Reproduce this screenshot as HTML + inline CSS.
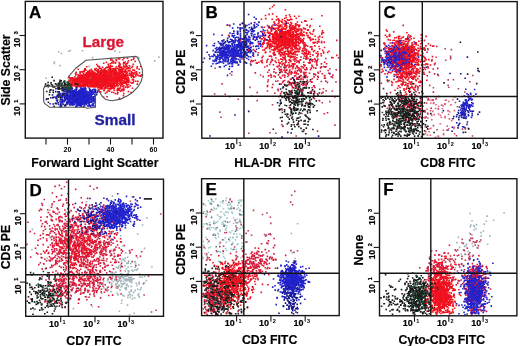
<!DOCTYPE html>
<html><head><meta charset="utf-8"><style>
html,body{margin:0;padding:0;background:#fff;width:520px;height:346px;overflow:hidden}
svg{display:block;filter:blur(0.35px)}
text{font-family:"Liberation Sans",sans-serif}
</style></head><body>
<svg width="520" height="346" viewBox="0 0 520 346">
<path fill="none" stroke="#a2caca" stroke-width="1.6" stroke-linecap="square" d="M240.0 234.4h0M206.2 255.4h0M222.8 203.3h0M216.2 238.5h0M214.1 233.8h0M223.5 208.7h0M243.0 225.9h0M203.1 257.3h0M220.9 217.4h0M223.6 256.6h0M209.4 227.7h0M228.3 208.2h0M218.2 206.7h0M224.9 225.0h0M210.4 204.1h0M237.9 205.4h0M218.4 234.4h0M233.8 233.8h0M207.7 212.5h0M208.4 228.6h0M205.5 213.9h0M210.4 246.7h0M203.6 245.4h0M226.3 242.4h0M234.3 233.9h0M242.1 243.1h0M218.8 251.4h0M216.4 208.7h0M221.3 217.0h0M227.8 205.2h0M217.9 221.5h0M239.7 215.2h0M207.6 224.6h0M240.2 221.1h0M228.2 212.5h0M219.8 219.0h0M223.2 223.6h0M226.8 212.0h0M223.9 213.5h0M212.4 201.1h0"/>
<path fill="none" stroke="#9fb4b8" stroke-width="1.6" stroke-linecap="square" d="M119.4 70.2h0M94.8 78.7h0M137.4 73.7h0M60.0 65.6h0M54.2 63.4h0M120.2 77.0h0M114.9 51.1h0M68.5 79.2h0M130.4 297.2h0M136.4 270.1h0M131.3 286.4h0M115.5 285.0h0M123.2 283.7h0M118.9 285.2h0M127.6 274.3h0M132.4 298.9h0M133.1 271.3h0M128.2 263.1h0M131.9 270.3h0M129.7 294.2h0M111.8 283.4h0M126.3 289.4h0M137.0 285.4h0M112.0 280.0h0M139.8 277.1h0M136.2 283.3h0M126.4 269.0h0M105.5 264.9h0M121.2 283.8h0M125.5 280.5h0M116.0 276.1h0M115.6 278.0h0M124.9 276.2h0M126.4 285.4h0M113.0 276.6h0M130.9 282.2h0M117.9 268.1h0M116.4 280.7h0M127.5 305.1h0M146.4 280.6h0M134.6 261.6h0M135.2 290.4h0M130.3 279.0h0M129.3 281.1h0M112.5 275.9h0M125.0 266.0h0M129.8 253.4h0M127.0 284.4h0M118.1 294.9h0M122.8 295.5h0M124.8 283.4h0M119.3 285.9h0M133.7 292.4h0M144.5 248.4h0M73.4 308.6h0M56.0 234.9h0M62.1 240.3h0M100.3 284.1h0M59.8 237.8h0M86.6 201.7h0M80.8 291.3h0M132.1 196.7h0M292.2 252.8h0M481.0 232.6h0M472.2 243.8h0M458.4 237.3h0M481.2 236.1h0M483.4 231.0h0M468.1 251.4h0M468.5 254.5h0M470.3 226.8h0M476.5 224.6h0"/>
<path fill="none" stroke="#607c84" stroke-width="1.6" stroke-linecap="square" d="M223.0 201.0h0M213.3 234.9h0M223.0 251.3h0M240.0 210.3h0M236.4 229.8h0M213.9 223.4h0M206.6 223.8h0M240.0 221.3h0M228.8 239.3h0"/>
<path fill="none" stroke="#e0607a" stroke-width="1.6" stroke-linecap="square" d="M423.2 106.2h0M440.3 115.2h0M434.2 114.6h0M423.8 117.5h0M447.3 126.1h0M448.6 114.5h0M430.4 135.2h0M444.9 103.9h0M452.3 118.7h0M433.9 102.8h0M451.7 120.8h0M441.3 117.3h0M425.4 117.2h0M431.7 115.4h0M448.7 128.8h0M436.0 99.2h0M435.6 108.5h0M424.0 96.9h0"/>
<path fill="none" stroke="#b8405e" stroke-width="1.6" stroke-linecap="square" d="M281.2 84.1h0M319.6 100.7h0M284.8 68.4h0M280.9 66.9h0M251.7 96.0h0M214.6 94.0h0M296.2 136.0h0M250.4 63.8h0M275.9 133.2h0M301.7 101.6h0M260.5 75.0h0M303.6 131.4h0M464.8 92.0h0M429.7 85.4h0M448.7 87.3h0M426.3 117.0h0M471.9 111.5h0M472.5 136.0h0M456.5 135.8h0M462.5 129.1h0M468.4 128.3h0M432.5 100.1h0M139.6 274.3h0M47.2 223.5h0M73.7 279.9h0M144.1 295.0h0M106.7 199.4h0M125.7 218.8h0M99.8 279.7h0M151.5 312.0h0M134.5 206.9h0M31.8 287.3h0M133.7 196.8h0M117.6 256.1h0M100.0 272.1h0M30.8 298.9h0M96.5 213.6h0M206.1 216.6h0M209.9 224.8h0M226.5 232.5h0M237.0 222.8h0M235.1 220.3h0M207.3 228.6h0M240.6 222.5h0M241.7 238.3h0M291.7 195.3h0M294.8 191.4h0M262.2 255.9h0M248.2 230.8h0M270.1 233.7h0M265.6 236.1h0M256.5 253.9h0M270.7 234.6h0M259.8 260.3h0M450.9 264.3h0M461.9 258.9h0M480.7 240.0h0M454.7 269.6h0M457.6 249.9h0M467.3 248.0h0M457.3 255.8h0M473.3 255.2h0M465.4 254.5h0M467.4 248.2h0M478.4 245.6h0M457.4 271.0h0"/>
<path fill="none" stroke="#d81a3c" stroke-width="1.6" stroke-linecap="square" d="M285.8 94.5h0M257.2 63.1h0M336.7 40.4h0M325.7 58.5h0M312.9 55.1h0M278.0 89.4h0M296.9 34.4h0M268.2 80.0h0M324.8 75.8h0M275.9 72.9h0M288.6 51.6h0M291.3 74.0h0M298.8 26.2h0M290.3 61.5h0M280.2 33.6h0M323.6 52.0h0M301.0 57.1h0M315.6 60.1h0M303.2 84.0h0M297.0 77.6h0M301.3 66.5h0M282.5 75.6h0M289.4 71.5h0M264.7 67.0h0M267.6 85.6h0M314.5 50.7h0M325.3 78.3h0M302.2 53.2h0M305.9 58.7h0M295.1 71.3h0M271.4 77.2h0M296.8 79.1h0M321.1 67.2h0M317.9 55.0h0M324.3 42.1h0M289.7 56.3h0M279.1 53.7h0M253.4 39.3h0M290.7 52.6h0M279.8 39.0h0M338.5 57.8h0M321.4 63.9h0M267.4 46.4h0M314.5 93.4h0M301.5 90.4h0M319.8 26.3h0M255.3 72.9h0M284.5 80.6h0M285.1 72.1h0M288.4 74.3h0M281.7 91.6h0M307.5 82.3h0M292.9 40.7h0M251.3 60.2h0M299.3 76.7h0M289.6 53.9h0M279.9 32.1h0M319.7 89.3h0M317.9 72.3h0M289.0 84.6h0M281.6 69.6h0M288.6 81.4h0M299.0 79.2h0M297.0 66.0h0M321.3 81.5h0M289.6 83.6h0M289.9 70.1h0M294.8 61.2h0M323.1 92.4h0M310.4 69.8h0M327.4 82.4h0M299.8 85.3h0M303.0 85.2h0M301.1 70.2h0M314.6 92.0h0M326.1 90.7h0M313.7 85.9h0M284.5 84.2h0M286.1 72.7h0M318.2 77.3h0M279.9 83.7h0M295.2 85.7h0M303.5 72.8h0M406.6 50.7h0M411.2 49.2h0M405.7 61.6h0M403.3 79.8h0M384.6 43.1h0M407.6 68.8h0M413.3 58.4h0M406.5 58.2h0M395.4 70.7h0M407.7 60.1h0M425.1 58.7h0M406.6 41.2h0M417.3 69.0h0M390.5 92.6h0M392.2 60.7h0M436.7 46.5h0M406.7 72.3h0M417.6 64.3h0M429.5 72.1h0M421.8 55.6h0M399.9 76.7h0M407.3 73.3h0M406.4 48.2h0M404.6 67.1h0M395.6 55.7h0M385.8 61.2h0M428.4 43.8h0M410.7 103.0h0M400.0 87.5h0M425.4 117.7h0M409.7 95.0h0M406.2 98.3h0M409.8 106.3h0M412.0 100.4h0M409.4 106.1h0M401.7 103.5h0M414.8 119.1h0M421.2 117.3h0M411.1 95.3h0M412.8 105.0h0M399.8 96.6h0M400.9 99.4h0M405.6 102.7h0M420.3 97.2h0M407.8 104.5h0M401.0 106.9h0M408.8 91.1h0M403.4 109.2h0M383.6 102.7h0M398.5 106.8h0M423.9 110.6h0M415.0 96.1h0M397.8 106.0h0M412.2 97.8h0M72.6 251.3h0M86.3 234.3h0M95.4 241.5h0M75.6 276.3h0M89.3 266.2h0M90.4 227.0h0M79.4 215.6h0M99.1 242.5h0M42.2 276.8h0M68.0 243.7h0M59.6 249.4h0M93.9 229.7h0M76.1 254.1h0M71.8 238.9h0M59.0 281.1h0M104.2 243.7h0M86.8 232.5h0M101.4 249.1h0M93.0 219.7h0M73.4 268.1h0M98.4 274.4h0M77.3 259.0h0M96.4 235.9h0M88.4 219.1h0M74.3 260.5h0M69.9 249.7h0M90.2 249.9h0M37.8 245.3h0M68.5 240.4h0M83.9 239.3h0M92.3 229.5h0M73.7 232.4h0M84.0 258.9h0M63.1 240.9h0M88.0 248.5h0M90.2 216.9h0M73.2 245.3h0M76.5 237.8h0M62.7 226.4h0M86.8 240.9h0M75.5 259.9h0M88.2 256.5h0M88.6 254.8h0M62.0 247.3h0M76.6 255.4h0M78.8 280.4h0M80.6 225.9h0M65.8 230.8h0M72.8 229.8h0M78.4 256.2h0M91.6 228.3h0M75.5 248.7h0M74.6 258.1h0M66.9 223.9h0M103.6 242.3h0M94.0 255.9h0M78.7 229.7h0M109.6 233.4h0M91.1 250.4h0M64.4 251.4h0M81.1 247.0h0M82.3 231.1h0M70.3 228.0h0M76.0 223.1h0M62.7 236.0h0M55.8 213.5h0M61.7 305.4h0M50.0 214.4h0M59.4 241.3h0M54.9 257.1h0M64.0 253.4h0M56.0 271.0h0M64.9 246.8h0M63.6 229.0h0M58.8 243.4h0M54.4 245.4h0M102.6 220.8h0M79.7 265.9h0M53.1 211.4h0M56.2 219.4h0M63.5 244.0h0M100.9 232.5h0M60.7 243.1h0M59.4 185.4h0M58.0 209.4h0M40.6 209.0h0M64.1 240.5h0M76.7 236.9h0M72.1 236.3h0M57.2 258.7h0M77.5 217.2h0M50.8 237.5h0M73.6 237.0h0M38.8 264.6h0M60.7 273.3h0M56.5 248.7h0M80.9 259.1h0M55.9 261.1h0M80.7 269.3h0M65.9 238.8h0M46.7 239.0h0M60.1 275.4h0M88.1 221.9h0M86.8 215.0h0M59.0 241.0h0M74.3 242.3h0M59.6 251.0h0M85.8 213.3h0M69.6 236.3h0M59.3 212.2h0M65.2 243.2h0M66.9 202.9h0M78.0 226.3h0M57.1 263.7h0M43.6 251.3h0M52.8 272.2h0M71.2 241.4h0M56.0 234.2h0M66.3 198.7h0M62.7 206.3h0M51.7 230.9h0M52.5 221.0h0M46.3 221.6h0M59.2 254.0h0M72.7 265.1h0M71.5 225.1h0M61.6 195.2h0M69.9 247.8h0M69.8 284.5h0M74.5 241.1h0M73.3 268.1h0M57.1 261.2h0M60.4 200.0h0M68.3 242.8h0M65.6 238.6h0M61.5 188.8h0M75.8 217.3h0M84.8 237.6h0M54.0 201.7h0M60.1 250.2h0M68.3 225.8h0M43.3 244.6h0M52.8 247.5h0M41.9 203.5h0M94.3 206.4h0M54.6 232.8h0M70.3 238.4h0M67.9 273.7h0M91.3 304.7h0M88.6 237.2h0M63.4 204.4h0M71.2 264.8h0M68.0 213.7h0M43.3 237.7h0M93.0 261.3h0M54.1 212.2h0M69.1 244.1h0M67.8 226.0h0M68.3 257.5h0M60.7 216.6h0M64.8 242.1h0M73.2 215.5h0M59.3 260.5h0M51.0 215.8h0M64.8 210.0h0M67.4 298.4h0M46.6 234.9h0M71.3 296.0h0M69.5 284.4h0M111.9 286.3h0M99.4 287.3h0M92.2 282.7h0M78.7 285.2h0M62.2 277.4h0M79.8 277.5h0M87.7 264.6h0M97.5 279.1h0M79.0 290.1h0M76.2 285.9h0M95.6 274.2h0M117.6 287.9h0M106.7 273.0h0M72.9 277.1h0M93.1 279.7h0M73.8 285.2h0M79.9 277.7h0M86.9 285.9h0M64.0 286.3h0M76.1 284.4h0M90.9 281.3h0M89.1 276.8h0M80.8 290.0h0M81.5 279.4h0M81.1 293.0h0M66.5 274.5h0M94.0 280.1h0M89.8 282.2h0M100.8 282.5h0M80.6 294.2h0M67.5 287.5h0M86.7 286.2h0M103.2 279.7h0M94.3 272.6h0M110.3 277.4h0M100.4 282.6h0M84.9 290.0h0M97.5 281.0h0M108.7 295.5h0M116.6 279.5h0M100.5 272.1h0M97.9 282.8h0M109.6 282.5h0M70.6 295.2h0M84.0 279.2h0M112.3 272.6h0M100.2 279.4h0M92.7 287.7h0M103.0 286.2h0M117.1 286.5h0M69.5 292.2h0M73.1 288.0h0M97.3 277.5h0M87.5 283.7h0M90.1 276.4h0M81.5 279.7h0M87.7 279.0h0M72.2 279.2h0M89.5 262.7h0M84.4 280.8h0M99.7 283.0h0M96.1 215.3h0M89.5 228.9h0M83.1 235.3h0M104.6 210.6h0M98.1 226.2h0M76.8 218.6h0M88.2 216.1h0M101.1 215.1h0M80.4 218.7h0M72.4 225.4h0M88.2 219.7h0M89.1 223.7h0M92.3 218.0h0M96.4 228.8h0M100.2 211.5h0M109.7 206.1h0M78.0 227.6h0M61.9 233.0h0M108.0 215.7h0M72.8 204.5h0M101.4 218.9h0M102.0 228.7h0M113.1 231.5h0M100.7 222.0h0M84.5 218.5h0M108.6 225.2h0M81.1 236.2h0M100.4 216.3h0M85.0 207.9h0M65.1 225.0h0M63.7 263.4h0M84.0 257.4h0M120.6 238.8h0M106.1 255.1h0M89.5 256.2h0M113.5 268.9h0M81.7 252.0h0M86.6 251.7h0M90.4 253.6h0M121.3 241.9h0M99.4 244.3h0M82.6 256.0h0M106.8 235.4h0M105.9 254.5h0M107.9 243.9h0M115.3 259.9h0M81.5 266.5h0M135.8 265.8h0M93.8 251.5h0M72.1 252.4h0M89.2 239.7h0M86.5 265.8h0M104.4 248.0h0M79.3 255.1h0M88.3 254.7h0M81.3 259.1h0M92.6 268.4h0M106.9 259.0h0M81.2 242.9h0M84.8 252.9h0M96.0 250.7h0M96.9 245.4h0M76.0 253.2h0M75.7 246.1h0M114.5 233.9h0M92.2 241.4h0M69.8 257.3h0M79.1 246.4h0M87.1 252.7h0M82.4 245.0h0M66.4 238.6h0M94.7 251.1h0M124.3 245.5h0M96.7 259.3h0M100.1 252.1h0M91.6 254.2h0M75.0 247.3h0M100.9 250.7h0M93.9 255.5h0M102.5 255.2h0M136.4 255.9h0M96.3 264.7h0M120.0 258.7h0M82.5 250.0h0M122.6 251.2h0M99.8 257.0h0M120.6 241.9h0M97.8 248.0h0M86.2 265.1h0M97.2 247.9h0M102.7 246.8h0M130.2 252.5h0M80.4 281.7h0M66.7 294.7h0M65.7 290.4h0M60.7 290.1h0M59.9 296.2h0M56.3 295.5h0M73.1 283.0h0M68.4 300.0h0M53.5 258.0h0M58.8 285.0h0M54.4 299.6h0M62.7 284.7h0M59.9 287.1h0M64.9 292.2h0M51.8 265.4h0M65.0 307.4h0M46.1 280.0h0M50.8 282.3h0M55.7 274.2h0M62.4 284.8h0M71.9 290.7h0M55.6 279.6h0M65.9 282.8h0M55.3 281.1h0M54.8 277.8h0M61.1 292.6h0M63.1 281.6h0M69.0 279.0h0M247.3 283.1h0M274.0 253.9h0M233.6 266.0h0M234.1 279.2h0M244.6 283.4h0M253.2 262.7h0M265.9 262.6h0M269.3 263.5h0M253.3 258.9h0M256.3 274.9h0M259.8 260.7h0M257.2 268.0h0M244.1 273.2h0M250.8 267.9h0M244.5 268.9h0M248.4 273.9h0M242.4 276.4h0M245.1 275.7h0M247.1 263.5h0M251.8 271.6h0M231.7 274.3h0M262.1 255.5h0M265.3 249.6h0M247.5 260.4h0M253.1 277.0h0M248.2 277.5h0M236.0 275.0h0M275.5 268.2h0M244.7 267.8h0M254.9 265.7h0M259.5 271.6h0M232.2 269.1h0M268.4 240.9h0M212.5 276.9h0M266.9 264.4h0M261.1 261.3h0M254.4 274.3h0M269.8 257.2h0M238.5 263.2h0M240.6 276.9h0M253.0 255.9h0M256.5 252.8h0M239.3 279.3h0M272.3 257.5h0M233.2 271.4h0M243.1 274.0h0M236.9 287.8h0M274.2 238.5h0M264.4 261.9h0M239.5 280.4h0M242.3 267.6h0M240.7 268.7h0M254.2 256.2h0M244.7 272.7h0M275.8 259.9h0M224.5 280.4h0M228.7 279.0h0M221.5 293.4h0M225.7 291.5h0M203.2 309.0h0M211.8 295.4h0M210.4 281.4h0M226.9 301.0h0M212.6 310.2h0M221.3 295.1h0M211.9 313.8h0M211.4 301.6h0M213.4 299.2h0M209.9 306.3h0M225.3 286.5h0M216.9 293.9h0M228.9 293.8h0M209.9 300.4h0M204.7 299.8h0M204.7 301.0h0M211.8 309.5h0M214.3 290.9h0M204.8 295.1h0M221.4 303.1h0M215.4 290.9h0M207.1 294.5h0M220.3 286.5h0M228.6 291.0h0M222.3 299.5h0M208.4 295.4h0M208.6 305.9h0M207.1 314.3h0M213.8 293.7h0M217.0 294.4h0M227.5 297.1h0M206.6 295.8h0M203.1 281.8h0M216.2 285.3h0M202.8 296.8h0M211.2 300.2h0M210.7 290.2h0M212.2 285.5h0M214.7 310.5h0M220.0 298.1h0M207.1 310.8h0M214.3 297.5h0M428.4 270.3h0M432.4 278.8h0M436.2 250.8h0M432.1 272.5h0M438.8 254.9h0M443.2 267.8h0M448.2 253.4h0M444.8 252.9h0M438.9 272.2h0M450.9 269.2h0M428.8 280.5h0M441.8 256.1h0M428.0 270.9h0M452.1 266.5h0M437.1 266.5h0M439.9 266.2h0M431.5 251.0h0M445.6 267.8h0M431.6 264.2h0M433.9 265.8h0M436.2 272.8h0M436.9 277.0h0M427.2 268.4h0M435.3 267.8h0M441.6 271.7h0M434.3 262.8h0M443.3 268.7h0M438.1 283.7h0M430.7 273.9h0M434.3 260.9h0M477.5 270.2h0M477.6 272.0h0M467.8 282.1h0M475.2 277.7h0M471.5 269.4h0M465.6 293.1h0M478.8 276.2h0M469.7 288.6h0M467.3 282.7h0M476.4 276.6h0M478.7 283.4h0M469.4 259.6h0M467.8 271.5h0M463.5 276.2h0M477.3 285.6h0M471.1 283.7h0M469.4 278.9h0M474.0 278.2h0M470.6 282.5h0M472.4 263.6h0M473.2 297.0h0M461.1 280.0h0M475.5 282.5h0M473.0 266.1h0M468.8 272.2h0M462.0 275.4h0M478.9 268.1h0M465.4 260.3h0M469.8 276.8h0M478.6 287.5h0M478.2 267.0h0M472.8 271.9h0M474.4 285.6h0M470.8 293.4h0M467.1 302.3h0M483.1 305.7h0M473.8 281.3h0M474.4 281.7h0M486.9 291.0h0M460.7 295.5h0M479.9 275.3h0M472.3 275.9h0M482.9 292.9h0M469.1 293.7h0M468.6 286.9h0M473.2 299.4h0M485.9 297.0h0M478.3 288.8h0M485.7 287.3h0M473.9 304.3h0M480.4 285.0h0M474.1 303.9h0M458.9 289.7h0M483.6 300.0h0M483.7 310.6h0M478.9 269.3h0M467.3 287.0h0M473.8 293.9h0M482.1 286.2h0M484.8 294.1h0M474.6 311.3h0M472.8 295.7h0M486.2 278.2h0M466.1 291.7h0M476.1 285.0h0M473.6 298.9h0M472.8 275.2h0M469.1 299.8h0M467.1 292.8h0"/>
<path fill="none" stroke="#f0101e" stroke-width="1.6" stroke-linecap="square" d="M91.5 77.6h0M86.1 81.2h0M83.9 81.1h0M79.4 78.7h0M86.2 81.7h0M95.3 78.7h0M91.1 79.0h0M79.4 82.4h0M91.5 79.9h0M93.9 83.3h0M110.4 83.0h0M118.3 79.9h0M99.1 77.5h0M101.3 83.2h0M85.4 77.6h0M103.5 78.3h0M99.3 73.4h0M101.9 84.9h0M111.7 78.4h0M91.4 86.4h0M107.2 79.4h0M86.9 76.9h0M97.3 84.7h0M93.3 75.5h0M100.0 89.0h0M99.0 81.3h0M77.7 78.5h0M94.7 81.6h0M96.5 79.1h0M101.5 76.2h0M92.0 85.7h0M83.9 74.9h0M90.9 85.6h0M88.0 82.1h0M74.6 84.8h0M78.5 82.6h0M84.4 84.9h0M98.1 80.8h0M85.3 80.6h0M101.1 85.1h0M106.0 72.0h0M74.7 85.6h0M99.0 79.6h0M85.8 79.2h0M98.5 80.2h0M76.8 79.9h0M70.0 78.7h0M91.7 75.8h0M97.0 70.9h0M81.8 71.9h0M95.4 74.4h0M90.9 75.0h0M106.0 73.6h0M77.1 83.6h0M92.4 86.8h0M94.5 78.4h0M75.8 83.9h0M109.7 71.8h0M91.8 84.0h0M90.0 82.2h0M110.1 68.9h0M104.4 78.8h0M94.0 75.6h0M100.3 86.2h0M100.7 91.9h0M103.3 79.0h0M93.6 81.3h0M97.8 70.1h0M91.9 80.2h0M88.3 78.8h0M75.3 79.0h0M112.2 81.0h0M88.7 76.7h0M111.6 80.7h0M96.2 82.2h0M89.9 74.9h0M93.4 84.0h0M100.5 75.9h0M82.1 75.2h0M81.7 80.5h0M75.8 75.0h0M106.2 79.8h0M87.2 82.2h0M89.2 78.8h0M96.9 79.1h0M76.1 81.1h0M101.0 86.6h0M125.3 79.3h0M93.6 77.3h0M106.3 81.6h0M86.1 81.7h0M87.7 78.9h0M92.6 83.7h0M84.6 77.5h0M88.9 80.2h0M99.4 77.4h0M93.2 83.5h0M99.9 76.5h0M81.8 78.2h0M82.0 78.1h0M79.9 84.6h0M94.6 76.9h0M117.2 80.4h0M101.7 79.7h0M109.5 75.4h0M78.4 83.8h0M85.7 74.6h0M91.7 84.9h0M91.3 79.5h0M82.4 83.6h0M90.6 76.7h0M90.4 84.9h0M83.5 73.6h0M92.4 77.9h0M92.6 77.2h0M86.4 76.6h0M92.3 75.6h0M88.5 71.2h0M96.0 84.8h0M101.2 84.9h0M106.2 73.5h0M104.6 81.4h0M75.9 86.5h0M96.0 83.1h0M89.5 84.3h0M96.6 76.7h0M100.5 74.0h0M86.6 73.0h0M95.8 79.0h0M80.4 79.3h0M92.2 82.8h0M114.6 81.5h0M101.4 75.2h0M117.7 79.4h0M109.6 79.6h0M90.4 85.3h0M72.1 80.5h0M71.5 78.5h0M86.5 85.1h0M80.3 82.2h0M95.5 80.9h0M85.7 77.9h0M92.9 80.9h0M92.5 74.7h0M100.7 79.8h0M98.2 69.5h0M87.6 82.8h0M82.0 79.1h0M70.8 79.5h0M105.5 85.7h0M89.3 82.5h0M101.3 83.0h0M99.4 80.3h0M101.6 83.6h0M82.3 80.7h0M107.8 78.7h0M92.8 83.6h0M92.2 75.5h0M87.6 79.1h0M118.0 79.9h0M110.5 77.2h0M92.9 79.0h0M87.2 81.1h0M100.5 88.8h0M105.6 88.8h0M83.6 83.5h0M84.4 77.0h0M102.7 84.7h0M80.3 83.2h0M96.1 76.1h0M72.3 83.4h0M97.5 78.8h0M96.9 81.4h0M108.1 79.1h0M72.4 78.6h0M111.9 71.2h0M88.4 81.3h0M83.2 78.7h0M104.3 76.7h0M101.1 73.5h0M85.5 79.0h0M84.3 71.7h0M79.9 78.4h0M81.0 78.1h0M84.7 75.1h0M123.8 74.6h0M95.2 74.5h0M91.3 75.5h0M103.4 84.6h0M102.2 80.8h0M79.2 77.2h0M84.4 70.3h0M77.5 83.7h0M88.3 77.4h0M107.2 82.0h0M102.7 85.7h0M104.4 71.6h0M95.6 79.9h0M85.4 82.0h0M92.0 75.6h0M73.9 81.9h0M87.7 82.9h0M96.2 73.7h0M91.5 80.0h0M85.3 84.6h0M107.1 76.4h0M103.4 84.4h0M79.0 79.1h0M91.3 82.0h0M103.8 70.8h0M89.6 84.3h0M91.2 78.1h0M106.0 81.2h0M104.8 73.7h0M92.3 75.9h0M98.9 84.9h0M87.1 84.1h0M105.0 82.4h0M92.4 79.2h0M83.1 84.5h0M69.0 81.1h0M78.3 82.0h0M88.0 82.0h0M92.4 73.5h0M102.7 78.9h0M103.0 76.9h0M73.4 78.3h0M80.0 77.8h0M82.9 80.8h0M72.5 85.8h0M98.3 80.1h0M104.4 85.5h0M110.2 73.3h0M95.3 79.1h0M92.8 75.2h0M82.9 80.0h0M124.2 75.2h0M90.3 86.6h0M86.2 80.5h0M107.0 87.4h0M92.7 80.0h0M78.2 83.4h0M85.5 80.4h0M81.8 81.5h0M98.9 71.0h0M95.7 77.6h0M107.6 72.1h0M125.1 82.7h0M106.9 83.1h0M117.2 79.3h0M95.1 85.1h0M112.2 86.6h0M107.6 72.8h0M127.4 87.5h0M120.8 81.7h0M106.5 79.1h0M130.0 70.5h0M116.2 59.9h0M103.5 97.2h0M103.3 86.1h0M125.7 81.5h0M105.1 77.3h0M125.9 78.3h0M121.4 72.5h0M99.2 76.1h0M101.4 76.8h0M114.0 84.4h0M117.4 76.2h0M124.9 82.5h0M99.3 82.8h0M119.2 75.4h0M104.7 71.8h0M119.1 76.8h0M113.0 68.6h0M105.5 93.2h0M106.4 78.2h0M119.7 80.6h0M114.3 90.2h0M108.5 76.8h0M123.7 78.3h0M128.5 79.6h0M112.3 70.3h0M115.5 68.3h0M116.0 79.6h0M125.5 82.7h0M101.8 79.6h0M126.2 82.2h0M105.0 69.4h0M121.1 76.3h0M110.0 84.7h0M115.2 82.8h0M109.7 77.7h0M115.0 75.2h0M118.9 76.4h0M114.6 77.2h0M102.9 83.5h0M119.7 73.4h0M135.8 74.8h0M113.7 92.5h0M94.9 84.7h0M119.9 78.1h0M107.5 72.7h0M136.6 71.7h0M99.2 87.3h0M119.4 98.3h0M118.3 58.8h0M125.0 67.1h0M113.4 61.5h0M106.3 80.1h0M128.3 79.6h0M105.3 70.7h0M131.4 75.8h0M118.7 75.1h0M117.0 73.7h0M112.6 83.4h0M122.4 69.4h0M124.3 71.4h0M117.7 68.4h0M106.0 79.0h0M103.0 80.3h0M121.7 77.2h0M115.4 71.3h0M125.9 76.4h0M118.7 73.3h0M116.8 80.8h0M115.1 76.1h0M114.9 80.8h0M102.6 83.7h0M137.0 68.5h0M106.7 84.3h0M122.1 82.8h0M103.8 79.4h0M121.9 84.6h0M121.1 71.1h0M121.0 80.1h0M139.1 76.0h0M125.7 78.3h0M101.2 74.8h0M124.1 78.1h0M107.0 73.1h0M106.6 72.4h0M100.5 82.0h0M126.1 74.9h0M139.6 72.7h0M118.4 73.2h0M109.3 76.9h0M110.5 84.0h0M135.9 76.0h0M123.2 86.0h0M123.9 85.8h0M117.1 81.7h0M133.3 79.3h0M97.8 87.8h0M102.1 76.3h0M109.0 80.9h0M110.1 88.5h0M110.4 65.5h0M117.5 78.2h0M103.6 73.7h0M102.5 77.4h0M120.4 76.9h0M135.0 72.2h0M131.2 75.1h0M112.2 78.4h0M112.1 73.0h0M122.4 69.7h0M128.6 86.8h0M117.4 78.0h0M110.9 84.3h0M128.4 91.5h0M108.0 79.8h0M103.0 83.1h0M120.4 69.8h0M104.7 80.5h0M106.4 82.2h0M107.2 79.9h0M107.2 83.8h0M113.9 85.4h0M118.5 81.4h0M124.1 82.6h0M111.9 86.5h0M101.2 77.7h0M117.0 85.0h0M114.3 72.0h0M125.4 72.2h0M105.2 85.3h0M126.8 80.3h0M124.0 58.2h0M117.6 88.2h0M121.1 82.8h0M105.5 71.7h0M121.4 90.3h0M112.8 71.3h0M139.2 69.3h0M133.9 58.1h0M132.9 70.1h0M91.4 69.3h0M99.5 68.2h0M128.0 82.5h0M94.7 85.3h0M127.9 87.2h0M126.4 82.1h0M117.2 83.6h0M85.0 68.7h0M126.3 83.9h0M131.8 74.0h0M125.2 61.9h0M106.2 82.9h0M96.8 81.0h0M103.1 78.1h0M119.7 59.0h0M86.7 66.8h0M111.7 63.0h0M120.9 67.7h0M101.3 75.7h0M119.2 79.9h0M142.2 74.7h0M117.6 77.0h0M126.3 66.1h0M106.9 79.8h0M103.5 77.3h0M123.4 83.4h0M112.2 70.9h0M96.7 64.5h0M99.5 84.9h0M99.5 82.2h0M111.1 76.6h0M95.4 77.1h0M280.1 26.2h0M287.8 37.8h0M290.8 40.4h0M280.0 46.8h0M286.9 33.6h0M284.3 39.1h0M292.8 44.7h0M268.5 43.6h0M290.7 19.1h0M274.1 36.6h0M284.5 53.9h0M296.2 40.0h0M282.1 26.6h0M285.3 37.4h0M274.8 48.6h0M287.3 42.3h0M291.1 25.1h0M290.6 44.5h0M285.0 46.8h0M273.7 46.5h0M295.4 32.0h0M299.5 48.4h0M282.2 48.9h0M284.7 41.5h0M283.5 32.5h0M290.5 42.7h0M285.7 33.4h0M295.5 42.8h0M296.2 44.1h0M283.7 39.3h0M270.0 32.6h0M288.8 35.5h0M281.3 31.4h0M295.8 27.3h0M288.9 30.3h0M269.0 27.6h0M283.0 42.8h0M270.1 33.9h0M276.3 32.6h0M288.5 41.4h0M273.6 37.9h0M277.7 46.3h0M289.5 44.7h0M288.8 38.7h0M287.1 43.6h0M293.5 33.9h0M275.4 38.0h0M301.0 33.0h0M290.6 51.1h0M287.5 45.5h0M261.8 44.6h0M284.8 57.5h0M282.3 31.7h0M283.9 38.6h0M293.0 46.3h0M276.9 38.2h0M265.1 39.1h0M285.6 22.0h0M294.6 26.6h0M268.9 36.1h0M284.4 44.5h0M271.1 47.4h0M298.2 39.6h0M288.4 42.9h0M291.9 36.7h0M296.4 45.6h0M290.0 40.1h0M291.9 42.8h0M293.0 40.6h0M287.5 30.5h0M286.3 44.0h0M276.7 25.0h0M293.7 36.8h0M294.9 28.0h0M283.1 44.1h0M295.0 36.8h0M279.8 34.7h0M292.2 39.4h0M288.1 39.2h0M301.4 40.9h0M301.7 33.4h0M293.7 46.4h0M288.4 39.9h0M279.3 20.7h0M274.2 42.6h0M285.2 34.8h0M293.9 53.9h0M293.0 40.2h0M298.8 51.8h0M295.6 31.8h0M284.7 26.1h0M274.7 34.2h0M286.5 38.5h0M271.7 30.5h0M290.5 36.8h0M279.6 27.4h0M272.1 33.8h0M284.3 46.2h0M296.4 36.6h0M288.9 43.2h0M283.5 35.0h0M287.4 40.4h0M286.1 35.2h0M284.3 29.0h0M276.3 28.2h0M274.0 46.5h0M299.0 16.3h0M285.1 38.4h0M295.9 52.2h0M275.8 47.6h0M285.5 28.8h0M287.0 35.6h0M278.7 38.8h0M285.5 34.2h0M290.1 33.1h0M300.8 38.8h0M288.1 23.1h0M291.5 28.3h0M298.1 34.4h0M280.8 31.3h0M284.9 42.3h0M287.7 43.5h0M283.0 38.5h0M289.4 34.6h0M280.7 31.2h0M284.7 24.0h0M276.2 31.4h0M285.3 40.4h0M292.2 38.1h0M282.0 22.1h0M293.4 35.5h0M288.0 32.7h0M298.0 45.3h0M307.3 35.4h0M280.0 37.1h0M280.9 34.8h0M281.7 41.4h0M290.1 28.1h0M273.1 28.4h0M277.0 45.6h0M282.4 19.6h0M273.6 39.5h0M281.7 32.2h0M286.7 41.9h0M279.6 49.2h0M271.5 56.7h0M289.5 39.8h0M279.8 38.5h0M281.4 45.5h0M290.9 56.3h0M333.0 57.8h0M278.7 62.2h0M269.7 45.9h0M265.5 15.5h0M284.7 64.6h0M282.0 54.6h0M310.3 25.6h0M288.9 67.4h0M305.2 54.0h0M270.1 51.6h0M293.1 67.4h0M304.4 52.7h0M316.2 53.2h0M311.9 65.4h0M267.0 43.4h0M267.9 42.7h0M278.9 19.5h0M272.5 6.7h0M262.3 46.8h0M271.0 33.8h0M274.5 44.0h0M304.2 76.7h0M253.7 56.3h0M305.2 46.0h0M300.8 42.3h0M287.9 39.3h0M270.1 45.5h0M285.1 58.1h0M300.6 40.8h0M291.8 28.3h0M297.9 61.1h0M271.7 45.2h0M308.1 35.6h0M303.4 51.0h0M284.9 54.9h0M267.2 65.9h0M287.1 47.4h0M310.1 63.0h0M280.5 69.7h0M259.1 43.8h0M269.1 14.4h0M297.1 54.9h0M288.9 56.5h0M265.6 52.1h0M287.6 51.1h0M308.5 51.4h0M280.2 46.3h0M261.1 61.1h0M289.5 40.1h0M322.3 37.2h0M292.3 63.8h0M286.1 17.6h0M290.0 36.0h0M278.8 49.2h0M285.0 58.4h0M296.9 57.7h0M304.4 56.0h0M321.9 15.8h0M274.8 50.2h0M283.8 39.5h0M253.5 60.8h0M287.8 48.4h0M276.8 31.5h0M293.5 65.9h0M284.8 20.7h0M288.4 56.2h0M292.3 54.1h0M291.5 34.2h0M314.0 43.1h0M294.1 46.6h0M306.8 56.5h0M306.4 53.3h0M274.1 36.7h0M331.8 57.6h0M294.5 28.4h0M286.7 69.5h0M322.7 50.4h0M303.3 42.2h0M294.2 53.5h0M259.1 22.2h0M292.4 34.4h0M283.7 57.6h0M307.3 80.4h0M287.8 49.4h0M262.5 38.7h0M263.8 37.4h0M254.8 22.8h0M284.6 65.5h0M270.5 39.7h0M306.0 56.4h0M311.8 46.9h0M299.0 34.2h0M281.5 44.3h0M301.7 22.2h0M322.5 30.9h0M290.8 48.8h0M300.3 76.2h0M298.9 25.9h0M304.4 66.0h0M312.1 39.4h0M288.8 41.7h0M279.8 70.3h0M304.2 74.9h0M274.8 28.8h0M304.3 47.4h0M304.0 46.7h0M303.0 35.4h0M274.8 54.7h0M287.4 42.5h0M264.6 49.9h0M280.2 63.1h0M401.9 64.5h0M399.2 45.8h0M432.5 56.6h0M404.6 52.5h0M406.9 32.7h0M403.3 46.9h0M400.9 43.9h0M409.6 53.1h0M392.4 53.4h0M411.1 46.8h0M414.7 52.8h0M411.4 66.9h0M423.6 56.4h0M399.4 55.4h0M403.5 61.9h0M400.6 55.9h0M408.0 49.2h0M412.5 61.4h0M400.0 41.2h0M399.7 68.9h0M389.0 52.8h0M400.1 69.9h0M410.5 49.3h0M398.6 57.8h0M402.1 60.8h0M395.5 46.1h0M426.1 36.4h0M409.5 56.7h0M406.2 65.0h0M391.0 62.9h0M406.3 50.5h0M389.8 61.8h0M402.8 62.6h0M390.0 49.8h0M406.1 52.3h0M416.2 44.6h0M422.0 43.1h0M411.4 61.2h0M425.1 64.7h0M402.7 57.6h0M403.8 59.2h0M387.9 62.3h0M412.6 68.4h0M404.2 51.4h0M403.5 55.2h0M387.6 73.7h0M427.1 52.2h0M402.9 70.7h0M399.9 72.8h0M411.8 45.3h0M405.7 51.3h0M413.7 47.2h0M399.3 53.9h0M397.0 43.2h0M387.2 80.1h0M406.6 52.8h0M390.2 48.5h0M395.2 59.1h0M385.4 35.3h0M394.3 67.1h0M407.1 57.6h0M388.6 58.9h0M414.9 66.9h0M401.3 50.0h0M411.3 66.0h0M406.7 66.2h0M416.2 43.5h0M398.0 44.9h0M417.2 56.0h0M406.0 46.7h0M394.7 57.3h0M394.9 62.9h0M399.7 55.4h0M401.4 47.4h0M398.4 60.5h0M393.8 57.5h0M409.5 46.8h0M414.1 41.8h0M396.5 56.0h0M394.9 56.8h0M422.0 48.6h0M384.9 44.6h0M387.2 60.3h0M407.1 47.7h0M400.6 40.8h0M399.8 51.7h0M408.1 56.7h0M395.5 45.2h0M399.6 57.7h0M409.0 67.4h0M399.7 61.9h0M403.0 53.7h0M390.4 59.9h0M405.1 41.4h0M412.8 61.2h0M399.7 41.3h0M393.7 31.9h0M405.0 47.8h0M413.6 61.6h0M430.5 45.4h0M405.9 54.3h0M405.4 64.0h0M409.0 67.0h0M401.0 76.9h0M414.1 53.3h0M423.8 61.5h0M406.3 65.8h0M383.0 71.1h0M400.9 59.9h0M386.0 48.3h0M407.2 57.5h0M395.8 65.6h0M401.3 57.7h0M398.3 45.5h0M397.1 50.5h0M407.9 36.4h0M394.6 43.4h0M393.1 54.7h0M388.4 48.3h0M385.8 50.2h0M411.3 71.6h0M402.6 48.8h0M408.5 38.9h0M409.3 66.1h0M428.8 59.6h0M394.5 48.8h0M412.4 66.1h0M414.6 55.7h0M416.0 53.0h0M404.1 58.8h0M407.7 49.2h0M421.6 59.7h0M423.8 56.7h0M395.6 50.1h0M394.4 52.5h0M401.9 63.4h0M388.8 49.1h0M410.4 67.4h0M425.9 45.9h0M398.9 47.5h0M403.4 60.9h0M401.7 40.8h0M388.4 48.0h0M387.5 67.2h0M405.4 48.7h0M420.6 48.9h0M393.0 40.5h0M407.1 44.1h0M412.6 59.9h0M401.6 55.8h0M401.0 75.4h0M408.2 55.2h0M399.5 51.8h0M409.8 48.2h0M395.9 41.7h0M401.8 52.0h0M385.0 62.1h0M404.7 48.1h0M401.0 69.4h0M383.8 43.4h0M389.1 60.4h0M387.9 57.7h0M402.4 76.1h0M404.8 77.4h0M391.9 61.3h0M408.5 73.1h0M404.5 53.5h0M420.1 68.4h0M394.7 68.6h0M427.7 64.3h0M398.6 71.3h0M395.7 67.7h0M399.3 72.7h0M384.7 62.9h0M408.2 68.6h0M411.5 64.0h0M404.0 88.9h0M395.2 67.4h0M407.0 75.7h0M415.1 87.5h0M400.7 70.1h0M414.3 75.7h0M398.4 80.8h0M394.4 68.6h0M400.2 71.6h0M397.1 74.3h0M406.2 77.1h0M420.8 43.7h0M416.8 64.6h0M414.6 73.3h0M407.5 85.8h0M403.8 61.0h0M403.9 76.0h0M405.7 82.7h0M413.9 89.1h0M401.8 74.4h0M401.5 62.9h0M412.0 73.7h0M406.2 74.7h0M414.0 57.9h0M420.3 81.0h0M419.2 76.3h0M410.2 82.3h0M403.3 61.9h0M408.5 71.3h0M414.2 60.6h0M423.1 67.4h0M402.9 70.0h0M408.4 69.0h0M394.0 79.4h0M400.2 71.1h0M407.0 74.3h0M398.2 74.8h0M409.4 71.4h0M416.3 80.8h0M412.9 79.1h0M410.4 73.5h0M398.0 60.8h0M81.6 251.4h0M70.4 260.4h0M55.1 243.8h0M103.1 255.5h0M69.7 247.5h0M62.1 248.7h0M83.9 238.8h0M59.1 246.2h0M83.8 252.3h0M72.5 227.3h0M81.2 262.7h0M82.1 240.5h0M64.2 241.7h0M100.8 242.2h0M108.6 233.8h0M62.4 243.2h0M85.2 233.1h0M77.5 251.2h0M92.3 263.4h0M89.2 249.2h0M83.7 260.2h0M89.7 252.4h0M73.3 250.7h0M80.6 238.8h0M53.5 265.5h0M88.5 237.3h0M68.9 267.6h0M77.2 237.4h0M77.5 243.9h0M79.1 275.6h0M103.5 258.2h0M109.2 244.2h0M68.2 261.9h0M69.9 249.5h0M78.4 245.0h0M78.1 255.7h0M84.5 252.8h0M75.9 276.8h0M87.3 243.1h0M91.3 254.7h0M67.6 239.1h0M79.3 273.3h0M99.4 248.2h0M79.3 254.4h0M63.4 252.3h0M88.8 238.6h0M75.8 258.2h0M60.7 241.6h0M48.7 252.6h0M114.3 237.3h0M73.0 249.2h0M64.8 262.9h0M87.5 239.1h0M59.7 257.6h0M92.0 240.7h0M101.1 245.3h0M90.8 266.6h0M88.6 236.9h0M90.6 234.5h0M68.9 249.4h0M94.9 247.1h0M77.1 240.2h0M72.6 229.2h0M243.6 274.6h0M226.2 277.5h0M239.5 269.5h0M248.6 276.5h0M236.1 288.0h0M228.0 298.5h0M229.6 294.9h0M217.5 279.5h0M221.4 290.4h0M224.4 275.0h0M223.3 292.4h0M213.0 262.7h0M220.5 291.9h0M246.2 274.0h0M231.4 265.5h0M242.5 273.8h0M237.1 291.6h0M237.7 284.1h0M239.9 281.9h0M227.0 267.3h0M227.8 280.3h0M239.1 281.0h0M236.3 276.8h0M230.6 305.9h0M238.8 271.3h0M241.7 285.0h0M226.4 271.2h0M228.1 292.8h0M236.9 294.1h0M238.4 294.4h0M242.0 274.7h0M224.5 282.4h0M242.6 283.2h0M248.6 289.8h0M227.8 302.2h0M233.6 261.8h0M229.9 272.2h0M242.2 286.6h0M218.7 274.6h0M219.8 279.5h0M220.6 274.1h0M232.2 278.9h0M247.9 268.1h0M224.9 283.2h0M232.5 260.4h0M217.9 281.0h0M235.8 278.2h0M231.0 277.9h0M242.6 275.9h0M242.9 276.7h0M235.1 288.8h0M222.3 295.5h0M232.3 278.1h0M225.2 287.2h0M222.1 280.5h0M239.8 278.9h0M240.2 282.7h0M226.4 292.7h0M232.3 278.7h0M240.7 267.8h0M229.5 278.0h0M226.8 281.4h0M223.1 269.0h0M233.7 300.6h0M254.8 281.5h0M244.3 277.5h0M226.0 293.7h0M227.3 272.9h0M250.5 276.3h0M230.0 270.0h0M228.5 296.7h0M237.6 286.1h0M232.4 281.1h0M228.7 284.3h0M216.7 266.2h0M239.9 278.6h0M221.8 292.1h0M227.0 278.5h0M236.5 289.7h0M240.4 273.9h0M225.6 267.6h0M234.0 261.2h0M215.6 273.3h0M253.6 269.1h0M225.4 282.7h0M244.7 283.8h0M236.5 281.6h0M231.0 278.4h0M224.3 307.1h0M216.3 291.9h0M226.2 285.0h0M213.6 284.7h0M219.5 304.9h0M226.6 289.7h0M242.2 275.0h0M234.1 286.0h0M236.2 282.5h0M242.3 272.3h0M212.0 286.9h0M247.5 270.6h0M231.8 270.3h0M229.1 307.3h0M252.8 292.4h0M257.2 275.3h0M232.8 306.9h0M230.2 286.5h0M241.4 293.3h0M245.1 287.9h0M242.0 290.8h0M219.4 276.5h0M238.3 278.4h0M241.2 282.6h0M250.9 279.9h0M228.3 281.2h0M222.1 263.1h0M225.4 284.9h0M224.7 269.7h0M219.9 293.4h0M219.2 296.0h0M228.6 278.7h0M245.2 266.5h0M227.1 292.4h0M226.7 274.0h0M247.8 287.0h0M243.8 294.0h0M232.0 272.4h0M226.0 269.2h0M245.7 277.9h0M236.5 270.6h0M252.1 290.1h0M253.7 278.3h0M212.3 292.8h0M243.5 288.1h0M240.4 286.5h0M215.9 295.0h0M234.6 301.2h0M227.8 298.6h0M231.7 281.5h0M238.3 280.1h0M230.7 285.3h0M231.7 282.5h0M240.4 290.6h0M230.4 298.1h0M222.5 294.0h0M223.3 251.4h0M231.8 275.6h0M222.8 299.7h0M221.6 292.6h0M221.2 281.0h0M231.9 288.5h0M241.1 275.7h0M236.5 281.1h0M234.1 283.3h0M224.9 276.8h0M222.8 284.8h0M217.1 287.0h0M230.0 274.0h0M219.7 281.2h0M235.9 259.7h0M230.8 308.6h0M220.5 282.9h0M430.1 289.1h0M436.5 289.4h0M435.5 295.8h0M434.8 310.5h0M448.2 283.1h0M441.6 271.1h0M439.4 304.7h0M439.8 286.4h0M435.6 287.9h0M431.8 286.5h0M438.8 306.7h0M436.8 283.4h0M445.2 304.5h0M430.8 299.3h0M435.7 302.0h0M432.5 283.5h0M445.3 297.4h0M450.2 297.3h0M443.5 288.3h0M430.4 300.6h0M445.7 296.2h0M444.5 306.1h0M443.5 280.7h0M432.1 300.2h0M445.3 290.8h0M446.9 282.5h0M430.8 288.2h0M437.6 296.4h0M431.2 305.9h0M442.7 288.9h0M427.6 296.5h0M446.6 306.7h0M452.9 288.7h0M434.4 303.1h0M437.6 280.7h0M429.2 281.0h0M443.7 304.3h0M426.1 292.2h0M440.7 304.2h0M443.7 289.8h0M435.1 273.6h0M432.6 280.8h0M435.8 288.4h0M443.7 272.2h0M437.6 298.6h0M441.5 297.8h0M438.9 307.3h0M436.5 292.2h0M433.4 300.1h0M454.0 295.4h0M429.1 294.8h0M438.3 285.2h0M453.3 312.8h0M439.0 279.7h0M440.0 287.7h0M432.2 288.8h0M447.0 302.0h0M438.8 297.8h0M427.0 305.9h0M435.4 287.5h0M440.8 278.6h0M445.4 289.4h0M440.3 289.1h0M448.6 299.0h0M441.4 282.3h0M444.1 292.2h0M441.6 271.2h0M442.4 312.2h0M446.8 286.4h0M446.0 304.2h0M455.7 279.2h0M436.6 314.2h0M443.8 291.1h0M444.2 282.3h0M449.4 288.9h0M430.5 298.1h0M435.5 303.7h0M441.2 308.3h0M445.9 277.2h0M438.6 296.1h0M441.0 275.4h0M447.6 297.2h0M440.8 290.3h0M444.1 300.5h0M438.6 291.2h0M443.1 300.9h0M452.3 286.5h0M438.4 272.1h0M433.8 298.5h0M444.1 268.1h0M439.6 271.7h0M438.6 292.6h0M437.5 275.3h0M452.1 286.8h0M449.8 304.2h0M453.7 290.1h0M443.2 281.3h0M449.7 282.2h0M434.9 275.5h0M451.6 297.6h0M451.4 297.1h0M436.5 294.4h0M444.6 298.3h0M438.7 275.4h0M443.9 288.4h0M437.7 279.9h0M433.4 283.6h0M450.6 265.7h0M454.0 289.1h0M435.3 302.6h0M440.2 291.3h0M447.2 288.0h0M438.0 302.6h0M433.0 291.3h0M432.1 268.7h0M451.8 280.1h0M435.8 279.9h0M434.5 296.1h0M442.9 305.4h0M448.1 285.5h0M445.4 284.1h0M434.5 281.1h0M439.0 284.2h0M440.0 269.3h0M436.6 300.4h0M445.8 305.5h0M434.4 283.5h0M441.9 287.9h0M439.0 281.0h0M441.2 307.2h0M440.3 291.0h0M427.1 296.2h0M436.6 279.9h0M430.7 294.7h0M444.7 303.9h0M437.5 271.0h0M445.3 292.5h0M433.3 300.3h0M443.3 282.6h0M452.2 267.8h0M443.1 303.5h0M440.3 290.5h0M447.5 310.1h0M445.9 278.6h0M432.2 287.3h0M442.0 300.2h0M438.1 286.9h0M439.5 296.3h0M442.4 283.7h0M446.0 285.2h0M430.9 283.2h0M431.4 277.9h0M445.5 310.5h0M440.4 308.8h0M456.3 284.9h0M440.3 279.3h0M436.2 290.8h0M429.2 302.9h0M450.5 305.5h0M446.3 298.6h0M439.6 272.7h0M444.8 302.0h0M437.7 295.9h0M446.2 290.3h0M436.4 302.6h0M435.8 289.7h0M438.6 290.0h0M438.6 294.8h0M442.4 283.3h0M449.7 296.8h0M435.1 309.5h0M445.3 292.4h0M437.1 298.6h0M444.2 272.4h0M441.3 298.0h0M440.6 300.6h0M434.9 280.7h0M443.6 297.7h0M438.8 286.9h0M443.3 276.6h0M447.1 288.9h0M438.0 300.2h0M438.2 274.1h0M437.4 301.1h0M432.5 307.1h0M441.0 313.5h0M442.1 286.3h0M436.5 298.6h0M446.6 299.9h0M450.1 300.2h0M449.7 287.4h0M447.0 280.1h0M448.3 308.0h0M442.8 304.3h0M431.2 289.7h0M447.2 299.2h0M444.0 293.2h0M438.4 295.7h0M441.7 295.3h0M449.8 283.7h0M444.9 282.9h0M445.0 300.6h0M446.5 301.9h0M437.4 297.6h0M442.7 301.5h0M442.2 268.3h0M427.1 311.3h0M439.6 289.0h0M455.3 290.1h0M452.7 301.7h0M429.9 296.7h0M437.6 297.9h0M436.1 296.4h0M436.9 301.2h0M438.4 290.1h0M446.3 295.9h0M428.7 288.2h0"/>
<path fill="none" stroke="#16168a" stroke-width="1.6" stroke-linecap="square" d="M56.6 103.6h0M84.3 98.6h0M53.2 90.4h0M77.6 95.0h0M71.9 95.3h0M80.9 100.9h0M61.9 99.5h0M59.4 96.2h0M76.2 100.4h0M62.3 96.7h0M62.8 100.3h0M76.6 87.9h0M77.6 102.0h0M74.6 99.7h0M89.8 97.3h0M73.3 98.5h0M70.3 98.0h0M59.5 94.2h0M83.3 97.1h0M73.2 92.6h0M81.0 106.1h0M78.2 105.4h0M73.1 91.3h0M91.4 99.1h0M58.7 95.1h0M80.6 92.7h0M56.1 98.4h0M61.9 96.7h0M217.3 58.8h0M239.5 39.9h0M227.2 25.0h0M251.0 65.0h0M260.9 31.5h0M220.4 57.4h0M229.9 25.6h0M236.9 51.7h0M255.0 27.7h0M237.1 50.3h0M229.4 53.3h0M240.1 24.6h0M220.5 61.7h0M240.8 39.0h0M238.6 41.0h0M220.2 49.8h0M244.7 51.4h0M232.3 48.2h0M227.8 46.4h0M233.1 56.3h0M245.6 54.0h0M209.8 58.7h0M240.5 48.9h0M245.0 36.4h0M318.6 136.1h0M248.6 14.5h0M280.6 102.0h0M235.0 115.0h0M459.5 107.0h0M456.7 122.8h0M468.6 115.7h0M463.9 114.8h0M466.6 100.9h0M465.1 114.4h0M467.4 122.0h0M463.4 132.4h0M458.0 127.9h0M464.5 117.8h0M458.3 112.5h0M452.1 131.2h0M464.3 96.0h0M450.0 73.5h0M426.3 67.3h0M106.9 224.9h0M91.9 230.8h0M104.4 228.4h0M103.3 220.7h0M77.2 233.3h0M97.0 219.8h0M105.0 219.5h0M99.5 228.5h0M109.5 213.1h0M99.1 223.1h0M109.8 213.3h0M88.2 227.0h0M108.8 223.3h0M110.8 217.5h0M86.8 220.0h0M93.8 221.5h0M84.8 211.7h0M96.6 219.5h0M89.4 215.6h0M100.5 206.8h0M99.9 221.3h0M91.2 213.6h0M93.5 219.4h0M88.1 212.8h0M91.0 208.2h0M81.3 208.0h0M93.4 228.8h0M103.5 225.3h0M89.1 207.4h0M95.5 206.1h0M108.5 216.0h0M93.8 223.5h0M92.9 209.0h0M84.0 221.6h0M96.7 205.4h0M79.1 219.6h0M94.5 224.5h0M104.4 233.4h0M289.8 295.3h0M292.2 287.9h0M286.5 293.6h0M291.2 305.7h0M295.6 282.2h0M289.5 306.1h0M296.1 279.9h0M292.8 309.1h0M288.2 288.9h0M288.6 296.6h0M292.7 310.6h0M291.6 307.5h0M295.3 302.8h0M285.4 274.3h0M293.9 277.9h0M291.0 300.2h0M286.8 309.2h0M290.9 283.4h0M295.9 312.0h0M293.2 307.4h0M294.8 293.9h0M297.7 287.6h0M285.1 290.3h0M302.0 272.1h0M290.7 288.6h0M289.0 306.2h0M298.0 308.5h0M296.7 297.7h0M295.4 294.2h0M293.1 292.0h0M290.1 292.5h0M290.4 304.2h0M292.5 306.8h0M296.8 290.7h0M292.2 264.9h0M280.7 282.6h0M289.4 298.4h0M289.2 303.0h0M286.6 285.5h0"/>
<path fill="none" stroke="#2222cc" stroke-width="1.6" stroke-linecap="square" d="M92.7 89.7h0M79.3 93.6h0M71.1 95.2h0M67.3 98.9h0M93.7 99.8h0M80.7 88.5h0M80.2 104.5h0M90.4 89.8h0M77.0 98.7h0M75.7 89.6h0M82.0 103.7h0M74.1 98.2h0M89.3 95.8h0M84.4 91.2h0M69.3 90.5h0M78.5 100.9h0M63.1 101.1h0M89.9 90.1h0M95.8 92.7h0M72.8 99.3h0M90.3 99.2h0M83.6 101.2h0M81.2 94.8h0M73.0 101.0h0M84.5 89.8h0M88.3 98.0h0M88.8 102.6h0M90.6 105.9h0M93.1 92.8h0M80.1 99.0h0M73.8 97.3h0M87.5 94.7h0M69.1 102.7h0M73.0 100.7h0M91.4 95.3h0M88.7 102.5h0M76.1 92.7h0M81.4 106.1h0M81.1 98.8h0M76.4 93.7h0M65.6 104.5h0M94.1 100.2h0M76.3 96.3h0M79.6 99.8h0M83.8 88.3h0M85.2 97.5h0M79.0 103.0h0M87.3 95.6h0M76.8 97.2h0M88.0 103.1h0M77.7 92.2h0M88.3 97.3h0M60.9 103.8h0M75.0 101.6h0M87.1 100.5h0M86.5 101.0h0M85.4 100.7h0M74.5 98.1h0M77.0 94.1h0M88.1 98.6h0M82.2 95.6h0M90.3 98.2h0M66.5 97.6h0M87.7 96.6h0M89.6 92.7h0M97.4 91.1h0M92.7 98.5h0M91.0 93.4h0M84.3 104.9h0M67.0 94.2h0M80.3 96.6h0M57.5 96.6h0M72.7 97.3h0M72.2 103.5h0M95.0 99.3h0M87.7 92.0h0M75.2 94.5h0M75.7 99.0h0M85.2 95.5h0M79.2 95.8h0M65.5 100.2h0M61.0 99.7h0M91.4 95.7h0M88.7 100.2h0M58.9 92.2h0M79.6 97.5h0M78.4 98.3h0M61.6 106.2h0M62.0 101.8h0M64.7 96.5h0M89.9 99.7h0M82.9 94.6h0M68.2 100.8h0M83.6 94.3h0M74.5 99.0h0M85.9 93.9h0M89.8 105.8h0M88.3 105.4h0M62.9 95.0h0M70.3 92.6h0M87.6 95.8h0M63.6 94.4h0M82.6 103.3h0M86.0 99.5h0M83.9 99.4h0M89.1 98.1h0M79.3 97.5h0M87.9 98.4h0M70.7 92.7h0M75.4 98.7h0M84.0 91.9h0M72.7 100.8h0M82.9 89.5h0M72.0 97.9h0M93.8 96.7h0M80.4 101.3h0M92.6 105.4h0M83.8 93.0h0M71.8 96.2h0M65.3 99.1h0M91.6 101.3h0M75.6 91.3h0M95.5 89.7h0M89.1 94.4h0M81.5 91.5h0M80.3 98.6h0M83.1 97.7h0M83.7 103.2h0M73.8 93.6h0M74.7 96.9h0M86.0 96.6h0M80.9 105.5h0M79.3 92.9h0M78.1 97.2h0M92.2 92.2h0M85.5 96.4h0M76.7 95.2h0M69.8 97.0h0M74.8 90.4h0M82.1 99.4h0M68.7 99.8h0M79.6 97.9h0M66.8 103.2h0M90.5 97.8h0M89.0 97.6h0M68.1 98.4h0M91.2 91.0h0M94.7 91.7h0M87.8 106.0h0M83.0 96.2h0M79.5 103.2h0M89.8 91.1h0M62.5 100.2h0M58.6 104.4h0M81.1 91.0h0M74.2 91.1h0M90.6 99.1h0M60.3 99.9h0M72.7 97.0h0M64.9 96.3h0M82.2 89.1h0M97.5 92.2h0M86.3 91.1h0M85.3 87.7h0M80.3 100.8h0M83.0 101.2h0M77.8 104.7h0M63.4 88.9h0M88.2 96.5h0M94.0 98.5h0M76.5 100.9h0M84.7 105.6h0M78.7 93.8h0M80.6 88.0h0M80.6 98.1h0M64.4 95.1h0M88.4 99.5h0M69.7 102.8h0M80.4 99.1h0M223.2 52.2h0M231.0 55.3h0M232.3 49.3h0M234.1 62.4h0M240.0 60.1h0M223.9 54.1h0M234.6 44.2h0M245.3 57.0h0M219.8 47.4h0M221.5 57.5h0M241.5 51.1h0M222.9 53.7h0M232.1 56.0h0M226.3 56.1h0M223.0 42.0h0M232.6 55.9h0M204.4 58.4h0M219.8 54.0h0M226.9 55.9h0M234.7 52.0h0M232.8 46.3h0M223.4 59.4h0M235.8 56.6h0M228.1 64.0h0M224.9 47.7h0M224.9 51.8h0M222.0 56.6h0M238.4 56.0h0M216.3 60.3h0M217.4 63.3h0M215.6 59.4h0M237.3 53.7h0M219.1 59.3h0M214.3 45.8h0M239.8 50.1h0M232.9 57.3h0M225.9 51.7h0M217.1 63.2h0M245.8 46.4h0M242.1 52.8h0M239.5 44.7h0M224.8 57.4h0M236.9 45.7h0M237.2 62.9h0M238.9 53.8h0M227.1 52.0h0M241.3 57.4h0M229.4 42.2h0M247.9 50.3h0M219.0 62.8h0M240.6 53.5h0M227.3 50.0h0M237.7 51.2h0M216.0 56.6h0M231.9 55.6h0M228.1 49.9h0M221.8 51.5h0M227.7 54.3h0M240.3 39.0h0M215.5 48.5h0M234.6 58.0h0M224.0 55.5h0M214.8 55.4h0M235.6 62.7h0M225.3 61.4h0M222.0 48.3h0M225.9 47.8h0M237.1 52.0h0M234.6 60.6h0M215.9 59.4h0M228.4 50.8h0M234.6 50.1h0M223.8 54.6h0M238.7 47.0h0M219.8 47.9h0M240.5 49.2h0M244.1 49.7h0M232.5 63.9h0M246.1 47.5h0M219.6 49.7h0M230.1 51.2h0M241.8 46.2h0M223.6 60.7h0M233.0 53.3h0M238.9 45.3h0M219.3 57.3h0M222.2 50.5h0M232.8 55.8h0M234.0 47.6h0M240.4 49.4h0M238.7 54.7h0M228.6 48.9h0M220.4 49.7h0M238.5 51.3h0M248.6 59.5h0M262.0 32.0h0M253.4 46.3h0M260.2 43.3h0M238.3 40.5h0M237.4 31.3h0M229.3 49.0h0M248.8 56.7h0M240.2 29.2h0M241.8 45.8h0M237.8 34.1h0M258.8 22.4h0M240.1 38.6h0M230.5 39.3h0M244.1 38.8h0M224.4 47.1h0M245.6 52.6h0M252.7 43.5h0M221.1 45.2h0M253.7 28.2h0M258.7 43.5h0M252.2 31.2h0M263.3 29.9h0M239.0 45.1h0M241.6 49.3h0M264.1 35.5h0M240.5 33.3h0M256.1 18.9h0M235.2 37.8h0M247.0 54.6h0M255.9 37.0h0M233.6 49.0h0M237.8 41.0h0M241.3 43.9h0M251.6 50.2h0M269.8 35.5h0M246.7 43.9h0M246.6 45.8h0M254.5 26.1h0M241.7 49.7h0M250.9 51.7h0M271.2 28.9h0M229.4 47.8h0M243.4 47.5h0M251.7 29.1h0M239.9 61.7h0M251.5 31.7h0M263.5 42.7h0M241.2 44.6h0M232.3 59.3h0M248.2 39.9h0M241.7 43.4h0M262.7 33.9h0M235.2 41.2h0M239.9 40.8h0M227.0 47.6h0M254.2 37.2h0M249.9 37.9h0M248.7 51.1h0M229.5 41.8h0M227.5 49.2h0M218.0 56.1h0M232.6 28.1h0M249.9 43.7h0M385.4 61.1h0M395.3 65.8h0M406.4 67.6h0M383.6 61.1h0M401.7 58.3h0M395.5 62.0h0M408.9 64.1h0M404.2 72.6h0M383.9 48.9h0M394.0 46.7h0M403.4 61.5h0M391.5 56.8h0M393.7 58.9h0M412.9 69.1h0M399.8 63.0h0M390.6 68.4h0M393.4 59.7h0M385.1 51.6h0M388.6 54.5h0M404.1 50.6h0M398.4 49.7h0M394.9 57.1h0M423.1 49.2h0M406.3 53.0h0M417.8 64.7h0M388.2 62.4h0M402.8 58.5h0M396.1 61.5h0M414.1 50.9h0M394.5 59.9h0M401.7 64.3h0M404.2 43.5h0M400.6 54.4h0M400.1 62.8h0M390.5 62.1h0M387.3 52.9h0M383.7 62.8h0M406.3 54.8h0M403.3 52.7h0M398.8 48.7h0M400.5 56.6h0M406.7 53.1h0M413.8 58.3h0M394.1 51.8h0M403.2 72.0h0M390.8 62.7h0M405.4 68.5h0M402.0 63.0h0M389.0 54.7h0M396.2 53.7h0M402.0 58.8h0M408.5 49.8h0M406.0 45.2h0M405.4 57.0h0M386.6 56.7h0M401.7 58.9h0M409.5 53.2h0M396.9 58.7h0M411.5 56.1h0M396.3 61.1h0M403.6 51.1h0M405.2 57.7h0M405.4 59.2h0M393.1 57.0h0M402.7 56.8h0M389.3 62.9h0M390.3 58.9h0M414.2 55.2h0M390.7 62.2h0M409.3 54.5h0M389.7 61.5h0M398.1 64.6h0M404.3 57.3h0M389.6 51.1h0M401.5 50.1h0M387.8 65.1h0M394.7 60.7h0M398.9 54.8h0M389.7 58.6h0M473.4 111.2h0M463.9 106.1h0M466.7 105.4h0M460.8 112.9h0M472.2 113.6h0M463.4 109.3h0M468.3 114.7h0M465.8 89.2h0M463.1 117.4h0M462.2 105.3h0M464.2 108.2h0M471.0 105.4h0M469.8 99.1h0M461.8 115.3h0M472.4 99.5h0M469.6 105.4h0M461.7 113.2h0M464.6 115.6h0M462.7 108.8h0M470.8 98.2h0M467.0 106.0h0M469.2 96.2h0M460.6 109.7h0M464.4 107.3h0M466.8 102.2h0M463.8 103.1h0M471.8 102.7h0M107.5 210.3h0M105.2 214.2h0M110.6 221.6h0M111.3 227.4h0M116.7 226.8h0M121.3 212.5h0M111.2 216.0h0M112.4 216.4h0M118.0 222.7h0M123.0 212.9h0M108.5 212.3h0M135.5 203.4h0M106.5 208.4h0M113.3 211.6h0M136.3 214.9h0M122.8 212.5h0M113.7 219.2h0M119.4 221.4h0M116.9 211.6h0M126.0 209.7h0M120.2 222.4h0M109.0 216.0h0M115.5 221.8h0M113.8 215.7h0M113.5 220.1h0M127.7 219.8h0M120.1 213.1h0M130.6 221.5h0M116.9 211.6h0M112.7 227.8h0M111.8 210.8h0M135.0 206.2h0M115.3 220.0h0M102.8 207.1h0M105.9 214.1h0M104.1 225.5h0M94.9 218.0h0M110.8 228.5h0M102.8 220.7h0M101.4 215.3h0M124.3 211.9h0M110.2 204.5h0M134.4 224.0h0M116.8 222.5h0M96.6 229.5h0M120.1 206.4h0M99.7 218.5h0M107.4 209.8h0M108.5 200.6h0M117.7 193.7h0M110.7 203.0h0M132.2 204.3h0M120.2 211.0h0M121.1 212.7h0M125.5 220.5h0M116.8 210.7h0M108.2 216.7h0M128.2 205.3h0M111.9 217.5h0M104.1 212.7h0M116.8 228.2h0M135.5 199.6h0M107.3 211.4h0M120.7 210.3h0M115.3 199.9h0M123.1 210.1h0M107.6 206.0h0M126.9 220.1h0M97.5 216.4h0M117.5 221.9h0M108.3 206.7h0M128.2 213.3h0M106.6 214.6h0M102.9 217.4h0M95.5 227.1h0M109.1 214.0h0M123.7 216.2h0M99.1 221.8h0M129.9 211.1h0M114.6 210.6h0M119.2 218.9h0M105.0 208.5h0M100.5 222.1h0M114.7 227.5h0M116.4 221.9h0M118.2 222.4h0M110.4 215.3h0M124.0 216.2h0M116.4 220.5h0M126.5 214.8h0M105.0 214.2h0M129.7 210.0h0M115.8 214.7h0M117.2 219.1h0M107.4 209.4h0M97.3 218.9h0M115.2 217.1h0M117.6 219.7h0M131.0 213.1h0M126.4 219.3h0M109.6 214.1h0M105.6 211.9h0M116.0 212.7h0M109.7 211.8h0M118.9 207.9h0M128.1 216.0h0M114.4 225.9h0M121.1 212.7h0M121.4 216.1h0M100.9 211.7h0M127.9 208.3h0M113.9 207.1h0M125.7 218.3h0M108.7 221.9h0M123.9 215.0h0M116.6 209.0h0M116.1 220.7h0M117.5 213.5h0M110.4 223.9h0M136.1 218.0h0M126.8 212.0h0M120.2 199.8h0M122.5 211.2h0M112.3 218.7h0M109.9 214.9h0M106.4 217.7h0M104.8 217.7h0M105.3 219.5h0M111.3 201.0h0M112.7 206.7h0M106.3 216.5h0M123.1 212.1h0M120.7 207.0h0M113.5 211.4h0M128.7 211.8h0M119.4 202.3h0M118.0 217.7h0M132.7 217.2h0M114.6 216.5h0M129.8 215.6h0M115.6 209.0h0M126.8 205.6h0M122.0 220.5h0M112.7 219.2h0M114.1 203.0h0M108.0 207.0h0M117.6 212.3h0M116.4 215.1h0M117.6 210.9h0M112.6 215.1h0M117.3 223.8h0M96.5 216.1h0M119.2 215.4h0M110.2 236.1h0M111.6 209.2h0M109.8 207.0h0M123.1 206.1h0M106.3 215.2h0M127.5 215.4h0M115.2 211.1h0M107.8 219.7h0M104.1 213.9h0M102.2 232.0h0M292.7 285.1h0M282.9 292.5h0M291.0 272.0h0M292.6 287.6h0M294.2 296.2h0M287.6 280.8h0M285.3 282.0h0M294.9 271.8h0M290.8 269.5h0M308.2 281.6h0M291.5 287.5h0M291.6 271.6h0M292.3 290.4h0M288.5 276.0h0M287.5 279.6h0M297.9 279.0h0M292.0 278.4h0M288.1 289.8h0M292.6 278.9h0M288.4 273.3h0M299.6 282.2h0M295.6 275.7h0M295.2 294.7h0M294.2 294.6h0M285.3 280.6h0M285.4 281.7h0M289.9 284.4h0M280.9 265.7h0M293.1 286.5h0M303.4 272.4h0M273.5 279.0h0M288.2 269.4h0M297.4 279.7h0M295.6 291.0h0M301.3 281.4h0M290.2 282.7h0M295.7 276.3h0M299.3 277.9h0M296.4 291.3h0M292.3 271.3h0M288.4 287.0h0M291.9 274.0h0M264.5 274.5h0M278.5 289.5h0M306.7 275.3h0M301.3 271.2h0M294.1 280.4h0M303.3 277.9h0M294.0 280.0h0M292.2 273.4h0M298.6 272.7h0M291.0 292.3h0M290.3 283.7h0M291.3 295.9h0M292.8 292.0h0M293.2 265.1h0M293.3 279.5h0M294.8 284.1h0M295.7 283.8h0M283.8 273.4h0M287.2 289.6h0M293.4 280.3h0M291.9 289.1h0M298.2 283.8h0M278.2 283.0h0M292.9 276.0h0M294.1 282.9h0M289.2 281.1h0M291.2 278.1h0M291.4 286.9h0M302.7 282.6h0M285.6 281.7h0M292.8 285.1h0M291.7 276.6h0M286.4 280.8h0M293.4 275.3h0M280.2 284.6h0M282.9 274.6h0M291.4 273.1h0M296.0 271.3h0M295.5 280.8h0M288.5 288.2h0M291.1 274.6h0M294.6 280.5h0M289.0 275.4h0M291.0 276.3h0M279.7 280.2h0M302.7 266.5h0M288.9 270.3h0M289.8 275.9h0M292.6 278.9h0M294.8 266.4h0M299.4 276.6h0M295.6 278.3h0M291.1 282.4h0M280.2 292.0h0M293.5 282.1h0M293.2 276.3h0M290.6 276.2h0M291.1 273.0h0M296.3 280.9h0M286.4 281.9h0M293.2 280.7h0M301.6 285.3h0M293.8 289.5h0M292.2 284.0h0M304.5 274.8h0M295.8 279.8h0M301.7 287.4h0M284.8 282.6h0M293.8 304.1h0M276.2 304.6h0M289.2 285.1h0M293.7 291.2h0M286.0 273.9h0M296.6 291.4h0M288.3 274.9h0M290.2 268.0h0M284.8 265.8h0M281.3 271.3h0M303.4 282.4h0M292.9 285.7h0M283.4 274.6h0M294.1 277.3h0M297.1 275.7h0M291.6 279.3h0M292.5 293.4h0M294.8 282.0h0M289.7 267.8h0M296.6 280.5h0M300.9 281.0h0M287.9 268.6h0M293.0 281.9h0M293.0 275.6h0M287.1 273.0h0M281.6 286.7h0M277.2 298.3h0M299.9 277.0h0M309.5 282.1h0M284.5 278.4h0M298.3 279.0h0M292.6 279.5h0M287.1 275.0h0M295.3 280.7h0M289.7 284.2h0M299.6 279.1h0M297.1 277.1h0M290.5 276.9h0M290.6 274.0h0M293.9 274.9h0M478.8 285.6h0M468.9 291.7h0M470.8 303.6h0M468.9 297.4h0M475.9 269.6h0M464.6 286.2h0M475.8 285.0h0M475.0 295.4h0M488.6 287.8h0M482.4 291.6h0M475.0 272.3h0M468.6 307.3h0M470.1 281.1h0M476.8 276.4h0M479.2 281.1h0M475.6 288.3h0M468.2 294.3h0M465.0 299.5h0M474.1 283.9h0M468.3 298.7h0M484.2 288.7h0M466.9 306.5h0M475.1 284.6h0M474.1 285.9h0M469.2 296.3h0M478.6 285.3h0M478.7 309.6h0M474.9 296.7h0M471.9 303.2h0M470.3 279.9h0M473.0 280.6h0M470.1 292.1h0M470.5 307.6h0M475.2 287.1h0M476.0 289.9h0M489.5 299.7h0M465.6 276.3h0M474.5 279.0h0M471.4 297.8h0M474.8 282.2h0M466.7 299.3h0M490.0 272.4h0M461.8 305.0h0M481.9 285.4h0M468.2 310.3h0M475.3 285.9h0M469.3 304.1h0M478.5 284.2h0M477.0 297.2h0M469.2 282.8h0M476.9 285.6h0M473.4 308.3h0M482.4 288.9h0M484.2 296.7h0M469.1 287.3h0M479.5 297.0h0M468.4 270.7h0M464.6 277.5h0M481.0 294.5h0M479.3 283.1h0M468.5 297.8h0M477.0 271.5h0M467.8 280.8h0M465.1 301.6h0M478.1 280.4h0M470.5 293.6h0M477.4 291.4h0M487.0 283.6h0M468.0 310.7h0M468.1 285.8h0M473.5 277.4h0M472.5 285.3h0M467.4 297.7h0M463.0 278.0h0M472.4 295.2h0M471.9 283.2h0M475.2 283.1h0M471.5 308.9h0M484.1 271.9h0M465.7 288.7h0M476.2 274.0h0M471.0 295.6h0M478.4 280.8h0M475.9 306.5h0M466.7 292.4h0M467.6 290.9h0M475.5 280.0h0M470.9 293.9h0M475.0 291.5h0M482.8 310.2h0M482.1 293.4h0M459.5 281.0h0M470.2 286.5h0M475.7 275.6h0M464.1 285.5h0M465.0 314.8h0M476.0 286.5h0M478.2 313.7h0M479.4 302.2h0M471.7 296.4h0M472.7 310.4h0M477.5 301.3h0M477.5 275.4h0M488.6 278.3h0M474.0 296.8h0M479.2 298.2h0M469.1 299.9h0M477.2 298.5h0M473.8 285.7h0M472.4 288.7h0M476.5 309.8h0M476.2 299.6h0M472.1 281.3h0M478.8 281.1h0M473.4 287.9h0M468.6 286.1h0M472.9 296.6h0M475.3 294.8h0M473.0 304.6h0M479.8 291.8h0M477.1 287.8h0M470.6 301.7h0M480.1 294.6h0M478.3 312.1h0M472.5 294.1h0M475.5 280.1h0M477.1 301.4h0M478.8 277.3h0M472.7 299.9h0M469.5 294.4h0M478.7 314.0h0M468.5 270.3h0M466.8 278.5h0M474.9 299.0h0M471.9 310.9h0M469.1 298.8h0M473.1 269.9h0M472.7 284.8h0M478.1 288.1h0M471.9 297.1h0M474.9 296.1h0M471.8 292.3h0M478.5 298.8h0M467.6 290.9h0M473.9 283.7h0M477.4 294.3h0M479.5 293.4h0M469.8 308.0h0M473.8 300.6h0M471.7 275.2h0M471.4 281.1h0M475.7 288.8h0M468.9 278.5h0M468.7 281.2h0M479.6 284.5h0M475.6 291.1h0M478.7 283.0h0M478.3 313.0h0M481.2 298.0h0M480.4 298.2h0M471.5 279.5h0M474.6 292.9h0M482.6 287.2h0M477.9 289.3h0M474.9 289.6h0M476.8 279.3h0M464.4 278.6h0M473.8 294.6h0M475.9 291.3h0M474.8 283.0h0M479.3 282.9h0M467.9 294.5h0M472.2 291.0h0M474.5 291.9h0M471.2 305.4h0M475.0 293.9h0M470.6 304.8h0M478.7 307.3h0M479.3 291.6h0M471.4 295.3h0M470.0 258.6h0M484.8 292.2h0M475.4 290.8h0M478.5 280.6h0M471.1 289.3h0M481.5 294.1h0M471.6 280.8h0M480.9 301.2h0M480.3 296.3h0M472.5 307.2h0M473.4 289.0h0M474.9 307.2h0M472.4 295.1h0M474.3 285.5h0M474.9 290.7h0"/>
<path fill="none" stroke="#1d4a35" stroke-width="1.6" stroke-linecap="square" d="M68.4 85.8h0M67.0 91.5h0M63.3 89.7h0M67.2 92.2h0M67.5 85.8h0M67.8 88.0h0M72.5 88.2h0M66.8 89.4h0M70.0 92.7h0M67.8 86.7h0M68.4 82.1h0M65.1 85.4h0M66.5 85.4h0M70.0 89.6h0M64.2 81.2h0M71.4 88.6h0M66.1 87.2h0M62.9 87.8h0M302.4 101.7h0M301.7 95.1h0M306.5 97.9h0M295.4 105.2h0M298.2 101.1h0M301.0 109.0h0M303.9 95.6h0M293.5 102.5h0M302.1 89.7h0M301.9 101.4h0M284.0 67.3h0M302.4 93.1h0M399.3 121.9h0M413.8 129.4h0M396.4 115.0h0M399.3 115.7h0M401.3 120.7h0M411.3 118.9h0M403.6 124.0h0M389.0 119.5h0M413.3 106.5h0M398.6 128.2h0M397.2 110.0h0M404.5 109.3h0M397.1 123.1h0M405.3 103.1h0M419.7 109.5h0M396.7 119.1h0M391.5 108.8h0M382.4 112.5h0M410.7 111.3h0M395.5 115.3h0M403.0 109.9h0M393.6 127.4h0M405.2 126.9h0M387.8 116.2h0M391.1 124.1h0M400.9 112.0h0M53.0 293.6h0M48.2 284.1h0M53.9 290.1h0M47.9 286.0h0M63.8 269.7h0M33.5 273.3h0M49.3 297.7h0M49.9 291.6h0M49.4 295.0h0M58.9 286.9h0M37.1 295.9h0M61.0 295.0h0M41.3 286.3h0M58.1 296.9h0M57.3 303.1h0M61.0 288.7h0M48.3 283.2h0M49.4 285.6h0M44.2 290.8h0M221.5 296.3h0M223.2 307.6h0M215.9 300.4h0M214.3 302.2h0M238.6 299.0h0M216.4 288.4h0M223.3 312.2h0M213.7 272.1h0M220.7 296.2h0M214.1 304.3h0M223.6 294.3h0M206.3 290.4h0M217.9 295.5h0M225.2 299.0h0M205.1 295.4h0M221.2 281.6h0M238.9 310.1h0M227.2 289.3h0M210.3 297.4h0M209.1 304.4h0M214.6 305.6h0M208.6 283.2h0M216.9 295.2h0M431.7 290.7h0M423.1 288.4h0M413.4 295.8h0M424.3 283.8h0M424.8 293.0h0M417.3 284.7h0M420.1 298.3h0M427.3 302.5h0M411.2 286.5h0M409.8 302.6h0M411.9 304.2h0M422.7 312.4h0M415.2 284.9h0M419.5 294.3h0M411.1 299.4h0M425.0 300.6h0M424.1 285.4h0M421.0 304.4h0M413.8 305.6h0M422.9 294.7h0M419.1 290.8h0M422.2 296.3h0M421.6 307.1h0M426.7 292.3h0M420.1 289.1h0M413.8 286.9h0M417.5 307.2h0M410.6 299.2h0M422.9 301.9h0M420.0 295.4h0M421.9 292.0h0M421.8 295.7h0M418.4 294.2h0M410.9 288.2h0M418.5 299.8h0M424.9 295.7h0M417.5 306.2h0M416.1 275.5h0M426.4 292.5h0"/>
<path fill="none" stroke="#1a1a1a" stroke-width="1.6" stroke-linecap="square" d="M55.4 103.4h0M53.3 92.4h0M59.3 91.8h0M46.9 98.7h0M57.5 100.1h0M60.6 98.3h0M74.3 101.6h0M68.4 91.9h0M61.9 96.0h0M50.9 89.9h0M66.0 85.1h0M45.0 86.2h0M71.2 84.6h0M59.0 85.2h0M59.3 88.6h0M62.9 85.9h0M61.3 80.8h0M60.0 83.5h0M48.1 82.5h0M79.0 81.5h0M71.7 85.3h0M64.5 87.6h0M58.9 85.8h0M55.5 83.8h0M58.7 84.5h0M297.9 84.4h0M293.4 113.3h0M308.2 105.0h0M298.7 89.6h0M303.4 83.9h0M279.7 109.9h0M294.8 83.1h0M297.4 94.0h0M301.5 95.9h0M279.4 105.7h0M311.3 99.4h0M305.0 87.8h0M296.1 93.0h0M290.5 101.8h0M294.6 90.4h0M302.1 90.2h0M308.7 92.7h0M304.3 106.0h0M304.3 99.3h0M298.7 89.3h0M313.6 93.9h0M280.4 95.5h0M313.4 97.6h0M299.6 86.9h0M296.7 85.1h0M292.0 92.8h0M296.8 93.6h0M302.0 94.8h0M292.0 90.5h0M296.3 97.6h0M289.4 92.0h0M305.3 105.9h0M291.3 126.2h0M292.2 103.1h0M316.3 100.9h0M295.2 82.3h0M300.0 90.7h0M308.7 103.5h0M303.8 96.3h0M296.8 93.9h0M296.2 91.3h0M293.6 87.8h0M309.6 104.3h0M295.2 92.6h0M304.0 98.8h0M292.4 114.5h0M305.8 133.8h0M304.1 121.1h0M291.5 110.9h0M281.3 109.0h0M307.4 117.4h0M299.3 112.5h0M304.8 99.3h0M281.9 121.1h0M297.9 109.0h0M298.8 121.1h0M292.5 113.6h0M290.8 83.0h0M301.9 105.2h0M284.5 111.7h0M291.2 133.0h0M298.9 126.6h0M289.3 119.1h0M286.7 116.0h0M302.5 131.4h0M280.3 103.9h0M308.0 124.9h0M295.8 113.1h0M303.9 109.4h0M405.7 122.5h0M397.6 115.5h0M414.6 103.4h0M418.0 108.0h0M417.1 121.7h0M405.5 111.6h0M415.9 103.9h0M419.3 108.7h0M421.3 103.3h0M417.2 123.5h0M402.9 110.0h0M402.6 106.5h0M407.3 110.8h0M404.7 99.6h0M414.6 112.4h0M409.5 109.8h0M398.5 98.1h0M393.1 114.4h0M407.8 102.9h0M420.6 106.0h0M404.0 120.5h0M396.4 108.5h0M411.6 123.1h0M391.6 112.6h0M397.8 92.9h0M418.4 114.8h0M400.2 122.7h0M414.0 111.0h0M398.0 108.8h0M416.9 104.5h0M410.4 106.5h0M402.9 117.5h0M413.7 101.8h0M405.8 120.6h0M416.2 133.2h0M394.0 128.7h0M410.0 124.8h0M406.0 113.3h0M399.3 118.9h0M399.0 105.9h0M411.6 97.7h0M415.0 123.7h0M399.0 123.8h0M386.8 93.6h0M402.4 95.8h0M410.6 106.2h0M412.4 109.5h0M402.0 115.4h0M409.5 88.9h0M427.9 126.3h0M396.4 109.0h0M402.3 116.5h0M406.2 99.1h0M385.9 130.2h0M418.2 130.7h0M412.2 124.8h0M414.9 118.2h0M403.7 117.6h0M409.1 121.2h0M399.9 112.2h0M418.2 119.2h0M398.8 124.0h0M412.0 123.1h0M417.7 115.1h0M395.7 116.7h0M412.4 121.0h0M405.3 127.0h0M392.8 123.8h0M390.9 104.4h0M415.4 126.5h0M394.2 103.1h0M410.8 106.7h0M404.0 113.6h0M411.9 115.7h0M408.7 88.3h0M410.7 117.9h0M427.7 128.9h0M430.8 113.6h0M402.3 109.2h0M406.6 97.8h0M413.5 118.3h0M409.4 111.0h0M416.6 130.4h0M383.0 118.6h0M411.6 110.9h0M412.2 98.7h0M401.6 128.4h0M416.2 101.3h0M391.2 111.7h0M418.2 121.3h0M401.3 124.3h0M394.7 109.5h0M399.6 109.4h0M421.9 110.7h0M402.9 110.0h0M394.2 113.1h0M394.0 132.6h0M390.3 101.6h0M387.8 125.2h0M393.5 116.9h0M385.5 130.3h0M393.7 101.2h0M414.1 104.7h0M417.9 113.7h0M398.2 99.3h0M386.4 114.6h0M405.8 135.5h0M403.1 127.2h0M385.9 99.1h0M387.9 97.9h0M388.4 110.6h0M389.0 111.5h0M389.5 107.6h0M408.3 134.9h0M407.3 125.1h0M416.9 111.6h0M421.1 110.8h0M404.1 120.6h0M413.8 131.7h0M411.2 101.4h0M401.1 131.6h0M412.6 123.6h0M410.6 127.6h0M396.3 122.0h0M397.9 126.9h0M399.6 128.3h0M413.2 107.9h0M406.3 131.2h0M382.7 97.2h0M388.1 128.4h0M409.9 132.2h0M396.0 131.2h0M398.2 132.2h0M408.5 118.6h0M389.2 112.9h0M403.6 101.8h0M398.9 133.5h0M388.4 116.2h0M468.7 128.9h0M477.9 68.5h0M478.1 70.6h0M34.7 309.3h0M37.7 303.6h0M43.4 292.0h0M31.8 299.7h0M31.5 287.2h0M54.3 311.0h0M39.1 285.0h0M51.3 300.8h0M40.9 298.1h0M53.2 295.7h0M55.8 292.4h0M45.1 291.7h0M47.9 301.7h0M39.6 300.2h0M47.0 288.3h0M56.1 301.3h0M44.4 295.2h0M53.3 298.9h0M34.8 287.8h0M44.3 295.5h0M56.8 285.0h0M42.1 309.6h0M49.2 276.8h0M51.7 295.9h0M40.7 290.9h0M48.9 292.1h0M56.5 300.9h0M38.6 286.3h0M39.1 292.0h0M47.3 312.2h0M47.5 297.7h0M67.0 302.2h0M55.0 302.5h0M38.5 287.2h0M50.5 294.0h0M28.8 302.7h0M42.3 287.4h0M55.3 275.9h0M53.4 286.6h0M62.3 304.3h0M237.4 281.8h0M228.7 300.4h0M237.3 304.9h0M206.0 264.8h0M204.9 307.5h0M233.5 288.0h0M231.5 313.6h0M215.9 314.5h0M226.4 279.2h0M213.1 289.7h0M221.6 284.8h0M216.0 302.5h0M226.4 300.5h0M252.5 286.8h0M218.2 308.6h0M214.9 291.9h0M226.0 303.8h0M222.2 296.6h0M214.4 266.3h0M204.9 290.2h0M204.3 295.8h0M231.0 293.3h0M215.1 285.8h0M224.5 281.5h0M205.4 270.9h0M206.9 295.3h0M224.8 272.9h0M227.8 297.6h0M212.9 291.0h0M212.0 296.2h0M224.3 306.9h0M220.9 284.5h0M222.6 309.4h0M230.0 313.1h0M226.5 278.9h0M230.6 292.2h0M241.0 282.8h0M214.0 296.6h0M233.5 308.3h0M221.5 273.6h0M225.5 294.7h0M209.9 302.3h0M207.1 297.5h0M217.4 307.6h0M215.4 303.9h0M212.6 280.4h0M209.0 297.8h0M225.2 294.0h0M226.6 265.7h0M216.5 306.6h0M235.4 280.4h0M220.4 288.1h0M216.7 300.0h0M210.2 296.4h0M220.7 304.1h0M242.2 300.4h0M225.5 298.9h0M230.3 301.4h0M212.7 306.8h0M203.3 293.5h0M211.8 304.6h0M206.1 288.6h0M225.5 290.9h0M204.4 312.5h0M213.6 304.7h0M212.3 292.1h0M243.9 269.4h0M211.3 285.0h0M204.2 285.8h0M228.5 280.1h0M238.3 303.0h0M224.0 308.8h0M242.4 283.8h0M229.2 312.6h0M217.4 303.3h0M236.8 283.7h0M241.2 309.4h0M237.7 291.6h0M208.6 288.5h0M233.9 304.5h0M241.9 279.3h0M215.9 279.9h0M207.0 287.7h0M227.1 278.5h0M227.6 276.9h0M206.8 300.4h0M243.0 280.5h0M228.1 302.6h0M420.7 311.8h0M417.2 296.4h0M431.1 292.8h0M432.1 292.0h0M414.0 279.9h0M425.4 313.3h0M419.3 292.7h0M404.8 300.1h0M425.6 306.1h0M440.1 299.7h0M424.5 302.0h0M420.0 289.1h0M425.1 304.7h0M420.0 305.4h0M426.2 295.4h0M427.5 284.1h0M426.2 293.7h0M432.3 283.2h0M414.8 287.4h0M418.1 293.7h0M424.7 308.2h0M405.5 305.6h0M409.9 303.4h0M400.4 279.4h0M429.0 285.5h0M418.8 293.5h0M413.8 283.5h0M416.5 295.2h0M421.7 291.1h0M423.7 283.8h0M415.3 304.5h0M415.1 294.9h0M408.5 276.2h0M433.3 295.8h0M424.7 296.7h0M415.5 288.6h0M417.2 309.7h0M424.4 302.9h0M418.8 279.1h0M428.3 298.9h0M414.8 303.5h0M424.2 284.2h0M428.3 308.4h0M422.7 290.2h0M420.3 299.1h0M418.8 290.4h0M417.4 295.1h0M418.0 304.6h0M425.4 309.9h0M406.3 297.9h0M418.8 296.4h0M420.5 282.4h0M418.9 309.1h0M425.1 304.6h0M417.0 295.2h0M434.5 307.9h0M416.3 280.4h0M426.9 290.5h0M406.6 281.9h0M432.1 296.3h0M412.7 306.0h0M412.9 291.3h0M405.0 283.4h0M422.8 277.7h0M424.9 296.9h0M417.6 311.3h0M418.5 298.1h0M414.9 293.3h0M412.4 295.8h0M409.5 294.1h0M406.5 297.9h0M413.0 284.2h0M425.5 303.0h0M399.3 311.0h0M410.0 295.6h0M412.9 310.7h0M406.9 297.4h0M386.1 290.9h0M423.8 303.2h0M390.8 302.8h0M397.1 310.3h0M418.7 286.9h0M393.3 303.2h0M384.1 296.5h0M414.7 298.6h0M416.2 309.2h0M402.0 293.7h0M393.0 309.6h0M391.5 304.7h0M400.7 304.7h0M419.7 309.2h0M406.7 299.6h0M397.5 298.2h0M388.6 306.0h0M388.4 297.5h0M409.5 300.1h0M403.5 308.8h0M395.4 298.7h0M395.6 289.1h0M397.6 304.1h0M389.5 304.4h0M399.5 311.6h0M383.8 297.2h0"/>
<path fill="none" stroke="#a2caca" stroke-width="1.6" stroke-linecap="square" d="M213.9 221.2h0M238.0 222.1h0M240.9 201.1h0M205.9 237.5h0M242.1 214.9h0M234.3 261.8h0M227.3 204.0h0M231.6 206.4h0M240.9 257.6h0M236.9 257.0h0M208.4 252.4h0M229.6 232.0h0M209.8 202.8h0M218.6 237.0h0M241.1 205.6h0M207.9 242.8h0M210.0 225.5h0M232.8 249.7h0M232.0 230.8h0M242.4 246.0h0M237.2 236.8h0M205.2 248.4h0M236.3 249.5h0M239.6 219.3h0M231.8 211.7h0M242.7 227.2h0M235.5 239.9h0M209.7 222.5h0M237.0 209.2h0M233.8 207.9h0M212.7 210.3h0M229.3 209.3h0M215.9 229.8h0M233.6 218.0h0M237.6 230.2h0M222.1 224.3h0M224.9 215.3h0M210.1 229.7h0M230.6 232.8h0M206.6 214.0h0"/>
<path fill="none" stroke="#9fb4b8" stroke-width="1.6" stroke-linecap="square" d="M70.4 50.5h0M158.8 57.1h0M54.5 62.0h0M115.3 47.2h0M68.7 51.3h0M125.1 62.2h0M46.1 78.3h0M119.6 52.2h0M128.9 271.1h0M142.1 277.2h0M124.6 276.6h0M132.0 280.0h0M137.7 289.2h0M131.1 290.8h0M126.3 280.5h0M127.8 263.3h0M119.1 280.4h0M118.7 266.3h0M139.4 296.5h0M125.3 258.1h0M120.7 267.3h0M128.0 270.7h0M120.0 289.9h0M139.2 283.7h0M129.7 277.5h0M128.5 273.0h0M120.6 273.8h0M126.7 280.9h0M124.0 296.0h0M115.9 272.1h0M117.1 281.2h0M118.3 281.1h0M107.7 280.7h0M137.6 268.9h0M118.8 277.1h0M112.4 273.3h0M107.0 288.2h0M133.9 278.7h0M122.9 284.5h0M118.1 268.2h0M131.4 277.1h0M138.1 295.3h0M127.9 275.9h0M103.6 287.6h0M138.9 293.8h0M124.9 261.0h0M139.2 297.0h0M120.4 264.7h0M131.2 291.2h0M124.9 279.2h0M130.8 263.5h0M126.1 279.2h0M96.7 187.5h0M146.8 217.9h0M84.4 256.9h0M112.3 232.9h0M123.1 277.3h0M31.9 249.8h0M137.5 257.6h0M134.0 313.3h0M47.3 258.4h0M42.0 257.7h0M295.1 258.5h0M487.6 244.2h0M504.1 212.8h0M487.1 216.1h0M466.7 244.2h0M469.6 233.3h0M464.6 246.4h0M473.1 246.4h0M472.0 220.7h0M473.7 225.5h0"/>
<path fill="none" stroke="#607c84" stroke-width="1.6" stroke-linecap="square" d="M230.9 208.2h0M241.4 248.7h0M241.8 236.1h0M233.9 249.2h0M235.8 226.0h0M237.7 256.7h0M239.6 214.0h0M224.3 226.1h0M231.1 208.6h0"/>
<path fill="none" stroke="#e0607a" stroke-width="1.6" stroke-linecap="square" d="M454.9 97.2h0M438.6 106.5h0M445.3 100.2h0M453.9 128.5h0M443.5 134.7h0M430.8 103.0h0M443.0 105.8h0M443.4 130.2h0M441.6 105.1h0M428.0 118.3h0M450.9 104.9h0M436.0 104.8h0M431.8 119.8h0M438.4 136.9h0M425.1 112.1h0M443.7 133.8h0M449.4 118.9h0"/>
<path fill="none" stroke="#b8405e" stroke-width="1.6" stroke-linecap="square" d="M231.7 75.0h0M219.9 112.1h0M257.2 100.6h0M238.7 64.6h0M222.1 83.9h0M229.5 96.8h0M281.8 108.8h0M289.5 105.7h0M287.6 65.4h0M281.7 124.6h0M238.3 99.3h0M450.6 58.8h0M437.0 129.7h0M450.7 58.1h0M423.5 49.0h0M450.6 56.4h0M445.7 60.3h0M453.5 79.7h0M448.2 79.9h0M425.0 61.0h0M469.8 81.7h0M84.7 232.9h0M148.5 276.1h0M111.0 253.7h0M62.7 242.0h0M132.2 261.6h0M143.5 283.6h0M76.1 219.2h0M90.2 186.1h0M94.7 251.0h0M41.1 254.1h0M48.8 285.6h0M106.5 261.0h0M65.3 214.0h0M44.8 301.5h0M130.4 201.2h0M241.2 224.6h0M203.2 213.2h0M219.8 246.6h0M207.2 239.5h0M234.0 208.4h0M216.4 250.8h0M228.9 202.3h0M211.1 254.7h0M209.2 257.8h0M293.8 261.0h0M290.9 250.6h0M246.0 242.1h0M270.3 217.3h0M264.6 234.5h0M246.2 233.4h0M251.6 235.2h0M262.5 214.5h0M470.0 240.6h0M463.5 265.5h0M452.5 268.3h0M456.3 251.2h0M474.8 242.4h0M476.3 242.3h0M470.7 234.2h0M469.9 252.8h0M468.8 258.1h0M468.6 254.4h0M475.2 245.0h0M479.8 241.7h0M469.6 240.1h0"/>
<path fill="none" stroke="#d81a3c" stroke-width="1.6" stroke-linecap="square" d="M315.8 68.1h0M300.2 38.3h0M250.7 61.7h0M306.3 57.5h0M319.2 100.5h0M299.5 70.4h0M282.2 64.6h0M275.8 81.2h0M304.6 73.1h0M283.0 24.0h0M314.3 85.7h0M284.1 70.1h0M303.6 28.1h0M304.1 73.0h0M310.3 37.6h0M299.0 62.2h0M272.5 60.5h0M271.0 56.1h0M267.9 59.2h0M295.0 56.4h0M278.5 74.9h0M312.5 61.4h0M324.7 62.2h0M292.9 66.6h0M272.4 59.9h0M285.3 66.0h0M306.4 88.2h0M291.9 72.5h0M295.7 75.5h0M291.2 84.9h0M314.9 61.8h0M254.6 50.8h0M325.0 67.1h0M279.5 51.2h0M269.1 70.1h0M303.9 72.3h0M326.1 66.8h0M267.4 86.5h0M296.5 87.9h0M313.7 67.8h0M290.7 91.3h0M291.5 53.8h0M317.3 43.2h0M280.9 69.5h0M290.3 57.7h0M320.6 68.0h0M307.8 82.2h0M269.9 44.1h0M267.5 91.0h0M292.2 86.3h0M293.2 52.8h0M284.8 39.7h0M299.9 39.1h0M318.4 73.2h0M285.3 56.3h0M296.9 66.3h0M277.1 66.6h0M306.8 55.1h0M296.3 72.7h0M336.2 69.8h0M312.3 78.7h0M302.4 91.0h0M268.6 75.9h0M304.7 69.5h0M278.2 90.5h0M287.8 73.8h0M293.5 78.3h0M305.2 77.5h0M283.3 81.3h0M301.3 82.0h0M284.8 77.2h0M332.6 77.4h0M312.1 87.7h0M290.0 98.2h0M321.5 66.9h0M305.9 69.7h0M331.2 76.7h0M293.3 78.1h0M336.0 82.0h0M298.6 88.3h0M311.7 91.1h0M298.2 67.5h0M313.8 74.4h0M424.9 48.5h0M401.1 58.6h0M415.9 85.5h0M402.1 52.9h0M412.4 87.6h0M424.4 40.4h0M408.5 79.0h0M434.6 73.9h0M408.0 72.8h0M419.8 85.8h0M415.0 77.8h0M413.5 55.8h0M392.7 49.3h0M419.8 71.2h0M408.5 68.4h0M412.3 58.8h0M407.4 66.1h0M400.5 78.6h0M414.1 59.1h0M401.3 95.1h0M408.7 34.7h0M409.1 50.0h0M417.5 59.0h0M407.8 76.6h0M407.5 86.0h0M408.6 78.4h0M421.5 81.9h0M420.5 100.9h0M412.5 116.0h0M399.1 116.0h0M400.4 111.8h0M404.8 96.3h0M410.4 107.1h0M412.3 101.6h0M416.7 95.8h0M416.1 104.0h0M410.5 114.6h0M413.7 105.6h0M406.7 101.1h0M421.6 99.2h0M405.1 96.6h0M416.0 91.8h0M408.3 103.0h0M407.8 111.8h0M410.5 91.6h0M414.8 99.5h0M408.3 104.9h0M433.2 100.0h0M420.5 111.9h0M393.9 107.5h0M402.7 97.1h0M415.1 106.9h0M408.5 101.5h0M419.1 117.9h0M76.2 211.7h0M52.5 246.7h0M97.2 239.5h0M93.5 219.6h0M73.8 245.7h0M70.1 241.1h0M93.6 267.4h0M102.8 251.1h0M67.2 241.5h0M82.0 242.6h0M78.9 240.8h0M77.2 243.2h0M87.0 230.3h0M76.6 239.5h0M103.0 227.4h0M51.6 239.6h0M77.0 250.7h0M86.2 241.3h0M80.4 241.2h0M61.0 238.2h0M77.6 236.9h0M86.5 229.4h0M90.3 251.3h0M92.9 234.6h0M71.3 240.5h0M74.6 231.0h0M93.8 276.0h0M95.9 242.6h0M61.5 256.0h0M93.2 234.1h0M65.9 234.3h0M99.5 236.2h0M59.5 239.1h0M78.7 219.9h0M69.4 241.2h0M62.1 241.8h0M103.0 236.7h0M85.0 252.9h0M106.9 254.5h0M81.5 250.4h0M63.7 248.5h0M70.8 264.5h0M88.9 252.9h0M88.2 244.7h0M71.0 238.9h0M80.2 264.7h0M76.7 259.3h0M75.4 225.2h0M71.4 239.2h0M86.4 267.6h0M69.3 272.7h0M76.1 225.3h0M98.3 228.2h0M73.4 233.2h0M80.6 257.0h0M87.3 252.7h0M87.9 236.2h0M90.6 238.3h0M90.0 228.4h0M88.1 227.0h0M97.4 232.7h0M80.9 225.9h0M83.0 213.6h0M52.0 205.0h0M40.9 217.3h0M75.2 223.2h0M65.0 227.2h0M67.0 221.5h0M66.4 244.9h0M55.4 228.6h0M71.8 235.5h0M78.1 220.8h0M83.7 260.7h0M57.2 229.1h0M82.8 246.0h0M61.4 273.2h0M66.8 226.3h0M69.9 240.3h0M47.7 209.8h0M86.4 230.3h0M84.2 249.9h0M77.8 241.9h0M102.3 212.1h0M44.3 199.5h0M70.8 235.9h0M84.7 248.8h0M63.9 250.7h0M56.1 241.9h0M62.0 221.1h0M58.1 225.5h0M68.1 212.5h0M53.7 246.5h0M35.6 248.2h0M55.6 255.5h0M74.2 207.6h0M65.8 258.4h0M59.1 253.9h0M78.4 226.2h0M36.6 253.1h0M71.8 264.3h0M69.2 238.9h0M71.6 232.3h0M67.9 193.7h0M59.0 232.9h0M78.6 245.7h0M52.7 251.7h0M66.7 182.2h0M70.2 266.4h0M66.3 216.2h0M70.7 234.1h0M87.6 198.4h0M48.1 247.1h0M70.3 248.5h0M68.6 258.9h0M75.9 253.9h0M85.2 232.5h0M88.1 269.9h0M59.9 239.0h0M65.8 234.4h0M60.0 216.7h0M76.5 239.6h0M50.5 245.1h0M76.1 258.4h0M75.7 189.4h0M56.9 250.3h0M53.2 231.5h0M77.8 244.5h0M79.3 245.0h0M63.0 276.1h0M74.4 245.7h0M56.8 244.9h0M59.9 228.9h0M30.3 231.6h0M52.1 243.4h0M43.8 263.9h0M52.0 216.8h0M81.1 259.9h0M44.8 226.6h0M82.6 213.9h0M76.2 238.8h0M69.6 245.3h0M59.7 250.9h0M75.4 256.8h0M69.9 240.6h0M52.5 228.1h0M68.0 214.9h0M78.0 260.7h0M58.7 218.7h0M46.9 250.1h0M85.8 205.8h0M41.5 209.8h0M58.8 217.4h0M47.6 234.7h0M85.4 231.2h0M52.9 245.3h0M89.6 241.0h0M86.1 255.2h0M81.5 234.6h0M61.6 258.5h0M83.2 263.3h0M75.4 248.4h0M52.1 236.4h0M61.2 235.8h0M60.7 252.8h0M80.7 219.0h0M49.6 225.8h0M71.4 257.0h0M57.2 295.0h0M95.8 269.7h0M90.2 273.4h0M99.6 276.4h0M84.7 284.1h0M83.1 293.1h0M96.8 290.8h0M70.1 282.0h0M82.1 272.9h0M74.9 284.6h0M74.2 275.5h0M107.3 290.8h0M88.0 285.3h0M88.9 280.3h0M86.3 272.9h0M72.8 283.3h0M89.5 285.4h0M101.9 284.0h0M93.5 284.1h0M110.4 271.7h0M72.4 284.2h0M98.0 285.4h0M108.2 279.2h0M109.6 271.3h0M116.3 277.0h0M95.6 280.6h0M64.8 271.8h0M61.7 291.4h0M71.8 272.0h0M97.2 273.6h0M67.4 286.4h0M93.5 288.6h0M75.7 291.5h0M106.1 290.2h0M92.9 279.0h0M96.7 292.4h0M84.1 292.8h0M59.3 279.7h0M91.9 277.0h0M104.9 267.1h0M96.0 288.2h0M83.7 284.8h0M82.5 285.6h0M79.6 285.0h0M65.8 285.2h0M77.9 290.9h0M92.5 291.2h0M79.3 299.5h0M92.8 267.2h0M64.7 281.0h0M85.0 280.7h0M104.9 270.1h0M80.1 279.0h0M94.8 276.2h0M94.4 296.1h0M61.6 296.0h0M112.6 295.1h0M70.7 276.0h0M91.9 270.0h0M99.8 271.3h0M111.4 287.5h0M100.1 286.3h0M99.3 214.6h0M100.9 231.8h0M95.8 223.2h0M105.6 243.8h0M98.4 228.0h0M107.0 218.0h0M112.6 220.2h0M91.7 220.8h0M86.7 230.8h0M90.2 220.9h0M96.4 236.4h0M105.8 213.1h0M97.9 227.8h0M76.3 211.8h0M106.7 222.2h0M89.0 239.8h0M95.1 224.6h0M96.3 241.0h0M86.9 218.1h0M62.7 230.5h0M82.2 230.8h0M92.7 218.8h0M98.3 237.2h0M103.3 210.1h0M101.4 225.0h0M96.4 226.8h0M95.2 219.5h0M84.6 210.9h0M85.6 212.8h0M108.9 215.2h0M105.3 266.5h0M84.2 249.0h0M103.7 262.7h0M111.9 239.3h0M114.3 253.5h0M59.5 266.3h0M95.5 244.8h0M111.1 242.3h0M91.4 242.8h0M91.6 272.3h0M97.7 248.5h0M83.3 248.0h0M83.4 266.1h0M73.8 251.2h0M73.2 281.0h0M100.4 243.0h0M114.8 221.5h0M92.4 261.5h0M113.0 243.2h0M92.8 270.9h0M85.8 246.6h0M118.1 255.9h0M111.1 233.6h0M120.5 270.7h0M90.5 271.6h0M61.0 240.3h0M105.5 247.7h0M99.6 235.7h0M87.5 255.1h0M96.0 235.6h0M85.7 255.7h0M74.6 259.1h0M105.3 246.3h0M66.4 253.3h0M99.8 247.2h0M101.6 253.2h0M109.0 243.2h0M83.5 245.8h0M105.1 247.8h0M93.4 243.7h0M106.9 242.3h0M104.3 263.9h0M79.3 257.3h0M76.7 271.3h0M101.6 252.8h0M114.8 262.4h0M101.0 254.5h0M108.3 242.5h0M65.9 254.9h0M90.9 264.6h0M87.7 255.5h0M97.6 258.3h0M103.2 249.2h0M92.2 251.1h0M96.3 244.7h0M112.9 258.9h0M94.8 240.7h0M93.7 266.4h0M86.1 258.4h0M94.5 265.0h0M110.5 255.7h0M52.6 258.5h0M96.0 260.7h0M59.2 302.8h0M56.9 288.3h0M56.6 283.5h0M57.7 286.4h0M57.5 288.7h0M74.9 283.7h0M50.3 290.9h0M65.6 302.6h0M64.1 292.9h0M62.7 294.9h0M53.5 298.6h0M61.1 279.5h0M65.4 287.0h0M76.3 292.0h0M52.6 285.9h0M60.1 283.2h0M47.8 301.8h0M60.8 298.7h0M66.7 294.4h0M61.0 293.0h0M61.8 285.3h0M59.9 276.8h0M74.1 282.8h0M50.1 289.7h0M60.8 298.8h0M63.4 286.7h0M62.2 283.9h0M246.3 263.1h0M250.5 266.3h0M235.0 273.2h0M255.9 260.8h0M246.1 283.0h0M230.3 272.9h0M258.6 248.4h0M257.5 251.3h0M249.1 257.5h0M285.7 255.4h0M247.5 270.4h0M243.9 271.9h0M256.5 270.7h0M265.9 259.3h0M249.7 258.6h0M248.7 270.5h0M269.7 268.3h0M265.8 271.8h0M244.2 273.0h0M266.9 243.1h0M242.9 274.7h0M261.5 243.7h0M260.8 255.9h0M243.7 276.3h0M230.5 269.7h0M254.6 264.0h0M238.5 268.8h0M254.4 267.9h0M257.3 253.6h0M258.8 251.8h0M254.4 253.4h0M253.2 263.8h0M264.8 262.0h0M251.8 262.7h0M236.5 272.8h0M233.6 282.0h0M251.4 258.5h0M268.8 274.8h0M252.5 272.6h0M247.2 257.4h0M233.7 262.6h0M255.0 259.5h0M239.7 267.9h0M245.3 263.2h0M254.5 255.5h0M249.7 263.5h0M245.7 261.2h0M258.8 272.8h0M248.2 264.3h0M273.5 247.6h0M256.5 265.4h0M242.3 281.2h0M253.6 261.9h0M242.4 263.8h0M262.0 259.4h0M221.3 274.2h0M230.4 287.2h0M248.0 267.7h0M209.4 295.0h0M219.2 291.4h0M208.4 311.4h0M228.1 310.2h0M219.4 302.4h0M213.5 309.4h0M221.4 288.3h0M224.0 282.8h0M208.7 297.8h0M222.4 288.8h0M216.4 298.9h0M204.4 300.7h0M213.5 292.7h0M210.2 295.5h0M215.3 299.7h0M223.8 301.0h0M220.2 291.4h0M208.6 279.3h0M217.9 298.7h0M212.9 300.2h0M203.7 295.9h0M203.1 285.5h0M213.5 305.6h0M209.5 294.0h0M227.4 311.7h0M209.9 300.0h0M206.0 285.4h0M222.1 296.1h0M227.4 292.9h0M204.8 313.2h0M212.2 311.4h0M208.7 290.5h0M210.8 307.5h0M212.8 302.8h0M209.1 302.3h0M221.8 286.4h0M214.3 305.2h0M217.4 309.3h0M220.6 301.9h0M208.7 293.0h0M213.4 304.1h0M224.6 303.0h0M217.8 304.6h0M213.6 311.2h0M432.5 278.7h0M453.5 260.5h0M442.5 272.7h0M441.8 262.6h0M442.2 264.8h0M428.1 266.8h0M441.9 269.1h0M454.9 264.3h0M443.5 272.7h0M435.0 260.0h0M435.4 274.4h0M441.0 267.4h0M445.9 276.8h0M446.2 266.2h0M440.5 274.2h0M442.6 265.9h0M436.7 274.9h0M443.9 271.4h0M431.3 269.9h0M429.6 263.3h0M438.7 263.2h0M430.3 264.7h0M452.6 280.5h0M434.3 270.5h0M438.9 262.7h0M447.9 259.3h0M438.5 271.8h0M440.1 271.6h0M433.9 271.5h0M445.1 258.5h0M476.2 266.6h0M469.6 256.4h0M469.1 284.0h0M484.2 278.5h0M461.7 263.9h0M471.9 277.8h0M464.9 274.9h0M470.9 269.7h0M475.1 276.1h0M471.5 272.0h0M476.2 274.7h0M484.0 277.9h0M474.1 272.1h0M473.9 288.7h0M455.0 279.8h0M472.9 281.0h0M474.8 291.5h0M472.4 273.6h0M486.9 273.7h0M483.3 288.1h0M479.7 277.1h0M478.6 272.1h0M480.0 271.3h0M462.7 283.8h0M469.9 266.7h0M458.7 264.6h0M476.6 276.3h0M471.7 290.4h0M467.6 283.2h0M477.4 286.9h0M468.2 289.2h0M481.5 272.9h0M475.3 300.1h0M454.5 297.5h0M469.4 301.2h0M485.8 295.3h0M467.2 300.2h0M482.3 265.6h0M486.5 311.4h0M472.4 298.4h0M481.4 304.4h0M469.5 298.4h0M476.2 291.9h0M465.3 294.3h0M471.3 312.1h0M471.6 314.7h0M469.7 300.6h0M476.9 302.4h0M471.9 284.3h0M484.8 287.4h0M467.7 301.9h0M481.4 299.7h0M470.1 288.3h0M483.1 285.0h0M469.8 281.7h0M480.0 290.6h0M480.8 294.7h0M481.3 288.3h0M473.9 293.2h0M477.5 284.8h0M466.4 278.3h0M469.8 301.3h0M474.4 298.5h0M470.9 313.2h0M474.8 313.5h0M485.3 287.3h0M473.5 301.1h0M479.3 302.9h0M483.7 290.4h0"/>
<path fill="none" stroke="#f0101e" stroke-width="1.6" stroke-linecap="square" d="M94.9 74.8h0M79.4 83.2h0M98.6 81.5h0M90.3 72.8h0M75.2 81.6h0M92.5 71.6h0M93.6 81.3h0M81.6 82.3h0M102.6 74.5h0M93.6 84.6h0M104.2 85.1h0M100.6 72.3h0M88.1 72.7h0M111.2 81.9h0M94.0 82.1h0M105.4 70.8h0M86.3 82.6h0M87.5 79.5h0M87.1 84.5h0M78.3 86.1h0M100.0 77.2h0M106.7 85.0h0M70.7 85.9h0M120.9 76.4h0M89.4 78.8h0M78.2 79.5h0M95.5 80.8h0M93.1 79.9h0M103.6 82.8h0M94.1 82.6h0M90.1 81.6h0M81.1 78.3h0M104.3 77.8h0M84.4 79.3h0M80.9 78.0h0M97.0 83.4h0M99.3 66.6h0M85.3 82.9h0M94.4 72.2h0M88.6 83.7h0M100.5 78.0h0M104.5 80.2h0M101.4 75.4h0M109.9 68.3h0M103.5 80.5h0M102.3 77.6h0M95.6 81.5h0M81.4 85.0h0M91.0 79.2h0M79.0 81.4h0M118.7 80.5h0M85.5 78.2h0M85.1 80.9h0M79.1 77.9h0M92.5 80.2h0M97.5 73.5h0M91.3 77.0h0M85.0 75.7h0M92.8 78.7h0M107.7 80.7h0M84.5 79.7h0M104.1 80.6h0M89.4 84.6h0M90.0 73.5h0M86.7 76.4h0M85.7 74.4h0M89.1 81.4h0M110.5 71.1h0M78.4 77.8h0M90.0 84.5h0M78.1 84.3h0M95.3 79.8h0M83.6 77.1h0M104.0 76.4h0M95.4 83.8h0M99.4 84.9h0M96.4 76.5h0M90.0 80.1h0M101.8 88.6h0M76.9 82.7h0M94.1 83.8h0M85.8 81.0h0M75.2 82.5h0M104.0 73.8h0M85.0 68.8h0M101.4 73.3h0M109.5 79.0h0M89.8 80.9h0M87.1 81.4h0M96.9 82.9h0M89.9 72.5h0M79.2 84.6h0M83.4 80.2h0M111.2 77.5h0M82.1 80.8h0M91.4 80.4h0M103.2 72.4h0M91.0 79.2h0M76.7 78.2h0M99.7 80.6h0M75.9 79.7h0M91.5 80.3h0M78.0 78.9h0M101.6 73.7h0M98.3 76.6h0M72.9 84.9h0M80.8 81.9h0M90.5 78.9h0M108.9 79.5h0M91.3 81.3h0M78.6 82.6h0M82.3 80.0h0M93.9 73.9h0M74.9 84.0h0M93.6 78.2h0M79.5 82.6h0M75.9 79.5h0M98.7 77.0h0M95.9 81.5h0M97.4 79.1h0M104.7 76.9h0M90.4 82.5h0M83.2 78.3h0M113.8 73.4h0M75.7 82.2h0M104.0 74.3h0M100.5 84.8h0M97.6 85.2h0M69.1 77.8h0M87.8 81.6h0M100.7 73.0h0M106.6 78.6h0M85.3 83.1h0M88.7 73.5h0M92.5 85.4h0M88.6 75.9h0M80.0 81.1h0M105.0 76.5h0M104.2 72.6h0M79.8 75.2h0M92.6 78.2h0M107.2 76.1h0M111.9 78.7h0M98.7 84.8h0M82.3 82.3h0M87.4 79.2h0M77.9 77.0h0M86.3 74.8h0M78.8 83.1h0M90.3 79.4h0M88.2 86.6h0M86.1 85.0h0M100.9 80.0h0M87.6 80.8h0M86.7 75.2h0M96.0 84.3h0M80.0 79.2h0M96.2 78.5h0M89.9 74.3h0M108.7 76.4h0M92.2 85.9h0M86.7 83.1h0M120.7 72.7h0M102.2 85.2h0M95.7 81.4h0M85.3 81.6h0M102.0 87.6h0M87.3 75.9h0M87.0 79.7h0M96.4 82.3h0M82.0 80.2h0M82.9 77.0h0M93.1 79.1h0M97.3 78.8h0M89.2 77.2h0M92.8 77.3h0M89.8 74.7h0M99.0 78.9h0M125.0 74.9h0M77.3 83.1h0M72.4 77.7h0M101.7 75.5h0M99.8 77.3h0M111.2 81.0h0M103.4 74.7h0M102.4 82.2h0M108.6 84.0h0M94.2 84.9h0M77.4 80.1h0M94.0 72.7h0M89.4 74.3h0M96.6 83.6h0M91.1 77.0h0M100.8 80.8h0M122.3 79.1h0M93.5 80.1h0M91.1 79.0h0M101.1 77.1h0M103.6 79.0h0M104.1 71.6h0M106.3 72.3h0M105.6 87.9h0M102.9 88.8h0M85.0 81.1h0M106.2 77.7h0M99.6 79.5h0M86.8 74.7h0M100.3 77.9h0M98.7 84.2h0M100.2 79.8h0M78.3 69.2h0M98.4 79.7h0M93.3 86.5h0M87.9 82.6h0M79.9 79.2h0M80.4 76.3h0M118.3 78.1h0M84.0 84.7h0M88.1 79.8h0M81.6 75.2h0M77.7 79.2h0M99.2 72.3h0M99.8 82.2h0M78.1 74.7h0M90.9 77.7h0M86.8 77.5h0M92.4 73.7h0M87.6 85.9h0M103.1 77.4h0M83.3 83.6h0M116.3 78.3h0M108.7 88.7h0M87.9 77.3h0M89.3 81.4h0M94.2 76.2h0M119.0 80.9h0M102.6 81.8h0M84.6 80.0h0M75.8 78.5h0M97.2 82.7h0M90.6 82.1h0M108.9 76.0h0M94.0 80.1h0M82.3 80.3h0M74.5 81.7h0M91.6 78.1h0M94.9 86.5h0M107.4 81.6h0M111.3 80.8h0M115.4 78.0h0M116.4 70.7h0M110.9 66.2h0M104.8 78.5h0M112.7 80.8h0M124.1 77.4h0M133.2 76.1h0M127.6 80.7h0M120.1 72.5h0M116.5 60.7h0M99.1 79.3h0M126.2 68.6h0M77.8 85.6h0M119.9 67.1h0M130.8 75.7h0M133.6 81.2h0M116.3 74.4h0M123.0 90.6h0M112.3 81.0h0M111.1 73.2h0M124.6 74.8h0M96.5 78.2h0M101.6 76.6h0M110.4 78.9h0M121.6 78.9h0M117.4 81.1h0M122.0 83.1h0M116.9 80.7h0M106.9 81.1h0M112.3 66.3h0M136.3 73.9h0M123.7 62.6h0M117.2 74.0h0M106.0 76.4h0M115.7 81.8h0M115.2 72.8h0M127.0 80.6h0M107.3 79.9h0M114.8 83.2h0M113.7 75.0h0M117.9 92.6h0M117.2 89.7h0M127.8 79.4h0M120.7 77.3h0M124.3 75.4h0M91.0 73.1h0M112.8 78.3h0M98.1 81.3h0M104.1 82.8h0M110.1 76.4h0M128.4 79.8h0M113.2 79.5h0M122.0 72.6h0M110.1 72.5h0M100.3 80.6h0M128.3 82.3h0M103.1 79.1h0M122.1 89.3h0M106.8 80.4h0M123.7 68.9h0M112.9 85.0h0M108.7 70.0h0M111.7 75.7h0M123.8 71.8h0M100.6 72.0h0M82.3 82.3h0M127.1 84.5h0M106.8 78.5h0M99.5 74.5h0M120.8 83.6h0M133.9 73.0h0M122.4 79.7h0M124.5 81.4h0M127.9 81.4h0M116.0 76.6h0M114.4 84.9h0M110.3 77.5h0M119.7 77.3h0M98.4 79.5h0M122.8 82.9h0M99.8 86.2h0M133.8 70.0h0M99.6 79.0h0M117.5 78.0h0M121.7 83.8h0M123.1 76.4h0M110.8 87.0h0M123.7 88.1h0M105.7 77.4h0M123.4 76.7h0M104.9 88.2h0M112.7 78.3h0M118.6 69.5h0M109.3 67.3h0M128.5 78.7h0M107.7 86.1h0M127.0 85.9h0M104.9 74.7h0M108.6 78.8h0M101.5 77.6h0M101.6 82.6h0M119.1 77.4h0M120.4 72.9h0M99.5 76.5h0M108.1 72.4h0M128.5 68.8h0M98.5 83.0h0M118.0 72.4h0M103.2 74.8h0M106.9 73.4h0M114.5 81.6h0M112.7 78.7h0M108.8 85.7h0M106.2 80.3h0M112.7 79.6h0M127.7 68.8h0M122.9 78.2h0M120.3 77.3h0M111.3 74.7h0M106.0 72.5h0M105.4 73.8h0M105.5 71.7h0M100.4 87.3h0M113.3 77.4h0M113.6 72.8h0M103.9 78.4h0M106.8 78.0h0M99.7 76.0h0M127.3 75.7h0M114.7 76.6h0M127.9 62.4h0M108.8 66.1h0M120.2 64.4h0M127.5 58.2h0M119.7 70.4h0M123.7 77.2h0M108.5 86.5h0M130.1 68.4h0M107.5 81.9h0M85.8 70.1h0M117.4 90.7h0M115.4 78.9h0M119.8 80.1h0M123.5 63.9h0M119.7 80.8h0M126.4 65.7h0M129.3 81.0h0M124.0 65.8h0M133.4 59.3h0M108.6 77.5h0M124.9 62.8h0M113.0 88.4h0M105.4 75.8h0M131.4 60.1h0M119.6 81.6h0M127.3 63.5h0M98.3 81.2h0M117.8 73.4h0M126.8 81.8h0M137.8 81.4h0M119.5 63.7h0M132.5 88.3h0M115.5 69.7h0M110.5 79.1h0M107.9 88.2h0M116.8 83.4h0M114.6 69.4h0M123.9 66.9h0M122.4 76.4h0M122.0 71.0h0M137.3 84.1h0M119.8 73.6h0M113.6 68.8h0M126.3 73.5h0M126.5 63.8h0M113.3 84.6h0M119.9 67.8h0M108.9 83.9h0M115.7 85.9h0M284.4 35.2h0M277.7 37.5h0M290.2 42.2h0M279.8 25.2h0M279.2 45.7h0M277.8 47.3h0M285.8 41.6h0M300.7 34.3h0M277.4 41.1h0M289.6 46.0h0M275.4 43.4h0M273.4 40.2h0M283.3 36.3h0M268.5 33.2h0M281.0 41.8h0M286.0 48.3h0M283.2 43.3h0M284.4 41.0h0M276.5 37.4h0M295.6 34.6h0M298.7 36.4h0M296.6 48.8h0M280.5 54.6h0M284.8 35.8h0M286.3 21.9h0M283.9 44.9h0M271.9 26.4h0M290.3 52.9h0M290.1 45.6h0M281.0 43.3h0M296.6 29.7h0M270.2 33.3h0M274.9 37.2h0M284.5 38.8h0M296.8 33.5h0M289.7 40.2h0M280.3 39.1h0M290.4 36.5h0M293.0 36.3h0M298.9 46.0h0M282.7 37.4h0M270.5 45.4h0M279.6 51.1h0M277.5 39.2h0M276.8 33.1h0M276.6 36.3h0M293.0 37.1h0M274.2 52.4h0M289.0 33.6h0M296.0 35.6h0M280.1 31.7h0M273.4 50.3h0M261.5 39.0h0M286.6 27.5h0M293.3 36.9h0M295.5 26.0h0M276.4 19.9h0M277.5 48.9h0M272.2 46.3h0M285.5 32.3h0M280.7 26.0h0M267.5 25.5h0M286.1 53.7h0M297.7 24.9h0M278.1 28.1h0M291.5 41.1h0M279.9 33.0h0M288.4 44.9h0M291.2 52.6h0M279.2 43.1h0M280.3 39.3h0M300.4 35.2h0M295.5 24.0h0M296.9 39.0h0M280.0 39.3h0M289.0 41.6h0M284.9 32.2h0M269.8 39.1h0M280.7 49.2h0M283.1 35.5h0M283.6 28.1h0M275.7 31.3h0M293.1 32.0h0M290.8 39.4h0M282.9 37.6h0M282.3 30.1h0M278.4 51.2h0M275.9 41.9h0M294.7 45.5h0M294.7 39.4h0M279.4 39.4h0M292.3 42.0h0M294.1 28.4h0M291.5 39.3h0M271.9 49.8h0M292.4 37.3h0M289.6 38.8h0M294.0 42.9h0M285.8 61.1h0M279.5 45.0h0M291.3 37.2h0M296.0 25.1h0M278.6 39.1h0M278.7 34.9h0M283.8 42.9h0M283.7 38.6h0M265.7 39.8h0M304.3 35.5h0M285.8 48.0h0M285.4 36.8h0M294.9 35.0h0M279.4 51.0h0M269.1 41.6h0M295.0 34.9h0M290.8 22.5h0M281.4 47.0h0M282.0 37.4h0M292.5 35.1h0M284.4 42.2h0M281.3 52.4h0M275.9 48.7h0M280.9 31.4h0M279.4 37.9h0M277.9 25.7h0M284.0 41.5h0M275.2 28.8h0M278.9 35.2h0M282.5 22.3h0M285.2 33.3h0M285.0 36.5h0M280.8 44.9h0M293.6 27.9h0M286.3 25.5h0M286.9 45.5h0M284.2 38.6h0M289.0 46.0h0M283.2 42.9h0M285.5 35.6h0M285.9 62.1h0M278.2 18.9h0M292.6 43.6h0M274.8 23.8h0M285.6 43.1h0M284.0 37.4h0M276.7 39.2h0M280.7 25.4h0M282.4 29.4h0M295.9 28.7h0M288.9 33.5h0M302.6 41.4h0M309.8 62.1h0M280.8 59.0h0M297.0 48.5h0M279.9 52.1h0M228.7 35.2h0M262.4 62.6h0M288.2 42.0h0M281.9 50.0h0M293.4 59.5h0M261.6 27.0h0M313.1 42.6h0M315.2 42.2h0M286.6 85.7h0M292.5 87.6h0M289.0 45.8h0M317.8 51.7h0M294.6 58.0h0M279.1 65.9h0M297.6 38.5h0M256.6 39.1h0M289.5 51.2h0M297.4 35.0h0M242.7 23.4h0M317.3 56.8h0M316.5 63.0h0M285.3 42.5h0M300.4 59.9h0M305.4 28.9h0M318.1 53.9h0M297.9 29.1h0M318.9 41.9h0M261.8 62.0h0M291.3 47.8h0M306.1 21.3h0M284.4 33.1h0M303.9 32.1h0M286.9 31.9h0M304.8 21.0h0M269.2 40.6h0M310.9 33.8h0M291.3 65.5h0M308.2 37.3h0M301.4 71.2h0M322.2 32.5h0M292.7 42.7h0M240.6 40.4h0M319.0 46.5h0M292.5 45.6h0M282.2 45.5h0M295.5 47.3h0M284.0 39.1h0M301.6 29.8h0M289.5 36.0h0M287.2 39.5h0M289.1 35.2h0M262.9 31.7h0M310.2 56.5h0M292.1 40.1h0M285.3 24.7h0M292.5 68.8h0M279.3 35.2h0M284.3 58.7h0M310.4 39.7h0M285.4 9.8h0M304.4 54.0h0M308.8 52.8h0M294.8 73.0h0M290.0 41.9h0M277.3 51.4h0M273.9 50.0h0M309.8 59.6h0M269.5 37.4h0M286.0 39.9h0M278.5 60.0h0M319.0 39.4h0M293.4 49.8h0M278.3 44.2h0M297.6 51.4h0M287.1 48.2h0M288.7 74.9h0M317.8 59.3h0M273.4 53.1h0M300.9 69.0h0M278.3 43.8h0M317.5 41.8h0M288.7 53.2h0M285.4 59.6h0M308.3 54.1h0M291.3 73.4h0M298.2 51.5h0M276.2 62.5h0M318.3 41.2h0M282.4 59.5h0M269.4 56.3h0M289.0 47.4h0M293.0 56.5h0M269.8 40.4h0M290.6 46.2h0M273.9 71.9h0M287.8 40.4h0M312.1 49.1h0M258.4 52.8h0M329.1 51.3h0M314.9 45.9h0M299.0 51.2h0M313.5 42.6h0M291.3 56.7h0M293.3 64.8h0M269.6 48.6h0M305.7 49.3h0M275.3 33.5h0M413.0 58.9h0M404.9 63.8h0M405.5 39.0h0M401.3 63.7h0M403.1 65.2h0M410.1 64.2h0M398.9 56.5h0M412.9 44.3h0M398.5 69.0h0M408.3 51.6h0M405.1 61.8h0M403.3 62.0h0M407.9 66.6h0M432.7 46.1h0M392.7 52.9h0M399.1 44.1h0M418.7 50.9h0M409.0 63.6h0M405.1 51.8h0M399.0 39.0h0M410.9 77.0h0M404.5 47.9h0M399.1 55.2h0M423.7 74.0h0M393.3 65.2h0M408.1 64.3h0M415.6 44.1h0M416.2 71.7h0M411.7 47.1h0M421.3 40.8h0M401.5 56.3h0M406.0 47.9h0M407.7 37.8h0M413.9 48.8h0M399.9 48.6h0M401.3 64.5h0M395.9 59.8h0M402.9 53.9h0M402.7 50.0h0M407.2 57.4h0M402.2 37.5h0M410.6 51.8h0M401.1 67.9h0M415.3 59.3h0M401.3 63.3h0M397.3 57.6h0M421.2 34.9h0M398.8 52.0h0M401.4 52.7h0M400.0 52.5h0M392.5 61.0h0M408.7 66.9h0M408.8 69.4h0M406.2 49.8h0M401.9 54.9h0M400.0 58.3h0M414.1 56.9h0M396.7 53.5h0M416.5 68.8h0M380.9 64.8h0M398.9 62.9h0M422.1 58.3h0M396.3 56.7h0M414.6 46.7h0M401.8 54.2h0M409.1 55.9h0M413.1 56.0h0M408.5 63.6h0M401.2 60.6h0M393.5 55.0h0M396.7 70.5h0M395.5 61.7h0M401.3 56.9h0M412.5 55.4h0M418.8 41.3h0M398.2 64.5h0M404.8 61.9h0M398.3 36.6h0M409.7 58.7h0M410.5 58.0h0M398.5 55.6h0M425.1 50.1h0M406.4 48.6h0M395.0 56.0h0M407.8 59.4h0M404.3 49.1h0M389.7 58.0h0M399.8 44.3h0M396.8 77.1h0M413.9 48.6h0M399.0 58.5h0M405.0 49.8h0M396.2 41.0h0M392.1 43.0h0M401.0 44.8h0M409.7 46.4h0M399.5 48.1h0M418.9 65.1h0M406.3 62.8h0M407.9 48.2h0M407.1 64.5h0M412.1 50.8h0M415.7 58.6h0M401.5 52.8h0M397.8 47.6h0M412.3 56.2h0M389.0 57.6h0M385.5 61.1h0M410.2 60.8h0M402.4 67.7h0M402.3 56.0h0M409.3 56.5h0M411.4 49.1h0M405.3 53.3h0M404.9 57.8h0M398.8 38.2h0M392.2 49.4h0M405.8 74.2h0M405.1 49.5h0M394.2 58.0h0M402.8 44.8h0M406.2 66.5h0M401.4 67.3h0M403.7 48.7h0M395.6 45.6h0M391.1 56.6h0M418.6 54.0h0M397.7 63.8h0M413.9 60.6h0M405.8 59.4h0M388.7 59.9h0M417.7 72.6h0M413.1 55.3h0M391.3 52.5h0M400.9 61.4h0M399.3 51.3h0M400.9 59.1h0M395.6 51.8h0M400.4 51.8h0M405.6 72.1h0M390.7 56.5h0M390.5 68.0h0M408.5 41.1h0M399.7 67.6h0M399.4 54.3h0M398.4 66.0h0M416.4 60.9h0M402.0 58.8h0M406.2 39.3h0M409.5 59.2h0M427.9 66.6h0M400.2 74.0h0M403.6 44.0h0M413.4 49.0h0M404.4 65.4h0M414.8 58.0h0M406.9 58.1h0M392.0 49.5h0M422.3 57.3h0M400.1 57.1h0M396.0 52.6h0M401.4 78.1h0M417.8 78.6h0M400.1 63.4h0M401.9 73.3h0M428.1 68.0h0M405.6 69.4h0M395.1 71.3h0M411.7 81.9h0M412.4 64.7h0M408.1 86.4h0M398.8 85.9h0M411.7 78.3h0M404.1 57.3h0M406.6 72.4h0M400.7 64.2h0M418.6 72.3h0M406.3 64.2h0M392.5 82.8h0M426.0 63.7h0M406.4 65.5h0M411.8 69.3h0M405.6 69.1h0M410.6 77.0h0M420.6 61.6h0M405.9 84.6h0M382.3 69.3h0M400.4 80.8h0M405.8 78.8h0M410.7 67.1h0M400.2 56.4h0M391.7 67.8h0M401.1 84.2h0M390.9 72.6h0M410.3 71.2h0M413.2 77.6h0M406.7 66.8h0M391.9 85.1h0M410.6 58.2h0M417.8 86.5h0M398.5 86.0h0M417.5 59.7h0M415.7 73.8h0M408.8 90.9h0M381.3 83.3h0M399.5 77.2h0M406.5 59.9h0M413.9 83.9h0M401.4 70.8h0M402.5 79.0h0M413.5 79.0h0M403.5 81.3h0M401.3 68.7h0M397.9 81.5h0M408.2 74.4h0M402.7 72.7h0M408.9 66.4h0M402.9 84.3h0M75.5 257.6h0M96.4 247.4h0M76.3 247.4h0M86.9 256.3h0M93.2 234.6h0M71.3 262.4h0M93.1 257.0h0M85.8 233.5h0M79.0 247.2h0M89.6 226.6h0M69.5 243.7h0M71.5 255.8h0M68.6 232.5h0M61.9 248.4h0M78.6 261.7h0M76.4 264.7h0M87.7 260.8h0M65.2 257.4h0M84.7 242.2h0M41.3 257.5h0M105.7 249.7h0M83.4 236.6h0M87.3 255.0h0M71.7 275.1h0M90.1 250.5h0M107.7 239.2h0M76.5 271.7h0M81.4 251.0h0M63.7 245.6h0M90.9 223.5h0M76.1 268.6h0M74.4 253.7h0M81.2 244.0h0M89.9 236.9h0M84.1 254.3h0M79.4 237.2h0M75.3 225.3h0M89.5 252.4h0M77.6 245.3h0M84.4 252.7h0M78.9 252.7h0M78.3 217.2h0M82.5 242.6h0M85.9 267.3h0M84.1 233.3h0M87.5 240.8h0M85.5 228.4h0M86.9 248.5h0M90.4 242.1h0M76.2 249.8h0M82.6 279.3h0M66.2 260.8h0M96.6 247.2h0M88.9 249.8h0M84.5 253.7h0M88.1 253.4h0M74.5 245.0h0M98.5 261.6h0M60.8 247.4h0M91.7 233.3h0M78.5 239.8h0M86.4 252.4h0M90.2 221.9h0M224.7 278.7h0M215.6 272.4h0M229.7 283.0h0M236.8 281.1h0M232.7 289.6h0M206.2 290.5h0M212.8 285.2h0M211.2 285.3h0M245.5 289.4h0M231.6 283.0h0M224.6 273.1h0M240.1 263.6h0M224.0 283.3h0M245.2 282.0h0M227.4 292.2h0M234.2 276.4h0M243.9 279.2h0M239.5 268.7h0M203.3 294.6h0M222.0 300.6h0M239.5 281.0h0M219.2 271.0h0M239.0 267.5h0M230.9 302.0h0M211.1 278.4h0M222.6 274.3h0M248.1 279.3h0M246.7 292.2h0M236.0 255.6h0M230.5 280.5h0M238.8 275.6h0M221.3 282.3h0M233.5 263.2h0M249.7 274.5h0M235.6 273.2h0M238.1 288.0h0M206.9 284.9h0M243.1 256.6h0M239.7 275.1h0M234.0 274.6h0M232.1 281.3h0M231.2 297.5h0M235.7 272.7h0M226.8 284.4h0M229.5 286.2h0M255.4 284.3h0M233.6 290.3h0M221.8 290.3h0M221.5 297.2h0M247.4 293.5h0M234.4 285.1h0M237.6 281.0h0M229.3 272.0h0M246.1 281.3h0M232.9 299.4h0M218.6 290.7h0M234.5 292.3h0M231.8 279.0h0M229.7 265.2h0M223.9 278.7h0M204.8 301.4h0M229.2 291.1h0M236.3 292.3h0M236.5 284.7h0M235.7 278.9h0M246.8 285.2h0M230.6 302.2h0M225.0 295.9h0M216.8 294.5h0M224.4 304.9h0M231.2 293.2h0M242.3 294.8h0M225.6 281.4h0M213.4 292.5h0M232.6 294.8h0M240.7 286.6h0M245.8 301.7h0M237.5 270.2h0M232.9 278.1h0M247.4 307.7h0M206.2 282.3h0M230.6 278.3h0M219.9 289.0h0M243.9 289.1h0M226.2 289.7h0M238.2 277.7h0M228.3 287.9h0M217.8 288.9h0M225.4 261.6h0M243.2 283.0h0M209.5 301.8h0M235.3 282.6h0M223.1 284.0h0M220.3 284.1h0M239.3 274.7h0M240.0 289.0h0M220.9 264.0h0M216.0 280.6h0M227.6 279.5h0M227.1 280.9h0M239.5 273.9h0M222.8 283.1h0M250.5 297.1h0M238.7 296.9h0M228.4 290.7h0M232.9 292.3h0M231.7 277.7h0M219.8 290.6h0M242.2 276.9h0M221.5 285.1h0M231.7 292.7h0M237.1 290.5h0M228.7 288.7h0M227.9 285.9h0M240.9 281.3h0M217.7 289.0h0M227.4 272.8h0M230.2 276.0h0M241.6 273.6h0M232.3 281.7h0M233.9 275.1h0M233.7 274.7h0M230.3 293.5h0M214.5 281.3h0M231.0 293.1h0M232.7 265.0h0M230.3 290.2h0M213.7 271.9h0M228.4 263.7h0M231.6 289.3h0M244.7 281.7h0M240.5 301.8h0M225.8 286.2h0M235.4 277.0h0M218.4 266.5h0M220.6 297.6h0M237.7 301.1h0M212.6 288.3h0M243.2 265.5h0M225.7 298.9h0M225.4 295.0h0M229.2 285.9h0M235.0 290.3h0M247.2 272.0h0M227.9 278.0h0M225.0 284.1h0M244.4 270.2h0M224.1 283.9h0M224.9 294.0h0M228.8 275.2h0M228.3 285.3h0M235.2 284.4h0M242.1 260.8h0M233.6 271.4h0M219.0 282.9h0M231.2 266.7h0M228.3 304.8h0M209.2 282.8h0M227.4 296.3h0M230.9 273.1h0M222.3 288.6h0M440.6 278.5h0M443.6 301.7h0M441.6 259.2h0M433.3 294.5h0M449.2 297.1h0M441.1 307.8h0M439.7 306.8h0M446.1 258.1h0M448.7 299.4h0M440.2 293.0h0M437.2 283.0h0M441.3 293.7h0M435.2 282.4h0M431.6 309.8h0M441.7 298.8h0M447.1 288.0h0M430.4 284.4h0M451.7 281.1h0M447.5 294.6h0M449.1 280.3h0M442.1 306.6h0M445.8 292.6h0M434.7 292.0h0M443.3 306.8h0M431.0 296.2h0M439.8 296.1h0M439.3 298.2h0M436.3 302.6h0M427.8 307.5h0M439.8 290.9h0M438.2 295.5h0M437.9 303.1h0M447.2 312.1h0M447.6 311.9h0M439.2 302.5h0M437.2 280.2h0M444.5 289.2h0M443.5 311.9h0M435.5 286.3h0M440.0 290.7h0M446.4 277.0h0M443.5 277.7h0M441.4 284.1h0M431.5 273.1h0M439.1 281.8h0M436.3 274.7h0M435.2 283.2h0M445.8 291.2h0M436.6 313.7h0M434.7 308.7h0M429.5 289.7h0M423.6 281.3h0M436.5 276.6h0M439.1 296.0h0M433.3 299.6h0M451.0 286.9h0M443.8 288.7h0M444.5 293.5h0M447.1 301.3h0M435.6 292.2h0M438.9 308.9h0M440.5 296.0h0M439.8 286.2h0M445.7 301.2h0M448.0 299.0h0M438.7 280.8h0M433.8 309.7h0M432.5 299.9h0M440.5 276.4h0M442.6 299.8h0M435.2 292.6h0M440.0 295.3h0M434.3 286.8h0M449.8 295.0h0M443.7 305.3h0M445.7 292.1h0M433.2 308.3h0M439.5 292.1h0M439.2 308.7h0M432.2 292.0h0M444.3 302.7h0M424.5 300.8h0M436.0 290.5h0M435.0 291.0h0M439.6 283.1h0M442.1 289.4h0M438.2 291.6h0M448.1 290.8h0M439.9 307.4h0M448.1 266.2h0M428.7 274.5h0M439.3 302.1h0M443.6 280.1h0M429.7 302.1h0M439.9 281.3h0M438.4 285.2h0M449.7 275.3h0M437.8 305.2h0M433.7 288.1h0M424.5 305.8h0M434.2 298.0h0M439.4 292.1h0M433.4 293.8h0M437.4 305.4h0M435.9 290.9h0M446.0 268.2h0M446.5 284.1h0M435.2 302.2h0M434.0 302.6h0M446.6 304.4h0M440.4 291.1h0M442.1 284.0h0M440.7 276.3h0M451.5 312.6h0M451.2 288.2h0M448.5 311.9h0M446.0 276.7h0M444.2 286.6h0M443.4 301.1h0M448.9 281.5h0M436.7 274.0h0M445.6 312.2h0M437.4 291.9h0M448.0 290.1h0M442.1 287.3h0M440.8 296.5h0M440.7 271.8h0M437.0 283.8h0M440.4 275.3h0M440.2 309.0h0M441.8 290.8h0M438.3 283.7h0M443.1 294.1h0M442.7 283.1h0M439.0 304.2h0M438.0 266.6h0M439.5 294.5h0M440.2 283.6h0M449.7 311.9h0M433.6 290.7h0M443.7 278.9h0M443.5 291.6h0M454.6 308.2h0M449.6 286.1h0M446.1 283.9h0M446.3 301.1h0M446.0 256.3h0M433.4 279.4h0M432.9 285.1h0M434.1 290.5h0M443.2 296.7h0M441.3 291.4h0M421.7 293.8h0M438.3 304.3h0M435.6 289.3h0M439.7 301.4h0M442.6 306.6h0M449.5 292.8h0M442.3 295.9h0M433.6 280.2h0M449.9 272.6h0M443.6 278.4h0M454.2 255.2h0M443.6 296.9h0M439.2 285.4h0M435.7 298.4h0M438.5 293.3h0M450.6 296.1h0M431.5 283.0h0M437.6 300.0h0M440.2 296.2h0M453.0 303.0h0M423.8 304.4h0M441.0 295.6h0M435.1 283.4h0M444.4 288.3h0M438.3 296.8h0M436.1 294.7h0M435.7 291.6h0M444.4 273.4h0M441.3 279.1h0M436.0 276.8h0M443.0 292.9h0M433.5 285.8h0M443.8 283.9h0M441.3 273.4h0M449.2 295.5h0M444.3 283.7h0M439.9 301.5h0M448.8 303.9h0M446.3 285.1h0M454.9 301.3h0M446.7 297.4h0M444.1 304.2h0M448.0 289.7h0M432.1 305.2h0M440.9 293.6h0M435.6 261.6h0M445.6 294.2h0M440.6 302.7h0M439.2 285.8h0M435.8 285.5h0M441.3 301.9h0M438.1 274.6h0M448.0 285.0h0M444.0 280.7h0M445.5 295.5h0M453.4 306.2h0M439.4 308.1h0M443.6 298.0h0M440.0 300.3h0M442.4 289.2h0M446.4 282.9h0M453.3 267.3h0M440.5 310.7h0M448.2 296.3h0M448.3 297.2h0"/>
<path fill="none" stroke="#16168a" stroke-width="1.6" stroke-linecap="square" d="M68.4 96.8h0M66.2 90.6h0M60.3 106.9h0M50.8 97.8h0M57.3 95.3h0M72.9 93.9h0M79.8 93.7h0M75.0 93.2h0M72.6 94.1h0M84.9 89.3h0M86.6 94.0h0M67.0 95.3h0M81.1 103.8h0M84.5 101.3h0M72.4 95.6h0M62.4 99.2h0M73.2 103.9h0M72.2 90.0h0M62.1 97.3h0M84.7 93.8h0M77.0 97.9h0M67.7 92.6h0M84.0 102.8h0M95.1 96.1h0M78.4 97.2h0M79.8 93.8h0M75.4 90.7h0M77.6 92.0h0M248.2 46.4h0M238.8 39.3h0M240.2 46.3h0M233.6 58.4h0M245.0 41.9h0M237.2 62.3h0M248.3 52.2h0M222.1 40.9h0M238.8 44.0h0M233.9 31.1h0M224.6 51.4h0M227.4 40.3h0M245.4 26.4h0M235.7 50.1h0M240.9 45.0h0M240.5 35.9h0M246.2 44.9h0M239.2 50.3h0M247.1 34.4h0M242.2 23.4h0M218.4 52.3h0M246.1 41.6h0M240.3 31.1h0M248.6 48.5h0M287.8 132.4h0M292.5 77.9h0M329.9 73.6h0M279.6 84.3h0M453.3 118.5h0M473.0 103.6h0M462.3 105.6h0M464.9 113.9h0M469.6 109.9h0M459.1 124.4h0M466.0 118.4h0M463.3 111.5h0M458.2 125.7h0M462.4 112.9h0M452.4 127.3h0M447.8 130.2h0M479.5 112.1h0M423.1 69.8h0M465.1 78.3h0M97.4 215.5h0M108.5 214.7h0M82.2 228.6h0M95.1 222.2h0M96.2 225.9h0M105.9 217.1h0M103.2 220.9h0M96.3 227.5h0M117.2 217.4h0M95.9 220.7h0M101.5 230.4h0M97.4 226.7h0M111.0 219.3h0M100.8 222.7h0M89.1 223.8h0M82.7 217.4h0M86.8 214.7h0M87.6 222.2h0M84.0 217.9h0M81.5 228.3h0M87.2 212.5h0M95.1 216.1h0M98.1 207.8h0M94.2 224.0h0M74.5 222.5h0M92.8 215.3h0M90.3 215.9h0M92.5 207.0h0M90.0 198.5h0M99.6 204.2h0M92.2 204.9h0M80.5 215.8h0M90.3 216.1h0M84.2 216.4h0M78.2 210.3h0M91.2 215.6h0M87.2 217.2h0M297.1 309.0h0M289.3 302.9h0M293.5 313.8h0M291.3 287.6h0M284.5 296.8h0M288.0 296.4h0M290.2 268.2h0M287.6 277.1h0M293.5 306.8h0M289.9 287.4h0M287.4 292.5h0M293.5 296.1h0M292.7 304.3h0M295.8 308.5h0M294.0 288.0h0M292.8 299.0h0M289.6 286.9h0M279.0 313.2h0M289.1 308.6h0M298.0 278.7h0M294.9 310.3h0M297.2 304.4h0M282.4 281.1h0M290.8 303.4h0M295.4 288.0h0M290.0 293.4h0M293.1 301.3h0M290.7 296.1h0M290.4 266.5h0M296.3 298.9h0M282.4 296.2h0M300.6 296.5h0M294.3 282.0h0M296.0 297.6h0M297.4 312.7h0M289.2 297.3h0M296.2 284.5h0M291.5 293.3h0M284.2 299.9h0M294.9 262.8h0"/>
<path fill="none" stroke="#2222cc" stroke-width="1.6" stroke-linecap="square" d="M87.8 95.3h0M87.3 101.3h0M63.3 101.2h0M92.1 91.0h0M76.0 97.4h0M85.3 92.6h0M87.3 102.0h0M94.9 89.3h0M78.0 98.2h0M79.2 104.2h0M93.6 105.3h0M79.8 102.9h0M87.2 94.9h0M70.8 98.2h0M76.1 93.5h0M86.6 95.4h0M85.2 99.9h0M72.7 94.5h0M94.0 89.3h0M82.8 90.9h0M67.6 91.4h0M74.0 91.2h0M77.3 99.5h0M81.1 93.9h0M77.3 92.0h0M78.5 96.2h0M71.8 95.1h0M70.5 101.9h0M80.8 96.9h0M66.9 93.8h0M90.1 101.5h0M86.2 104.2h0M76.3 97.3h0M91.2 95.5h0M82.9 103.9h0M91.8 100.4h0M70.7 94.6h0M83.8 95.1h0M66.6 97.7h0M80.2 100.4h0M85.6 92.4h0M85.9 96.2h0M83.5 91.4h0M87.3 96.7h0M75.5 95.4h0M78.7 93.6h0M83.7 97.1h0M87.0 98.0h0M82.1 100.1h0M60.7 95.6h0M72.8 104.6h0M75.7 94.5h0M84.0 99.8h0M78.7 95.0h0M86.5 96.7h0M85.0 100.7h0M67.4 93.0h0M88.1 101.4h0M87.2 98.3h0M83.1 95.0h0M72.8 101.7h0M84.9 98.1h0M79.1 90.8h0M84.4 97.0h0M78.7 101.7h0M62.6 102.6h0M76.6 91.9h0M77.1 99.8h0M89.5 93.7h0M76.0 93.4h0M88.5 105.7h0M79.5 104.9h0M80.9 93.2h0M88.8 101.5h0M77.5 95.7h0M83.3 97.4h0M81.6 100.6h0M64.8 89.5h0M70.5 102.9h0M87.2 94.3h0M90.9 98.8h0M64.2 89.5h0M86.6 95.5h0M78.0 98.6h0M77.5 105.7h0M74.9 96.3h0M70.9 101.6h0M62.9 101.2h0M89.6 98.9h0M69.0 98.5h0M67.9 103.6h0M77.4 92.5h0M75.8 92.0h0M75.2 98.8h0M72.5 100.2h0M79.4 98.4h0M67.0 104.1h0M78.5 95.6h0M80.4 95.8h0M76.3 95.3h0M75.9 94.9h0M76.0 100.1h0M78.7 92.9h0M88.3 97.3h0M76.6 104.0h0M76.8 99.7h0M91.6 98.6h0M75.7 95.6h0M86.0 92.7h0M80.2 92.3h0M64.1 101.0h0M85.8 88.9h0M72.8 93.7h0M94.8 99.3h0M78.7 96.0h0M87.2 100.2h0M83.9 94.9h0M69.4 99.5h0M70.7 94.7h0M71.0 102.4h0M88.4 92.2h0M91.4 91.0h0M88.6 105.5h0M66.8 97.1h0M73.8 99.0h0M68.5 101.3h0M61.0 93.5h0M92.3 104.7h0M82.3 96.0h0M82.1 93.1h0M79.9 97.6h0M90.9 96.9h0M85.1 95.5h0M95.3 100.6h0M71.2 104.2h0M86.3 97.0h0M72.0 92.7h0M59.2 92.5h0M76.6 93.1h0M87.8 96.9h0M88.3 100.4h0M74.5 94.9h0M68.6 96.5h0M83.1 101.4h0M62.1 101.4h0M80.4 96.7h0M57.3 101.6h0M81.7 104.6h0M89.8 91.3h0M62.8 93.3h0M75.1 94.7h0M76.7 97.6h0M95.2 90.5h0M89.4 88.6h0M84.3 95.6h0M75.9 102.2h0M83.2 100.5h0M77.8 103.2h0M89.5 94.8h0M61.0 102.3h0M74.7 100.0h0M78.5 103.1h0M87.3 96.8h0M61.9 96.4h0M72.9 95.6h0M67.9 96.2h0M81.1 91.7h0M74.2 98.6h0M56.6 96.7h0M74.7 94.2h0M82.7 97.6h0M86.3 104.5h0M87.8 101.3h0M75.8 106.5h0M65.0 95.6h0M94.3 92.2h0M70.2 95.3h0M76.6 89.4h0M88.0 97.3h0M234.6 50.4h0M221.0 57.8h0M231.0 49.5h0M234.1 49.2h0M238.0 46.1h0M234.8 57.3h0M226.4 55.4h0M229.4 56.0h0M256.6 49.2h0M231.8 50.7h0M232.2 43.9h0M241.1 55.9h0M232.9 55.3h0M235.2 50.0h0M224.8 53.9h0M224.9 52.0h0M229.7 45.6h0M236.6 48.7h0M220.2 58.9h0M238.5 52.7h0M231.1 61.5h0M249.6 48.6h0M231.9 48.8h0M221.0 55.2h0M237.5 52.8h0M235.0 53.0h0M223.7 54.9h0M241.1 52.5h0M211.4 66.3h0M214.0 54.5h0M253.0 52.9h0M222.2 44.3h0M228.7 48.6h0M222.4 44.4h0M232.2 41.2h0M238.7 52.3h0M225.3 59.3h0M233.7 50.1h0M240.9 52.1h0M233.1 59.5h0M223.2 55.6h0M234.8 50.5h0M228.9 47.4h0M234.2 45.6h0M219.7 49.8h0M235.4 56.1h0M233.6 54.0h0M221.5 51.5h0M227.5 75.4h0M231.0 51.5h0M222.2 56.3h0M222.0 57.1h0M222.6 54.4h0M232.1 54.7h0M227.5 45.6h0M240.6 56.1h0M245.6 52.2h0M229.0 52.9h0M228.0 61.6h0M223.6 48.9h0M220.0 52.1h0M244.8 52.8h0M238.6 54.0h0M224.7 52.2h0M219.4 43.4h0M236.4 53.8h0M224.0 52.3h0M258.8 48.3h0M234.4 49.6h0M226.4 44.9h0M228.2 55.4h0M222.9 51.3h0M216.8 47.6h0M231.9 58.4h0M222.6 62.0h0M219.0 55.5h0M232.4 49.9h0M225.2 48.8h0M241.6 54.5h0M238.1 59.4h0M223.8 52.7h0M227.9 54.3h0M227.9 58.1h0M226.7 57.9h0M228.6 59.8h0M232.2 62.1h0M233.5 57.5h0M232.5 52.1h0M240.4 47.2h0M236.6 45.0h0M246.5 46.0h0M229.9 62.8h0M227.3 49.3h0M229.8 52.4h0M230.9 52.8h0M237.3 44.9h0M240.8 28.6h0M257.9 35.0h0M240.4 45.1h0M221.7 53.6h0M245.3 27.5h0M232.2 41.1h0M229.8 52.5h0M237.7 46.3h0M246.7 49.7h0M247.8 32.5h0M244.8 36.7h0M245.7 30.0h0M264.1 41.0h0M250.7 30.0h0M276.5 32.3h0M240.0 27.9h0M236.8 37.2h0M224.1 47.7h0M248.9 36.5h0M251.8 28.6h0M233.9 56.9h0M230.5 41.7h0M248.7 31.2h0M245.7 35.5h0M246.8 30.2h0M257.8 33.3h0M250.2 47.7h0M254.3 17.3h0M225.5 45.5h0M224.4 57.9h0M247.5 39.7h0M220.8 43.2h0M227.6 38.3h0M236.3 52.0h0M263.3 34.3h0M225.8 61.1h0M260.1 36.0h0M242.1 38.7h0M257.0 39.5h0M236.1 59.0h0M255.8 46.5h0M254.2 36.8h0M252.5 42.8h0M245.6 37.9h0M231.5 48.2h0M246.3 39.4h0M246.6 46.2h0M240.4 35.0h0M235.7 61.5h0M256.7 38.1h0M251.2 23.4h0M248.5 31.0h0M226.1 53.4h0M237.8 27.6h0M247.0 25.5h0M249.0 24.5h0M251.2 33.8h0M241.4 46.9h0M258.3 33.1h0M233.9 42.3h0M242.7 41.8h0M402.6 55.2h0M399.0 71.1h0M394.3 76.2h0M393.9 54.9h0M397.2 48.7h0M404.5 59.8h0M380.9 57.3h0M384.4 67.4h0M386.1 70.4h0M395.5 63.1h0M388.8 67.0h0M399.6 60.4h0M399.9 40.8h0M390.0 69.8h0M409.1 61.6h0M412.3 50.3h0M406.5 58.5h0M387.2 51.8h0M389.4 55.8h0M382.2 60.1h0M391.2 52.0h0M396.8 57.1h0M388.3 72.0h0M396.3 64.1h0M400.2 71.2h0M408.5 47.6h0M391.9 65.7h0M403.0 62.2h0M391.8 52.5h0M392.7 42.8h0M386.6 55.5h0M409.5 56.1h0M395.5 53.1h0M403.1 47.4h0M407.2 44.7h0M397.6 60.0h0M399.2 51.5h0M387.8 57.4h0M388.6 45.3h0M401.5 53.3h0M391.5 51.9h0M388.8 61.8h0M402.9 62.1h0M386.6 61.6h0M398.9 56.4h0M397.0 62.5h0M393.9 62.6h0M403.7 52.4h0M394.3 56.3h0M409.0 49.4h0M391.0 55.2h0M404.3 57.6h0M386.9 64.4h0M401.5 54.8h0M399.6 61.5h0M389.0 48.4h0M399.3 60.0h0M389.2 60.4h0M401.8 55.5h0M406.4 46.2h0M402.3 58.1h0M394.3 62.3h0M403.7 44.3h0M398.0 48.2h0M400.4 60.7h0M395.6 57.5h0M385.5 57.2h0M405.7 58.4h0M395.7 53.5h0M400.2 58.5h0M413.2 55.4h0M395.5 55.2h0M395.8 63.1h0M405.0 57.0h0M393.9 52.8h0M403.4 47.2h0M402.5 51.2h0M404.1 57.0h0M401.0 54.1h0M399.4 56.3h0M467.5 106.4h0M471.2 105.0h0M472.7 106.1h0M461.6 117.4h0M467.0 102.0h0M465.3 113.8h0M468.6 97.4h0M459.3 115.8h0M470.8 94.3h0M465.4 99.9h0M470.6 111.2h0M463.4 112.7h0M461.8 106.1h0M470.5 93.4h0M467.0 93.7h0M463.9 105.1h0M465.4 110.4h0M465.6 102.5h0M475.9 94.1h0M467.3 105.3h0M468.5 112.5h0M461.9 112.8h0M465.7 100.1h0M459.5 101.2h0M465.1 110.1h0M467.7 110.9h0M465.3 103.7h0M109.1 225.5h0M110.0 206.3h0M128.8 217.4h0M110.5 223.3h0M97.4 212.5h0M125.4 213.7h0M124.7 205.9h0M129.3 219.6h0M108.1 208.1h0M130.6 207.6h0M113.0 215.0h0M116.0 204.2h0M114.6 212.0h0M119.9 222.7h0M87.8 229.4h0M113.8 202.4h0M118.7 204.2h0M129.9 207.5h0M105.9 214.7h0M110.1 228.2h0M122.7 217.2h0M125.2 212.6h0M111.1 202.9h0M120.1 210.9h0M103.9 212.5h0M128.5 209.1h0M109.9 216.7h0M121.7 224.5h0M107.0 205.9h0M121.2 214.3h0M119.1 215.4h0M112.9 239.8h0M91.2 214.7h0M129.8 206.1h0M125.8 214.3h0M108.2 224.6h0M107.8 221.9h0M93.2 219.9h0M119.6 210.5h0M113.5 214.4h0M101.1 212.5h0M115.8 205.3h0M106.9 207.0h0M125.8 218.2h0M100.8 206.3h0M106.8 219.8h0M122.4 226.5h0M109.8 211.4h0M118.4 201.5h0M122.9 210.5h0M98.2 216.1h0M116.4 213.0h0M125.0 221.7h0M96.8 224.8h0M115.2 217.6h0M124.6 217.1h0M104.3 212.7h0M115.3 210.8h0M109.8 206.7h0M137.9 205.4h0M124.3 213.8h0M124.3 213.4h0M133.8 226.2h0M109.7 227.1h0M128.2 211.6h0M111.4 224.9h0M116.9 223.9h0M108.7 216.1h0M111.5 217.3h0M138.0 219.5h0M107.7 220.5h0M104.4 216.7h0M116.3 217.6h0M118.9 208.9h0M111.6 225.9h0M103.6 214.1h0M120.4 230.5h0M117.7 214.4h0M111.8 217.7h0M113.5 227.6h0M119.7 213.1h0M124.4 217.6h0M120.3 221.0h0M109.1 219.3h0M112.0 218.5h0M127.0 211.1h0M115.4 216.3h0M118.0 214.4h0M122.6 225.8h0M105.6 218.6h0M120.5 201.9h0M122.1 219.5h0M110.0 213.7h0M114.1 216.8h0M111.6 218.6h0M125.6 225.5h0M122.5 206.2h0M114.1 216.9h0M123.6 217.7h0M116.8 226.8h0M124.4 216.5h0M114.5 218.9h0M116.7 230.1h0M103.2 222.7h0M110.6 219.7h0M134.6 217.7h0M110.6 213.0h0M140.1 197.9h0M99.1 221.1h0M107.8 214.4h0M118.6 205.0h0M137.3 200.9h0M120.7 213.6h0M99.1 208.7h0M117.9 204.4h0M126.0 203.7h0M118.9 220.8h0M95.9 208.3h0M129.3 216.2h0M119.9 217.7h0M113.9 209.0h0M107.0 198.7h0M124.5 221.8h0M136.5 216.5h0M106.9 214.5h0M131.5 215.9h0M110.7 212.9h0M123.2 223.3h0M111.9 205.8h0M128.5 209.0h0M119.2 213.4h0M108.5 218.7h0M120.4 217.2h0M124.9 213.3h0M111.5 218.6h0M120.1 211.4h0M105.1 218.9h0M137.4 216.8h0M124.4 207.3h0M126.6 222.1h0M111.2 219.7h0M119.9 223.3h0M101.8 211.8h0M108.9 221.1h0M109.4 218.9h0M138.0 208.1h0M115.1 213.5h0M109.7 220.1h0M116.5 219.8h0M104.6 207.7h0M110.4 213.4h0M107.3 219.1h0M121.0 220.5h0M109.2 218.9h0M115.7 220.4h0M130.8 209.6h0M105.2 226.3h0M96.8 225.5h0M105.2 221.4h0M117.0 208.4h0M122.6 217.9h0M113.6 213.5h0M107.3 211.8h0M285.0 282.4h0M293.9 291.8h0M294.5 272.1h0M295.6 278.6h0M300.5 284.9h0M300.2 280.1h0M299.5 270.5h0M298.4 284.3h0M288.7 270.9h0M308.7 281.9h0M290.3 275.6h0M287.9 274.6h0M284.3 281.9h0M288.5 287.6h0M288.3 280.4h0M288.2 273.8h0M294.3 284.0h0M293.2 274.3h0M291.8 269.9h0M287.5 278.6h0M292.9 270.7h0M296.8 274.8h0M291.1 283.1h0M292.2 264.7h0M289.8 288.0h0M296.2 278.9h0M286.9 281.0h0M291.1 284.8h0M295.3 279.7h0M289.2 285.4h0M290.6 287.0h0M301.3 282.2h0M291.0 272.3h0M293.2 285.6h0M302.0 296.2h0M288.9 277.7h0M286.0 285.8h0M291.7 279.4h0M280.1 279.4h0M285.2 285.1h0M281.8 292.0h0M282.4 274.1h0M293.2 290.9h0M292.8 297.4h0M294.4 281.6h0M283.6 286.0h0M292.5 290.2h0M292.8 284.4h0M287.4 275.3h0M298.1 276.4h0M291.6 278.7h0M295.2 281.6h0M298.5 278.8h0M290.3 284.6h0M303.4 277.0h0M303.5 277.8h0M302.7 271.6h0M286.1 292.9h0M298.9 299.7h0M281.6 271.9h0M295.2 286.2h0M303.8 286.5h0M299.3 280.3h0M292.7 270.4h0M283.1 296.7h0M293.0 286.6h0M291.4 287.7h0M296.7 274.9h0M288.4 275.8h0M284.3 283.5h0M299.7 278.5h0M281.0 265.4h0M293.8 284.2h0M295.7 282.0h0M288.1 266.4h0M295.5 285.6h0M293.7 278.5h0M292.7 277.9h0M289.9 282.6h0M298.7 288.7h0M298.4 285.5h0M292.6 288.0h0M288.4 262.0h0M298.6 281.9h0M293.4 269.9h0M285.2 279.7h0M295.5 277.6h0M295.1 288.6h0M282.3 270.6h0M299.0 291.5h0M296.6 281.4h0M291.4 269.8h0M281.4 287.7h0M293.3 289.8h0M282.5 286.5h0M275.0 285.7h0M292.7 278.3h0M285.1 266.4h0M294.0 274.9h0M285.8 287.4h0M303.1 280.2h0M302.2 281.8h0M292.4 284.4h0M278.1 275.6h0M292.7 278.2h0M283.0 280.7h0M291.6 294.8h0M291.1 281.6h0M292.1 280.3h0M284.2 278.9h0M288.8 279.3h0M294.3 270.2h0M291.0 281.3h0M299.7 289.9h0M288.1 281.0h0M297.3 282.6h0M291.7 272.9h0M298.4 289.4h0M289.8 288.4h0M294.4 275.0h0M296.0 271.9h0M282.4 296.8h0M292.8 275.7h0M295.9 288.2h0M289.6 270.9h0M279.0 282.7h0M295.5 271.9h0M278.1 275.2h0M288.3 280.9h0M294.5 276.0h0M301.6 280.7h0M289.4 285.1h0M287.4 288.4h0M272.7 287.1h0M300.6 278.8h0M296.7 276.6h0M281.9 285.0h0M284.6 293.9h0M292.0 288.8h0M293.9 278.5h0M295.4 274.2h0M287.9 269.0h0M275.2 290.1h0M286.3 281.8h0M291.4 288.4h0M298.2 277.8h0M291.8 288.3h0M298.0 274.2h0M277.1 297.5h0M302.3 270.9h0M479.1 286.2h0M475.3 283.1h0M471.9 288.6h0M483.6 273.2h0M477.7 277.2h0M487.4 303.1h0M480.9 309.8h0M470.8 288.8h0M481.4 289.7h0M471.0 304.3h0M484.2 294.7h0M471.4 300.7h0M477.5 305.5h0M475.0 303.0h0M474.6 283.3h0M474.3 274.7h0M458.6 272.7h0M474.1 290.1h0M469.1 291.3h0M473.9 259.8h0M478.1 290.9h0M476.3 288.9h0M482.3 282.2h0M475.5 313.0h0M481.5 286.2h0M476.7 299.8h0M479.6 270.8h0M483.5 283.4h0M475.0 274.8h0M477.7 294.3h0M480.2 285.6h0M473.4 301.5h0M476.9 307.1h0M475.0 285.5h0M473.3 266.9h0M465.8 299.2h0M469.6 296.6h0M469.3 303.9h0M480.2 287.3h0M467.5 294.8h0M485.8 290.7h0M471.2 291.3h0M481.1 288.4h0M468.8 293.9h0M475.2 297.1h0M470.6 292.7h0M483.8 287.4h0M474.6 299.1h0M476.6 291.0h0M472.6 281.7h0M471.2 301.6h0M471.6 288.1h0M471.0 286.8h0M474.1 303.9h0M474.6 274.1h0M476.8 310.7h0M473.2 309.4h0M469.0 285.6h0M469.1 291.2h0M485.5 304.0h0M470.9 291.4h0M478.3 283.2h0M488.9 273.8h0M475.8 286.9h0M477.4 286.5h0M478.7 291.3h0M480.7 300.8h0M483.4 278.8h0M472.6 296.0h0M484.4 307.4h0M478.0 293.9h0M467.5 301.7h0M471.5 273.6h0M475.8 289.8h0M473.1 294.3h0M476.1 288.7h0M473.6 260.5h0M466.5 284.5h0M482.7 296.1h0M473.9 290.0h0M481.2 294.1h0M471.5 291.3h0M470.7 294.0h0M467.3 280.9h0M456.6 303.8h0M467.3 298.9h0M473.1 296.8h0M473.3 288.8h0M479.4 276.3h0M474.7 310.3h0M471.1 304.1h0M487.0 299.3h0M473.5 297.3h0M468.7 282.5h0M471.9 288.7h0M479.4 289.4h0M480.0 300.6h0M473.6 289.2h0M475.1 281.0h0M477.4 281.0h0M472.9 291.5h0M472.0 313.8h0M484.0 304.3h0M464.0 301.6h0M474.1 282.8h0M478.5 275.6h0M463.9 271.6h0M477.9 307.2h0M480.2 285.8h0M478.6 312.7h0M469.9 277.7h0M470.4 276.1h0M474.6 305.8h0M473.2 284.9h0M475.6 303.3h0M469.4 284.1h0M477.4 268.7h0M468.3 289.5h0M469.0 281.0h0M476.4 281.8h0M469.8 299.4h0M473.5 309.6h0M471.7 289.8h0M480.0 280.7h0M473.1 284.8h0M477.3 280.8h0M461.2 284.8h0M478.3 290.0h0M473.9 274.5h0M470.2 296.9h0M479.0 303.2h0M466.1 289.3h0M481.0 286.7h0M483.6 298.9h0M468.7 288.6h0M474.7 291.8h0M484.2 284.2h0M478.4 280.0h0M476.3 286.6h0M471.2 284.8h0M489.1 302.2h0M480.3 293.1h0M465.9 292.2h0M478.3 268.4h0M482.3 293.3h0M472.4 303.7h0M474.6 273.1h0M472.0 295.7h0M474.2 294.4h0M478.2 285.8h0M476.2 301.1h0M475.7 294.9h0M480.5 306.4h0M471.5 273.5h0M475.3 293.8h0M481.4 277.6h0M483.2 278.5h0M463.5 266.0h0M469.5 294.4h0M470.9 281.3h0M473.7 310.7h0M482.0 279.1h0M462.3 276.5h0M485.4 274.3h0M465.2 308.8h0M471.7 276.8h0M473.7 288.2h0M473.2 293.3h0M473.6 287.3h0M480.2 292.6h0M474.7 277.1h0M469.8 300.5h0M476.0 298.2h0M472.7 296.2h0M473.5 297.0h0M476.3 293.5h0M480.9 297.9h0M474.7 282.8h0M477.5 297.9h0M478.1 276.3h0M470.7 277.4h0M479.1 298.8h0M468.1 304.8h0M469.0 270.4h0M478.5 279.9h0M481.3 306.3h0M477.0 271.8h0M475.7 294.9h0M472.0 294.3h0M473.2 281.8h0M491.3 306.1h0M478.9 294.7h0M480.4 283.7h0M474.7 277.2h0"/>
<path fill="none" stroke="#1d4a35" stroke-width="1.6" stroke-linecap="square" d="M68.0 82.9h0M68.5 88.9h0M69.7 85.6h0M64.3 81.7h0M67.4 85.0h0M62.5 83.2h0M68.3 86.8h0M67.1 86.1h0M68.4 84.1h0M71.4 84.5h0M62.4 88.4h0M66.3 87.0h0M65.4 85.1h0M69.9 90.0h0M66.2 88.2h0M68.1 90.1h0M64.9 81.0h0M65.3 83.6h0M312.2 103.9h0M296.1 108.5h0M298.7 114.2h0M284.9 105.3h0M294.3 103.3h0M313.0 104.5h0M299.0 104.3h0M304.1 109.2h0M302.5 93.6h0M305.6 88.1h0M282.3 112.5h0M306.4 102.4h0M393.4 117.7h0M399.3 111.9h0M400.5 108.8h0M410.0 110.6h0M387.1 124.9h0M404.1 104.8h0M398.7 95.0h0M415.6 107.2h0M381.8 125.3h0M402.7 103.2h0M408.8 130.9h0M407.1 107.7h0M395.8 126.0h0M419.3 134.1h0M403.3 119.3h0M389.2 132.9h0M401.2 112.0h0M398.4 122.9h0M399.8 122.9h0M405.2 109.7h0M416.7 112.5h0M394.6 125.5h0M401.6 128.2h0M398.0 112.7h0M404.2 130.0h0M401.0 126.8h0M54.9 295.4h0M47.6 291.0h0M57.2 298.6h0M55.6 306.9h0M38.3 284.1h0M40.0 278.8h0M62.1 302.2h0M45.1 288.5h0M34.4 301.7h0M43.4 271.5h0M49.9 285.5h0M43.3 295.5h0M47.6 296.2h0M54.1 279.1h0M59.1 295.3h0M45.8 299.8h0M43.0 309.5h0M59.2 289.4h0M52.9 294.3h0M212.8 286.8h0M229.9 269.8h0M209.1 300.6h0M227.7 300.4h0M216.3 297.6h0M213.2 309.9h0M204.3 283.5h0M211.1 307.8h0M213.4 309.9h0M238.3 295.3h0M224.2 271.9h0M214.9 292.7h0M228.3 290.2h0M210.3 308.5h0M226.7 287.9h0M207.2 303.7h0M207.9 271.4h0M220.1 262.0h0M212.1 306.0h0M230.5 274.7h0M207.8 297.4h0M215.6 302.9h0M218.6 289.2h0M415.5 309.9h0M431.6 284.1h0M415.6 296.8h0M411.2 306.4h0M419.3 302.4h0M418.9 300.6h0M420.2 278.2h0M416.2 306.8h0M435.3 292.0h0M415.2 304.5h0M403.5 299.3h0M423.0 313.0h0M411.2 299.2h0M417.4 297.8h0M424.1 283.3h0M421.3 300.9h0M417.4 276.3h0M411.2 289.7h0M421.5 292.7h0M403.6 296.1h0M414.1 286.0h0M420.8 298.8h0M423.0 294.1h0M426.0 289.3h0M411.6 289.7h0M419.2 301.5h0M419.2 277.9h0M407.1 301.5h0M409.8 295.8h0M423.6 283.6h0M422.8 301.4h0M417.9 292.3h0M422.0 295.7h0M412.1 302.4h0M411.4 300.4h0M420.8 293.5h0M430.0 307.1h0M422.6 304.0h0M428.1 301.0h0"/>
<path fill="none" stroke="#1a1a1a" stroke-width="1.6" stroke-linecap="square" d="M48.4 102.2h0M68.9 99.9h0M46.7 91.5h0M49.4 94.8h0M63.5 90.9h0M64.8 105.3h0M75.4 99.4h0M70.6 91.2h0M64.3 93.4h0M60.5 97.1h0M61.4 85.2h0M59.7 82.0h0M59.1 83.6h0M71.8 84.2h0M61.0 86.3h0M65.1 87.7h0M48.3 86.6h0M58.6 87.7h0M76.1 91.4h0M61.4 88.4h0M66.3 84.9h0M71.6 87.4h0M59.9 89.0h0M60.4 81.3h0M47.5 85.3h0M299.4 77.3h0M286.5 105.7h0M317.9 95.1h0M287.5 85.4h0M306.1 81.8h0M297.1 91.4h0M298.7 86.4h0M287.9 96.9h0M286.2 92.3h0M295.8 96.1h0M297.7 109.4h0M286.3 89.2h0M303.4 83.1h0M299.1 83.6h0M287.3 124.0h0M284.8 85.1h0M293.9 107.1h0M298.0 79.0h0M313.4 107.1h0M284.3 97.4h0M293.5 98.2h0M302.7 89.4h0M297.9 105.6h0M304.6 95.5h0M289.5 94.4h0M297.6 104.5h0M293.5 83.3h0M285.7 98.6h0M298.8 92.9h0M296.7 100.3h0M314.0 95.9h0M297.2 102.4h0M289.5 101.9h0M294.3 96.7h0M289.5 82.4h0M302.7 110.8h0M288.8 97.6h0M284.6 109.9h0M310.5 93.2h0M307.2 83.9h0M288.5 98.0h0M300.6 89.1h0M287.3 114.2h0M317.1 110.8h0M297.2 124.8h0M309.2 103.6h0M294.9 126.7h0M293.9 106.9h0M285.0 95.1h0M277.6 102.8h0M282.9 126.3h0M298.9 101.6h0M291.5 109.4h0M311.2 93.1h0M312.9 129.5h0M295.1 102.0h0M298.2 123.1h0M297.7 109.7h0M294.2 124.7h0M296.0 110.1h0M293.5 108.7h0M282.2 117.2h0M307.6 113.0h0M310.0 119.3h0M293.9 108.8h0M301.2 95.8h0M296.6 100.4h0M305.1 120.6h0M296.8 102.7h0M403.9 115.0h0M395.4 101.4h0M385.7 116.7h0M403.7 118.4h0M403.2 106.3h0M403.9 101.0h0M420.2 114.1h0M394.7 121.7h0M401.4 118.8h0M408.6 114.2h0M414.4 129.3h0M406.3 116.2h0M407.2 110.5h0M393.6 117.8h0M402.8 105.9h0M399.6 134.8h0M400.8 110.6h0M411.9 108.7h0M406.2 118.4h0M396.3 116.5h0M396.3 106.6h0M408.5 110.6h0M412.5 110.2h0M414.8 112.8h0M414.8 113.5h0M398.5 106.5h0M409.6 118.3h0M405.8 118.0h0M414.4 97.8h0M422.2 97.2h0M404.8 96.8h0M421.9 91.7h0M413.9 109.6h0M407.5 109.7h0M403.0 117.2h0M409.2 107.4h0M403.9 107.5h0M413.6 124.0h0M411.2 108.0h0M398.0 123.6h0M413.0 109.4h0M393.6 125.2h0M411.8 94.1h0M410.1 123.0h0M383.1 99.8h0M397.2 109.3h0M406.1 100.1h0M417.4 115.5h0M386.7 96.0h0M423.1 111.2h0M392.8 120.2h0M404.5 115.3h0M404.3 128.0h0M394.9 98.3h0M419.0 102.7h0M403.9 106.0h0M399.0 111.9h0M401.8 112.6h0M416.9 114.4h0M404.7 105.7h0M421.3 102.4h0M413.0 115.8h0M408.4 113.3h0M409.8 130.4h0M392.9 120.6h0M403.8 116.1h0M415.1 116.7h0M388.8 114.1h0M417.3 111.8h0M408.7 131.8h0M404.3 102.1h0M399.0 108.2h0M414.2 115.6h0M397.4 95.8h0M415.2 112.9h0M421.8 117.9h0M402.2 128.2h0M407.3 104.4h0M397.9 95.5h0M410.9 119.4h0M408.6 113.8h0M407.0 113.7h0M403.1 106.1h0M405.6 97.6h0M414.4 103.9h0M409.2 99.8h0M420.2 114.0h0M385.2 98.0h0M395.1 113.8h0M419.1 123.9h0M405.5 100.8h0M396.3 100.1h0M420.4 98.4h0M409.7 125.2h0M388.5 119.3h0M388.5 134.9h0M413.6 99.8h0M412.6 115.4h0M391.1 109.7h0M394.9 124.0h0M393.9 133.1h0M411.9 98.2h0M401.0 128.4h0M410.4 103.5h0M413.1 113.9h0M419.6 116.2h0M413.1 113.5h0M384.2 124.9h0M382.8 120.3h0M397.6 113.4h0M406.0 112.7h0M413.2 116.0h0M410.8 127.9h0M407.4 117.3h0M413.2 129.5h0M403.7 128.6h0M421.0 102.7h0M409.1 123.0h0M412.8 124.9h0M400.2 118.6h0M394.0 113.2h0M417.1 125.6h0M411.5 116.9h0M407.6 134.4h0M384.1 114.8h0M418.5 103.3h0M414.1 130.8h0M408.5 98.4h0M407.0 103.2h0M402.1 111.9h0M382.3 106.9h0M414.7 107.5h0M395.9 115.3h0M420.7 125.5h0M382.8 102.5h0M405.8 131.8h0M390.7 97.4h0M404.5 135.4h0M463.8 118.0h0M467.6 74.1h0M438.7 96.5h0M43.5 285.7h0M70.5 298.8h0M37.3 292.7h0M40.4 294.8h0M41.6 304.9h0M47.5 303.5h0M49.6 300.4h0M42.8 294.0h0M27.3 301.3h0M40.4 296.5h0M38.5 290.5h0M45.7 285.7h0M65.7 291.1h0M61.1 287.2h0M55.4 302.2h0M66.1 303.1h0M45.2 307.5h0M55.1 309.0h0M42.0 298.9h0M45.2 299.8h0M56.6 302.8h0M38.0 293.9h0M58.2 296.0h0M52.5 313.7h0M54.9 291.9h0M42.9 298.8h0M32.2 300.5h0M47.7 305.2h0M38.1 297.2h0M40.5 290.7h0M39.8 310.1h0M62.5 295.0h0M30.1 287.5h0M60.8 298.6h0M47.4 276.3h0M53.5 298.4h0M27.1 283.1h0M32.1 301.4h0M60.5 303.8h0M212.4 278.0h0M204.3 281.6h0M218.0 301.7h0M228.3 266.8h0M221.9 282.8h0M208.8 302.4h0M238.2 296.9h0M220.6 275.0h0M212.0 300.7h0M210.9 288.1h0M217.0 278.7h0M221.0 298.1h0M226.6 313.4h0M231.4 277.4h0M207.4 292.1h0M208.3 288.1h0M218.8 289.1h0M205.3 297.1h0M228.6 268.4h0M217.4 296.3h0M225.0 309.2h0M233.4 274.5h0M218.4 267.2h0M205.8 282.1h0M229.9 290.4h0M225.1 288.2h0M220.1 307.8h0M213.0 286.7h0M233.1 295.2h0M214.0 283.9h0M230.7 294.4h0M212.5 304.4h0M211.2 288.6h0M205.0 273.0h0M223.8 299.9h0M216.6 300.1h0M208.2 310.4h0M242.5 295.2h0M231.4 277.5h0M211.3 305.9h0M210.8 309.3h0M219.1 302.7h0M240.2 283.4h0M211.7 283.9h0M214.8 292.4h0M221.1 314.0h0M210.2 283.8h0M209.7 285.8h0M211.9 284.0h0M207.7 292.6h0M222.9 297.9h0M210.0 275.4h0M217.3 295.3h0M210.3 303.2h0M226.4 300.1h0M222.0 308.6h0M222.6 307.7h0M208.9 293.6h0M233.1 300.4h0M222.6 282.7h0M214.9 291.5h0M213.2 304.2h0M234.9 301.1h0M247.5 307.1h0M220.7 283.3h0M230.7 302.2h0M236.7 279.1h0M229.7 313.6h0M240.3 277.5h0M241.3 311.5h0M243.4 310.9h0M228.9 276.5h0M230.9 313.8h0M219.3 293.1h0M220.2 280.8h0M217.2 306.5h0M224.6 291.8h0M213.1 299.0h0M231.7 300.1h0M215.0 311.8h0M231.7 282.1h0M227.2 301.1h0M242.5 273.1h0M216.0 276.0h0M209.5 303.1h0M206.5 289.7h0M214.3 286.1h0M208.9 271.4h0M209.5 299.9h0M416.8 305.0h0M420.1 304.0h0M424.1 291.2h0M413.6 309.9h0M417.5 290.7h0M420.6 284.0h0M423.1 291.5h0M421.6 287.3h0M424.6 301.4h0M415.2 287.6h0M413.1 286.9h0M436.1 287.7h0M411.0 308.9h0M426.3 308.0h0M428.0 293.8h0M423.6 285.1h0M410.1 289.9h0M420.6 311.6h0M416.1 303.5h0M417.3 310.7h0M428.4 311.1h0M424.2 283.4h0M403.1 297.8h0M427.7 291.4h0M416.3 291.9h0M420.7 288.4h0M419.2 309.9h0M415.5 305.1h0M407.8 310.6h0M430.6 288.2h0M419.0 300.4h0M421.8 286.6h0M423.8 287.4h0M425.8 304.0h0M425.1 289.9h0M399.0 281.2h0M416.4 304.4h0M427.3 293.0h0M421.5 301.8h0M430.5 305.7h0M412.7 289.7h0M407.9 295.8h0M430.5 310.8h0M425.1 295.9h0M410.9 292.3h0M410.1 303.4h0M408.1 306.3h0M419.1 306.7h0M418.4 305.4h0M408.6 295.1h0M425.9 287.3h0M415.0 292.9h0M419.8 303.0h0M411.8 303.3h0M417.7 279.9h0M431.5 296.2h0M424.5 285.4h0M418.7 300.7h0M416.4 282.0h0M421.7 286.9h0M421.3 275.7h0M432.0 308.0h0M414.4 302.9h0M425.5 292.8h0M433.3 287.8h0M419.3 288.3h0M423.4 286.8h0M408.7 291.7h0M408.8 302.1h0M424.8 293.8h0M413.0 293.7h0M413.3 307.7h0M420.0 296.5h0M409.7 287.3h0M408.4 301.4h0M412.7 278.0h0M394.5 289.9h0M400.5 301.0h0M397.7 309.4h0M390.7 302.1h0M392.4 300.1h0M419.2 310.1h0M417.8 295.7h0M405.0 284.5h0M403.7 295.7h0M416.3 304.3h0M405.6 290.5h0M388.4 293.4h0M389.1 299.5h0M401.9 301.1h0M399.2 307.0h0M397.2 299.0h0M404.5 294.4h0M390.7 287.1h0M412.7 304.3h0M413.4 297.7h0M410.3 291.6h0M401.5 289.6h0M394.9 304.5h0M401.6 300.7h0M389.5 301.8h0M404.3 303.4h0"/>
<path fill="none" stroke="#a2caca" stroke-width="1.6" stroke-linecap="square" d="M226.5 250.5h0M237.0 244.7h0M217.5 214.9h0M207.0 255.8h0M240.0 200.1h0M203.5 241.6h0M226.3 198.0h0M218.5 261.3h0M227.2 218.1h0M209.0 247.9h0M204.1 224.0h0M219.5 243.7h0M226.5 228.2h0M213.7 201.8h0M223.5 239.9h0M240.7 228.1h0M235.7 222.4h0M208.5 200.7h0M220.8 202.3h0M242.6 247.4h0M229.7 221.7h0M214.4 208.9h0M210.9 202.6h0M225.6 248.5h0M237.8 243.7h0M232.6 242.6h0M212.1 200.3h0M236.9 219.0h0M236.7 234.3h0M215.1 237.5h0M226.6 225.8h0M232.8 243.8h0M225.8 228.6h0M220.1 231.1h0M220.3 206.0h0M233.0 237.4h0M213.6 228.0h0M217.9 233.3h0M225.3 237.8h0M222.2 222.3h0"/>
<path fill="none" stroke="#9fb4b8" stroke-width="1.6" stroke-linecap="square" d="M88.5 75.0h0M89.1 66.4h0M58.8 51.8h0M138.9 58.4h0M107.1 67.5h0M113.5 45.9h0M92.6 57.6h0M127.2 279.7h0M127.9 297.4h0M125.2 271.1h0M127.4 274.0h0M118.0 287.0h0M121.2 280.2h0M128.7 277.5h0M111.5 284.8h0M127.6 257.3h0M125.6 288.5h0M110.6 279.3h0M129.5 279.2h0M120.8 281.6h0M122.9 274.5h0M141.2 287.9h0M120.4 268.4h0M128.2 295.3h0M139.0 283.5h0M121.8 275.7h0M110.8 272.7h0M138.8 265.1h0M121.3 286.9h0M114.5 273.4h0M144.5 282.7h0M132.1 278.9h0M121.1 277.5h0M130.0 280.1h0M123.6 278.8h0M108.1 279.4h0M118.2 276.9h0M117.0 261.0h0M144.6 276.5h0M123.6 281.4h0M123.0 246.0h0M121.5 303.2h0M117.0 293.3h0M121.9 274.4h0M139.2 282.4h0M121.5 260.6h0M126.6 276.1h0M130.9 280.6h0M111.0 291.7h0M113.6 281.5h0M125.0 288.0h0M103.7 281.0h0M74.4 256.9h0M119.0 203.1h0M34.1 309.8h0M112.5 195.9h0M142.6 225.0h0M92.6 265.1h0M134.6 297.9h0M151.9 266.7h0M66.0 212.1h0M92.1 306.5h0M291.3 233.5h0M484.2 224.1h0M489.8 236.1h0M456.9 242.6h0M476.1 228.8h0M476.9 247.6h0M465.8 245.9h0M461.4 254.0h0M474.0 229.8h0"/>
<path fill="none" stroke="#607c84" stroke-width="1.6" stroke-linecap="square" d="M240.9 214.8h0M207.2 211.4h0M227.7 222.2h0M235.5 231.3h0M216.2 246.7h0M231.7 244.5h0M203.5 203.9h0M217.1 251.8h0M225.4 221.5h0"/>
<path fill="none" stroke="#e0607a" stroke-width="1.6" stroke-linecap="square" d="M425.9 131.5h0M427.1 109.3h0M454.4 127.5h0M438.5 114.0h0M440.3 123.8h0M442.4 108.7h0M446.8 130.2h0M442.2 112.5h0M424.7 117.7h0M445.1 116.6h0M454.6 133.9h0M446.3 100.3h0M430.0 100.0h0M432.9 111.4h0M430.8 128.4h0M425.5 133.6h0M436.4 98.6h0"/>
<path fill="none" stroke="#b8405e" stroke-width="1.6" stroke-linecap="square" d="M282.7 126.4h0M248.8 133.2h0M317.5 131.1h0M335.0 125.1h0M332.3 91.0h0M329.8 101.6h0M272.5 104.7h0M323.4 88.8h0M230.1 73.5h0M220.9 117.2h0M225.2 94.3h0M448.1 85.3h0M458.4 88.8h0M430.5 110.7h0M448.0 110.7h0M433.4 87.8h0M451.4 49.6h0M438.3 108.9h0M445.2 48.8h0M426.3 97.2h0M434.5 64.6h0M93.7 189.3h0M104.6 231.5h0M52.3 203.7h0M121.2 220.5h0M137.1 220.0h0M108.8 243.4h0M113.0 205.3h0M91.7 222.1h0M114.3 256.9h0M103.2 206.0h0M160.7 214.0h0M113.0 211.3h0M101.8 260.3h0M97.2 187.9h0M44.8 259.3h0M210.2 211.7h0M209.0 241.3h0M231.8 201.6h0M236.7 227.9h0M211.3 209.5h0M234.6 247.0h0M243.7 250.3h0M223.6 246.3h0M204.1 247.4h0M294.0 252.4h0M290.6 202.1h0M246.0 254.3h0M268.9 234.3h0M254.6 257.0h0M270.9 257.4h0M266.5 235.1h0M258.6 255.0h0M450.1 261.5h0M470.9 238.4h0M455.4 259.4h0M478.0 248.0h0M472.6 238.4h0M463.4 243.4h0M450.4 258.7h0M463.5 250.0h0M476.7 241.4h0M462.0 256.4h0M442.2 267.5h0M452.0 259.1h0M464.5 250.7h0"/>
<path fill="none" stroke="#d81a3c" stroke-width="1.6" stroke-linecap="square" d="M304.9 20.9h0M275.3 54.6h0M269.7 64.5h0M306.2 58.9h0M305.9 76.6h0M284.3 52.3h0M323.5 32.8h0M299.1 61.3h0M252.4 61.4h0M267.8 81.8h0M304.8 82.6h0M293.2 63.8h0M324.4 75.6h0M274.3 54.0h0M277.8 81.0h0M286.8 70.5h0M310.2 91.7h0M317.2 60.9h0M302.7 51.3h0M308.4 62.7h0M292.7 82.5h0M282.4 52.6h0M279.1 68.6h0M316.7 64.2h0M316.9 61.6h0M298.0 61.2h0M257.2 92.5h0M322.3 73.8h0M281.8 61.8h0M258.1 41.7h0M313.8 74.1h0M306.8 50.0h0M327.5 112.7h0M299.3 62.6h0M287.9 76.5h0M282.0 71.9h0M280.1 72.2h0M297.9 49.2h0M282.8 59.7h0M234.5 57.9h0M280.6 55.7h0M311.8 60.2h0M289.8 72.5h0M281.2 71.1h0M299.7 49.4h0M299.6 70.7h0M289.2 65.1h0M291.1 56.4h0M332.8 75.1h0M311.2 68.1h0M304.7 46.6h0M303.1 42.9h0M273.5 54.0h0M277.8 47.0h0M296.8 66.6h0M303.4 48.5h0M306.2 45.2h0M317.0 65.1h0M289.3 107.8h0M271.3 61.2h0M289.3 72.7h0M294.4 80.3h0M324.6 78.1h0M306.0 84.3h0M297.3 70.9h0M321.7 93.4h0M294.7 83.8h0M300.9 79.4h0M328.2 70.5h0M293.1 83.4h0M284.3 75.1h0M328.7 73.3h0M274.8 93.2h0M303.0 90.5h0M275.2 76.8h0M279.9 77.3h0M278.9 96.8h0M303.9 84.7h0M295.5 68.4h0M294.7 76.1h0M316.8 61.7h0M267.7 72.3h0M300.9 95.3h0M425.1 50.1h0M420.3 48.3h0M393.9 63.2h0M395.1 66.6h0M418.8 82.3h0M414.2 76.6h0M397.9 62.4h0M381.6 62.3h0M396.3 48.8h0M410.0 54.3h0M406.3 56.5h0M403.8 65.3h0M417.9 88.3h0M406.8 68.5h0M410.2 36.1h0M403.3 25.4h0M409.5 66.6h0M406.7 56.5h0M411.8 65.5h0M409.8 56.4h0M408.3 65.7h0M402.0 65.8h0M422.9 64.8h0M433.7 46.0h0M401.2 44.1h0M390.2 40.1h0M404.9 105.7h0M411.6 106.8h0M413.4 119.7h0M417.3 114.1h0M402.6 98.0h0M416.9 115.0h0M425.1 110.9h0M394.4 101.4h0M410.1 108.4h0M405.2 104.1h0M411.9 118.7h0M406.4 107.8h0M421.1 104.7h0M407.4 96.8h0M410.2 105.2h0M431.2 108.3h0M418.0 87.4h0M399.8 101.3h0M399.3 128.0h0M410.2 104.1h0M406.3 109.9h0M419.2 92.9h0M410.6 106.6h0M389.7 107.6h0M426.6 103.0h0M399.6 108.3h0M421.1 121.9h0M390.4 110.4h0M56.0 279.1h0M64.2 276.0h0M74.9 256.4h0M72.5 250.0h0M87.9 214.8h0M65.9 248.7h0M74.7 247.6h0M70.9 224.5h0M85.3 249.4h0M74.2 256.8h0M55.3 229.6h0M81.5 249.1h0M74.3 223.5h0M84.8 242.5h0M81.0 217.7h0M100.3 241.3h0M84.7 248.8h0M85.3 242.0h0M74.5 244.1h0M70.4 272.1h0M72.8 268.5h0M62.6 260.2h0M57.4 254.7h0M50.9 258.4h0M63.8 264.2h0M108.2 265.3h0M76.7 235.5h0M75.2 255.6h0M63.3 253.9h0M79.5 243.4h0M61.3 261.0h0M59.5 226.9h0M73.1 250.6h0M79.3 270.7h0M78.9 252.4h0M89.8 229.0h0M46.6 260.7h0M99.9 252.7h0M65.3 228.1h0M65.9 240.7h0M72.0 241.6h0M98.2 227.1h0M57.5 279.5h0M68.6 261.1h0M100.6 235.6h0M84.2 247.1h0M55.7 260.5h0M89.9 240.8h0M94.7 248.1h0M93.8 241.6h0M82.5 221.2h0M70.8 267.9h0M91.2 234.0h0M80.2 238.3h0M82.2 227.9h0M116.1 262.2h0M69.3 237.9h0M90.6 240.1h0M82.3 233.7h0M89.4 243.8h0M63.5 267.4h0M77.4 273.0h0M48.9 235.1h0M46.8 240.7h0M72.4 220.7h0M42.5 223.8h0M79.9 207.1h0M66.1 232.8h0M56.1 237.4h0M80.1 235.4h0M59.6 279.0h0M42.5 205.1h0M86.2 221.7h0M34.5 233.5h0M67.8 208.6h0M70.2 221.8h0M48.3 253.4h0M59.4 220.9h0M56.9 263.2h0M69.2 272.5h0M40.5 235.4h0M51.5 207.3h0M54.7 248.7h0M60.7 250.9h0M74.3 258.1h0M75.8 235.1h0M56.5 237.0h0M75.2 263.4h0M75.8 244.7h0M72.6 216.7h0M76.5 236.1h0M69.5 222.0h0M54.8 251.7h0M43.4 230.7h0M52.4 193.0h0M65.3 252.8h0M61.1 230.2h0M69.0 226.4h0M58.4 256.7h0M76.0 233.7h0M54.5 250.8h0M65.7 274.0h0M76.7 256.7h0M80.4 234.2h0M45.4 229.3h0M39.4 210.6h0M68.2 246.2h0M43.1 233.6h0M86.1 204.5h0M42.2 268.9h0M73.8 227.0h0M63.3 256.7h0M74.0 257.7h0M61.5 239.8h0M84.2 275.8h0M86.0 250.5h0M65.8 225.7h0M76.6 225.0h0M50.4 260.5h0M58.4 231.2h0M59.8 234.7h0M51.8 249.6h0M60.0 279.5h0M50.3 267.5h0M79.1 257.0h0M40.4 262.7h0M66.9 247.1h0M82.2 202.6h0M65.4 216.4h0M69.2 212.1h0M81.6 261.5h0M50.1 229.1h0M91.9 211.6h0M66.9 248.0h0M62.6 236.6h0M55.8 262.6h0M64.6 214.1h0M56.6 196.9h0M69.7 256.1h0M62.0 233.9h0M72.1 219.1h0M26.9 244.4h0M91.8 246.3h0M70.8 259.6h0M68.1 247.1h0M81.5 238.3h0M73.1 229.0h0M81.0 221.4h0M71.0 239.0h0M51.2 219.6h0M49.5 256.7h0M68.1 224.2h0M65.9 236.0h0M84.3 249.9h0M50.9 231.6h0M64.7 239.0h0M66.4 266.9h0M61.2 242.1h0M70.9 250.1h0M71.9 226.8h0M72.6 225.2h0M55.0 186.4h0M59.0 261.7h0M76.1 251.3h0M83.0 264.0h0M58.7 252.2h0M62.1 221.6h0M88.7 278.9h0M85.4 296.7h0M94.0 284.2h0M73.0 278.1h0M88.9 290.6h0M89.1 297.2h0M100.6 297.9h0M96.9 280.0h0M90.4 278.2h0M121.1 294.0h0M85.1 291.0h0M101.4 289.3h0M98.6 288.7h0M115.7 279.4h0M111.1 278.8h0M78.9 280.9h0M102.7 283.3h0M120.2 278.3h0M91.1 276.3h0M100.7 277.6h0M90.4 274.2h0M83.9 283.0h0M92.2 274.0h0M70.8 286.8h0M109.5 277.2h0M88.9 280.6h0M96.6 270.7h0M81.6 285.7h0M98.4 273.8h0M85.1 274.1h0M107.7 290.1h0M93.8 294.5h0M92.8 269.2h0M85.5 284.4h0M85.3 288.6h0M75.9 292.1h0M90.0 287.0h0M110.4 277.5h0M103.8 278.2h0M90.5 277.9h0M79.5 275.3h0M94.5 277.0h0M87.9 292.2h0M99.2 286.5h0M89.6 283.9h0M94.9 290.2h0M68.9 274.9h0M94.3 292.6h0M93.9 282.6h0M79.1 298.8h0M66.2 287.5h0M105.2 284.7h0M69.5 285.7h0M85.2 278.9h0M90.0 294.4h0M61.1 280.8h0M93.7 284.3h0M87.6 290.4h0M102.6 274.5h0M74.2 278.2h0M86.8 280.8h0M92.5 282.9h0M82.5 232.1h0M87.7 234.3h0M77.1 229.9h0M120.7 209.6h0M120.2 229.1h0M80.4 225.3h0M106.1 220.8h0M95.9 214.9h0M112.8 222.1h0M80.0 218.2h0M93.0 217.4h0M78.3 233.0h0M97.9 233.8h0M120.4 208.6h0M82.7 215.3h0M86.4 218.3h0M88.6 213.9h0M85.3 224.3h0M106.0 220.6h0M94.3 224.8h0M89.7 205.3h0M106.0 212.7h0M102.9 219.8h0M106.0 219.4h0M104.2 218.0h0M103.8 205.1h0M111.9 206.4h0M92.5 212.1h0M71.1 210.6h0M103.8 215.8h0M74.6 256.8h0M75.0 251.8h0M93.4 249.3h0M75.7 258.1h0M101.5 251.6h0M74.6 244.8h0M98.1 261.3h0M98.2 247.9h0M103.8 244.3h0M121.2 249.6h0M89.7 244.7h0M114.8 256.3h0M87.5 262.4h0M104.7 253.9h0M97.1 249.8h0M86.4 250.0h0M84.0 264.2h0M106.0 251.7h0M83.6 259.6h0M77.1 245.9h0M121.4 266.3h0M99.6 260.3h0M90.1 263.1h0M109.7 252.1h0M84.7 253.4h0M100.6 245.8h0M75.3 257.4h0M101.2 252.0h0M96.7 252.5h0M118.7 262.2h0M103.1 260.4h0M104.4 236.2h0M85.0 264.1h0M121.6 250.3h0M95.6 248.2h0M93.9 252.1h0M104.0 260.5h0M84.6 240.6h0M110.8 240.3h0M96.3 267.3h0M64.7 250.6h0M74.1 248.7h0M98.7 258.9h0M82.7 239.9h0M90.6 261.3h0M74.6 252.7h0M80.8 242.8h0M103.2 253.7h0M103.4 248.5h0M70.6 242.8h0M111.3 231.9h0M121.5 253.0h0M83.7 245.1h0M77.8 245.6h0M112.3 265.2h0M105.2 249.9h0M129.6 250.6h0M113.7 250.6h0M119.2 248.0h0M109.6 237.7h0M76.1 253.7h0M82.2 262.7h0M73.5 263.3h0M60.9 296.6h0M72.9 284.9h0M57.8 273.4h0M56.4 293.6h0M66.4 286.1h0M62.7 280.0h0M63.6 283.5h0M67.1 276.1h0M46.0 301.4h0M66.4 279.4h0M63.0 293.9h0M60.9 304.1h0M52.3 289.7h0M59.7 291.4h0M48.9 275.1h0M62.2 285.8h0M71.3 271.2h0M61.3 294.9h0M65.1 296.1h0M63.6 280.6h0M63.9 278.6h0M58.0 296.7h0M62.2 291.2h0M64.5 288.6h0M54.4 284.9h0M72.1 285.2h0M58.3 280.0h0M257.0 264.2h0M273.6 259.6h0M243.1 274.3h0M238.4 276.8h0M256.5 272.2h0M253.2 258.6h0M259.4 266.9h0M246.1 276.2h0M251.4 258.5h0M266.6 259.6h0M266.6 264.0h0M230.8 281.9h0M242.6 262.3h0M267.3 260.8h0M260.8 261.6h0M251.7 262.1h0M256.5 266.8h0M258.1 279.8h0M250.7 279.8h0M260.8 272.3h0M242.3 274.0h0M269.4 258.7h0M267.9 267.6h0M250.5 279.0h0M261.1 263.9h0M260.4 259.1h0M245.9 262.7h0M268.9 251.0h0M262.4 261.1h0M232.4 274.9h0M227.8 263.4h0M258.6 262.7h0M256.9 257.5h0M267.4 256.4h0M222.6 290.2h0M259.6 263.5h0M241.6 277.4h0M275.6 259.3h0M262.4 271.3h0M249.1 275.8h0M258.5 257.5h0M260.0 255.6h0M253.8 258.6h0M252.0 252.1h0M259.0 269.9h0M257.8 278.3h0M238.5 264.4h0M251.4 267.4h0M258.1 266.7h0M271.7 258.7h0M234.8 282.2h0M247.0 260.2h0M243.3 273.1h0M251.6 256.8h0M227.0 267.5h0M274.7 245.4h0M236.1 272.3h0M260.8 263.2h0M211.9 301.6h0M218.7 311.9h0M208.1 293.9h0M215.4 281.1h0M223.3 292.4h0M229.4 283.6h0M215.0 306.5h0M212.1 301.2h0M226.9 306.2h0M207.1 293.4h0M223.8 306.8h0M212.8 303.3h0M219.4 309.7h0M229.8 294.3h0M224.9 295.0h0M212.8 300.6h0M218.2 300.1h0M210.3 310.6h0M211.1 278.1h0M219.3 290.1h0M222.6 306.9h0M214.0 293.2h0M205.4 294.5h0M205.6 306.8h0M213.2 309.4h0M221.4 294.7h0M208.3 294.4h0M217.2 289.6h0M216.3 295.7h0M216.2 312.9h0M205.4 293.5h0M230.4 300.3h0M222.1 298.1h0M213.2 290.9h0M221.3 304.7h0M213.7 299.0h0M216.8 290.8h0M207.4 281.0h0M209.4 295.5h0M212.3 298.0h0M208.7 286.1h0M205.9 309.4h0M215.6 294.3h0M213.0 302.5h0M434.9 255.1h0M441.3 286.4h0M437.0 265.8h0M456.0 264.6h0M435.2 268.6h0M443.9 253.3h0M451.3 273.5h0M439.7 272.4h0M438.7 259.6h0M429.2 263.0h0M439.5 267.3h0M428.6 274.1h0M438.7 265.1h0M440.8 285.9h0M454.7 262.1h0M443.6 269.8h0M439.9 264.1h0M441.2 276.4h0M447.2 266.6h0M437.7 281.1h0M445.8 272.0h0M439.3 271.4h0M441.9 278.4h0M429.9 259.3h0M441.2 268.0h0M428.1 269.8h0M441.8 265.3h0M429.3 278.8h0M430.2 256.5h0M447.0 267.3h0M466.8 272.7h0M476.8 275.6h0M480.9 280.9h0M469.8 267.3h0M479.2 279.5h0M477.1 271.9h0M487.2 268.8h0M470.1 289.4h0M478.9 287.3h0M487.4 278.1h0M477.0 275.9h0M482.6 266.4h0M478.3 275.5h0M466.0 288.9h0M480.9 291.9h0M471.6 277.9h0M467.4 279.2h0M481.2 275.9h0M482.7 275.2h0M476.1 290.2h0M475.9 272.9h0M474.5 279.7h0M477.2 264.5h0M464.8 288.6h0M486.4 266.6h0M463.7 282.4h0M470.7 271.7h0M480.6 275.7h0M475.2 285.1h0M483.9 274.1h0M472.6 268.8h0M478.3 283.9h0M482.1 283.2h0M482.5 270.5h0M474.6 283.4h0M476.8 291.1h0M465.9 295.2h0M470.9 287.1h0M481.3 310.6h0M476.8 292.6h0M478.5 298.9h0M481.8 281.4h0M468.8 294.2h0M480.8 283.3h0M474.8 300.6h0M479.7 272.9h0M458.2 280.6h0M479.1 284.3h0M481.9 295.8h0M484.1 289.7h0M470.8 301.0h0M482.4 285.5h0M477.5 282.2h0M482.4 281.4h0M485.5 280.3h0M479.0 309.9h0M479.0 302.4h0M471.7 299.7h0M471.6 296.7h0M472.7 295.7h0M473.4 300.8h0M475.8 271.0h0M478.6 286.9h0M469.4 294.6h0M469.9 291.4h0M473.0 291.8h0M469.0 284.9h0M479.9 302.5h0"/>
<path fill="none" stroke="#f0101e" stroke-width="1.6" stroke-linecap="square" d="M88.5 81.4h0M108.4 73.5h0M97.4 84.6h0M100.1 74.6h0M89.4 83.4h0M88.6 75.5h0M72.1 82.2h0M105.5 77.7h0M84.1 79.2h0M75.9 80.9h0M93.4 79.5h0M76.8 84.2h0M100.0 74.7h0M83.3 81.6h0M76.6 82.0h0M74.3 79.4h0M89.5 73.5h0M86.7 78.1h0M89.1 86.8h0M90.6 73.3h0M92.5 84.9h0M92.5 83.7h0M87.5 78.0h0M83.6 79.6h0M88.3 75.1h0M91.6 84.4h0M81.7 86.1h0M89.9 77.4h0M102.0 80.3h0M109.2 84.3h0M78.3 75.7h0M76.1 86.2h0M92.0 79.5h0M92.1 80.3h0M113.3 77.7h0M108.7 69.8h0M91.1 77.0h0M89.0 74.1h0M92.3 84.8h0M89.2 76.2h0M97.1 81.0h0M103.7 74.7h0M101.6 72.4h0M74.9 76.9h0M117.7 85.7h0M78.7 81.2h0M92.8 81.8h0M89.3 77.8h0M97.6 81.5h0M81.3 86.1h0M104.2 83.1h0M99.4 66.9h0M107.2 67.1h0M106.3 77.2h0M103.3 84.4h0M83.0 80.7h0M75.2 84.6h0M103.1 85.6h0M78.9 86.7h0M95.8 77.0h0M85.8 74.7h0M99.4 72.3h0M93.4 84.4h0M83.3 78.8h0M77.9 83.8h0M88.5 77.8h0M102.7 75.1h0M83.5 77.4h0M97.6 77.8h0M79.2 85.9h0M108.3 77.1h0M98.9 78.4h0M74.3 81.7h0M79.8 81.7h0M88.0 80.0h0M117.4 84.3h0M73.2 79.5h0M70.2 85.1h0M121.9 81.0h0M91.7 83.3h0M104.7 69.0h0M99.8 86.0h0M73.2 81.7h0M80.9 76.2h0M105.2 78.1h0M97.0 74.3h0M86.3 77.1h0M112.4 77.2h0M103.6 72.8h0M78.5 82.2h0M84.0 75.4h0M91.9 83.8h0M80.1 86.3h0M81.9 81.5h0M99.1 77.0h0M78.2 83.4h0M80.2 81.5h0M106.3 79.1h0M95.9 74.4h0M81.6 77.9h0M117.2 84.2h0M93.3 75.7h0M71.9 83.0h0M79.0 78.7h0M78.1 82.1h0M110.0 78.7h0M86.8 80.2h0M77.3 81.0h0M114.8 70.3h0M83.9 80.1h0M100.7 84.7h0M80.5 86.3h0M91.6 78.6h0M82.3 71.8h0M89.0 75.4h0M89.0 83.9h0M94.2 75.6h0M70.0 80.6h0M97.8 84.6h0M72.8 84.7h0M95.6 83.6h0M95.0 69.2h0M108.4 78.1h0M113.1 81.0h0M83.8 85.9h0M81.5 78.9h0M107.1 86.2h0M100.4 84.7h0M86.1 74.6h0M103.0 75.4h0M98.5 76.9h0M95.1 74.6h0M91.6 81.1h0M91.7 82.5h0M110.4 74.6h0M100.3 68.5h0M95.1 73.1h0M98.6 81.1h0M88.0 76.0h0M82.3 78.0h0M88.3 86.1h0M122.2 84.4h0M89.7 76.9h0M70.4 81.5h0M89.4 76.2h0M98.0 77.5h0M107.0 80.7h0M88.2 75.4h0M88.0 86.4h0M100.2 73.8h0M107.5 77.8h0M117.1 78.5h0M99.7 76.6h0M70.2 83.2h0M83.7 78.5h0M105.4 73.3h0M77.1 86.1h0M96.3 82.7h0M84.4 83.1h0M101.0 78.6h0M91.2 81.2h0M90.2 76.5h0M91.0 80.1h0M78.1 85.1h0M93.5 79.8h0M112.8 87.1h0M99.5 77.6h0M83.2 80.4h0M72.3 80.6h0M113.6 84.1h0M80.6 84.9h0M101.0 79.4h0M98.8 71.7h0M97.8 84.3h0M95.8 86.7h0M76.1 80.9h0M81.8 76.4h0M83.2 85.1h0M78.4 78.9h0M86.4 85.0h0M86.9 82.6h0M99.2 79.8h0M84.9 83.4h0M94.4 77.5h0M84.8 84.9h0M85.3 79.8h0M69.9 85.5h0M110.3 85.6h0M103.0 77.6h0M94.8 84.6h0M98.2 81.1h0M88.6 81.9h0M103.3 79.0h0M77.8 80.3h0M118.3 78.4h0M111.0 72.5h0M110.5 79.8h0M91.8 76.9h0M101.0 79.0h0M81.8 75.8h0M107.4 73.2h0M106.8 75.1h0M83.1 78.5h0M92.6 78.7h0M95.6 84.9h0M121.1 75.5h0M116.7 81.8h0M102.5 81.0h0M99.9 76.4h0M78.4 80.9h0M96.8 79.8h0M104.9 77.0h0M90.0 76.0h0M89.8 86.5h0M104.8 76.0h0M97.0 81.9h0M98.0 86.8h0M96.0 70.5h0M87.6 72.2h0M95.7 81.2h0M79.2 80.1h0M74.2 82.3h0M114.2 75.1h0M100.1 82.6h0M114.4 77.0h0M82.6 86.4h0M122.1 68.3h0M105.1 79.4h0M102.5 75.3h0M101.7 79.5h0M107.6 81.1h0M89.4 74.1h0M89.0 80.4h0M106.0 74.6h0M102.4 80.3h0M120.8 71.0h0M95.5 83.5h0M100.9 75.2h0M90.0 73.1h0M99.5 85.0h0M87.2 76.1h0M91.5 75.4h0M82.6 80.7h0M92.0 83.6h0M81.9 80.3h0M106.2 81.8h0M97.4 84.4h0M126.9 74.4h0M105.8 74.1h0M110.6 88.5h0M126.5 71.7h0M114.3 82.6h0M128.2 77.4h0M116.8 83.5h0M117.1 74.6h0M112.4 81.1h0M118.9 66.1h0M113.9 82.7h0M120.9 86.4h0M111.9 80.9h0M125.6 82.7h0M107.0 70.5h0M121.3 76.6h0M102.7 75.5h0M129.0 75.2h0M111.2 71.1h0M112.2 87.0h0M113.8 78.0h0M117.4 73.0h0M104.9 87.6h0M102.6 67.2h0M122.2 71.8h0M116.4 66.7h0M115.9 80.3h0M119.4 81.2h0M110.3 70.2h0M105.9 71.4h0M111.0 69.3h0M97.7 65.9h0M122.4 75.1h0M132.7 72.9h0M116.8 76.9h0M106.5 72.5h0M97.4 84.2h0M131.8 67.5h0M120.5 81.2h0M109.6 84.9h0M97.7 71.9h0M118.6 74.4h0M108.7 79.3h0M113.8 70.4h0M120.2 78.1h0M125.2 71.8h0M115.0 70.3h0M130.7 82.5h0M105.7 81.3h0M123.2 90.0h0M89.5 75.6h0M120.2 80.6h0M110.2 86.6h0M128.5 84.5h0M109.8 81.1h0M108.1 77.5h0M111.9 92.2h0M110.4 82.1h0M117.7 78.7h0M114.9 76.4h0M122.3 74.5h0M123.9 82.7h0M112.9 85.6h0M114.8 86.9h0M132.5 75.1h0M120.6 91.3h0M128.3 70.9h0M125.9 76.4h0M133.7 77.2h0M112.2 84.3h0M119.0 78.0h0M111.7 85.1h0M99.2 84.4h0M101.4 78.3h0M108.5 82.1h0M120.5 85.8h0M124.2 77.2h0M102.4 77.0h0M119.0 75.7h0M120.0 88.1h0M116.0 68.5h0M105.5 79.5h0M118.8 78.7h0M118.6 80.6h0M129.7 70.8h0M117.1 79.6h0M119.8 81.3h0M104.1 90.4h0M114.6 84.0h0M98.1 84.4h0M119.8 70.3h0M123.6 80.8h0M108.4 74.6h0M105.3 86.2h0M114.9 73.7h0M122.4 77.4h0M111.6 72.4h0M122.6 73.7h0M104.3 83.1h0M119.0 71.1h0M136.5 73.7h0M99.7 75.9h0M125.9 64.6h0M123.2 86.8h0M111.9 87.3h0M119.3 67.9h0M133.3 82.7h0M119.9 76.4h0M102.9 83.4h0M119.7 69.8h0M91.2 79.6h0M111.8 77.1h0M118.2 88.9h0M103.9 79.4h0M127.1 72.8h0M136.6 73.1h0M121.5 76.5h0M107.4 80.6h0M127.4 79.3h0M134.0 74.0h0M106.0 72.5h0M124.3 75.7h0M114.3 77.8h0M124.4 79.0h0M104.5 82.5h0M107.7 80.7h0M109.8 89.0h0M111.7 86.9h0M124.7 77.1h0M102.9 83.7h0M109.3 85.8h0M93.5 83.1h0M117.6 79.7h0M106.7 72.8h0M115.5 93.5h0M115.4 62.6h0M114.9 77.3h0M109.7 68.0h0M120.1 82.2h0M103.6 76.9h0M99.1 91.1h0M117.2 74.0h0M110.8 60.0h0M101.5 85.7h0M112.5 71.9h0M107.5 72.4h0M127.1 66.9h0M120.4 79.0h0M119.5 78.1h0M131.6 71.9h0M114.1 85.7h0M112.8 83.2h0M119.7 66.0h0M114.8 77.1h0M119.9 72.4h0M112.1 60.0h0M110.8 58.5h0M109.3 75.6h0M113.4 62.9h0M101.5 69.3h0M97.6 82.7h0M128.4 67.7h0M122.0 75.8h0M125.2 83.1h0M121.5 67.2h0M131.0 73.4h0M111.2 76.5h0M137.2 66.9h0M98.4 70.7h0M131.5 77.3h0M132.0 83.1h0M106.4 62.3h0M88.4 75.3h0M140.2 76.0h0M124.1 89.8h0M132.3 76.3h0M113.3 61.4h0M108.0 67.7h0M121.6 71.2h0M132.7 66.4h0M276.8 33.6h0M287.2 39.0h0M281.9 33.8h0M298.8 42.8h0M289.5 34.4h0M286.3 43.6h0M262.7 35.7h0M265.4 48.4h0M285.6 31.4h0M288.7 45.2h0M272.7 37.9h0M268.8 44.9h0M297.8 38.7h0M281.7 42.9h0M301.6 41.4h0M276.4 33.0h0M279.0 22.8h0M302.9 41.4h0M277.6 33.6h0M281.3 38.4h0M289.8 32.9h0M289.0 47.3h0M276.2 31.8h0M271.4 28.1h0M295.9 31.1h0M280.4 38.0h0M295.2 39.5h0M283.0 35.0h0M288.3 37.1h0M278.2 29.8h0M278.5 30.1h0M274.3 28.7h0M291.8 19.5h0M280.0 30.0h0M277.7 36.8h0M273.2 36.4h0M285.3 33.4h0M278.0 40.0h0M286.1 26.2h0M299.9 43.3h0M278.7 21.0h0M283.3 28.7h0M272.5 37.4h0M276.7 46.8h0M278.6 39.7h0M286.1 32.3h0M291.6 23.2h0M291.8 41.3h0M276.1 34.8h0M283.2 38.7h0M308.2 30.1h0M274.7 46.5h0M274.0 34.0h0M292.4 38.4h0M275.1 32.2h0M288.0 37.0h0M288.6 44.4h0M267.2 39.7h0M281.6 41.4h0M282.9 39.9h0M305.2 44.2h0M285.8 31.4h0M300.6 29.8h0M297.1 51.2h0M293.0 31.7h0M271.3 31.3h0M272.8 35.6h0M261.9 36.1h0M268.6 40.6h0M288.4 39.5h0M281.2 45.6h0M292.5 27.3h0M274.0 28.2h0M264.2 43.2h0M264.0 43.1h0M296.0 45.7h0M270.9 43.6h0M292.9 35.2h0M256.6 37.3h0M274.9 46.6h0M277.5 37.2h0M289.5 20.1h0M292.6 41.5h0M278.9 36.2h0M278.1 36.9h0M280.7 39.3h0M282.0 34.6h0M281.8 34.3h0M288.5 32.8h0M289.6 26.5h0M291.6 41.8h0M293.8 42.2h0M286.3 37.4h0M293.3 44.8h0M284.6 46.9h0M292.1 26.5h0M288.2 20.2h0M285.4 40.5h0M286.6 43.2h0M293.1 54.4h0M291.2 34.8h0M288.1 53.8h0M280.0 33.0h0M301.1 32.1h0M286.5 27.5h0M277.1 34.7h0M278.2 23.8h0M297.2 34.8h0M265.5 52.6h0M279.5 33.2h0M297.5 39.0h0M301.9 30.6h0M278.6 49.8h0M266.8 47.9h0M279.6 46.2h0M283.3 43.8h0M280.0 38.3h0M301.1 29.1h0M298.8 26.8h0M283.4 47.8h0M263.8 40.5h0M283.8 45.3h0M299.4 33.2h0M282.2 40.1h0M283.2 44.1h0M278.0 40.8h0M288.0 33.3h0M280.1 29.5h0M276.7 16.6h0M292.6 45.1h0M307.6 46.1h0M289.5 35.8h0M295.3 42.0h0M288.6 38.1h0M285.2 46.2h0M277.4 39.5h0M283.1 40.2h0M279.8 32.3h0M273.9 36.5h0M284.7 36.9h0M302.1 35.8h0M287.9 30.9h0M313.2 39.3h0M292.9 64.1h0M290.1 32.4h0M263.1 44.5h0M298.7 42.2h0M290.3 29.2h0M281.9 29.8h0M274.6 32.5h0M289.5 46.9h0M264.4 40.7h0M271.4 29.7h0M285.3 70.6h0M304.1 45.1h0M286.6 25.8h0M290.3 16.6h0M296.0 23.8h0M288.1 55.4h0M319.8 36.4h0M279.9 36.0h0M283.5 31.7h0M280.2 50.8h0M285.3 63.0h0M289.6 60.4h0M291.2 37.3h0M293.5 39.1h0M313.5 51.5h0M307.1 25.1h0M275.1 35.3h0M274.4 50.5h0M298.0 37.7h0M294.9 63.9h0M285.8 51.3h0M289.2 34.0h0M276.3 40.2h0M309.3 37.5h0M293.4 35.2h0M283.1 48.5h0M318.3 37.4h0M275.3 61.1h0M276.2 40.6h0M282.2 41.2h0M286.3 65.9h0M272.7 35.1h0M271.8 45.4h0M297.5 49.1h0M326.6 63.7h0M291.8 48.7h0M267.5 32.5h0M305.9 72.6h0M289.7 67.0h0M303.8 62.3h0M264.3 27.2h0M303.8 38.6h0M295.2 45.7h0M314.7 58.9h0M283.6 54.9h0M307.0 53.7h0M321.1 53.8h0M295.2 48.8h0M286.1 15.5h0M289.2 59.9h0M323.6 53.0h0M296.9 73.6h0M290.7 60.2h0M274.8 29.3h0M309.5 73.3h0M296.3 18.2h0M312.5 34.3h0M295.3 51.3h0M265.0 38.6h0M283.3 63.3h0M265.7 18.6h0M269.9 8.5h0M309.9 32.5h0M295.2 58.7h0M291.0 61.5h0M275.0 38.1h0M295.2 47.4h0M266.9 62.1h0M248.8 50.1h0M309.7 27.0h0M274.1 76.1h0M274.1 55.2h0M284.1 52.9h0M286.7 47.5h0M283.7 34.1h0M313.3 31.4h0M289.4 31.6h0M299.5 25.6h0M285.0 40.6h0M275.5 37.6h0M277.8 44.5h0M294.6 64.3h0M253.2 54.8h0M282.5 64.1h0M288.7 52.7h0M284.6 18.5h0M302.8 49.0h0M321.8 33.9h0M271.3 75.6h0M267.4 30.2h0M261.4 19.3h0M262.1 57.6h0M281.3 59.3h0M303.6 54.2h0M296.5 31.5h0M276.0 58.0h0M267.6 45.3h0M298.4 29.5h0M303.8 58.3h0M294.0 59.8h0M291.8 72.6h0M300.4 75.8h0M317.5 56.1h0M279.2 36.7h0M302.2 50.7h0M309.7 60.2h0M309.7 38.1h0M306.4 56.7h0M276.4 48.0h0M395.9 57.6h0M411.6 45.7h0M407.4 62.0h0M389.5 52.9h0M382.6 57.9h0M391.6 51.4h0M402.6 61.3h0M397.1 66.6h0M400.0 52.8h0M411.6 69.9h0M413.7 65.8h0M391.6 58.5h0M408.4 52.4h0M392.8 59.8h0M391.3 65.9h0M412.1 47.9h0M412.9 53.0h0M398.1 56.5h0M393.6 48.0h0M414.8 57.9h0M412.4 55.0h0M401.5 42.5h0M424.8 57.7h0M427.8 48.7h0M415.4 49.1h0M417.7 62.6h0M408.4 41.9h0M412.6 61.7h0M416.2 42.8h0M409.8 62.5h0M386.9 52.4h0M402.9 63.8h0M401.0 38.7h0M405.7 48.2h0M396.8 49.1h0M389.8 35.6h0M415.9 62.7h0M388.2 39.6h0M409.6 40.1h0M408.7 64.4h0M397.4 74.1h0M385.4 53.5h0M392.5 60.2h0M396.6 50.9h0M397.8 69.8h0M401.8 52.1h0M408.0 55.6h0M427.2 64.2h0M418.6 61.5h0M391.8 54.7h0M395.4 50.9h0M406.4 70.4h0M398.0 59.1h0M405.0 74.1h0M408.0 53.1h0M392.8 45.9h0M399.9 49.2h0M395.6 52.5h0M412.4 50.8h0M397.8 56.7h0M403.2 60.0h0M392.9 61.0h0M404.1 62.7h0M407.0 53.6h0M402.0 50.5h0M392.2 50.6h0M407.6 54.6h0M418.3 69.7h0M416.2 74.7h0M410.7 72.5h0M399.7 36.4h0M412.0 42.9h0M406.3 48.0h0M406.5 53.0h0M398.0 58.6h0M405.1 54.7h0M390.3 43.0h0M418.9 59.6h0M401.4 54.8h0M415.1 59.3h0M406.6 59.9h0M418.4 64.3h0M408.3 58.9h0M402.5 55.5h0M396.3 69.1h0M413.3 50.7h0M400.5 60.2h0M394.4 43.3h0M410.3 59.7h0M406.2 58.0h0M398.1 52.0h0M410.1 61.0h0M392.9 63.5h0M391.3 49.5h0M414.1 55.8h0M410.0 37.2h0M392.3 46.8h0M418.2 52.0h0M431.7 60.9h0M408.2 50.9h0M394.2 54.1h0M401.8 62.5h0M391.2 58.5h0M387.0 53.8h0M385.9 60.7h0M415.5 64.8h0M423.8 72.2h0M408.8 61.9h0M424.1 47.8h0M390.9 56.4h0M393.3 56.9h0M401.5 57.0h0M402.6 50.6h0M386.2 60.5h0M399.2 57.5h0M399.6 60.2h0M421.9 51.5h0M418.1 48.2h0M407.2 47.3h0M411.3 56.8h0M403.5 58.1h0M394.7 67.3h0M396.3 55.8h0M396.2 64.2h0M388.4 51.6h0M392.0 53.5h0M411.2 38.8h0M400.3 64.0h0M399.1 42.5h0M412.2 51.7h0M400.7 43.5h0M410.9 54.7h0M387.8 54.1h0M403.6 44.7h0M406.5 53.3h0M411.6 51.5h0M406.3 45.6h0M400.3 63.0h0M397.9 55.1h0M381.1 57.5h0M417.2 53.0h0M387.4 47.0h0M412.3 72.3h0M393.0 59.9h0M404.3 49.8h0M410.8 61.6h0M407.5 62.7h0M393.1 64.1h0M413.2 55.7h0M400.3 52.2h0M400.0 52.3h0M412.9 56.8h0M396.1 66.5h0M390.1 49.2h0M416.3 58.3h0M413.7 56.4h0M399.4 49.4h0M381.3 50.3h0M396.4 37.6h0M401.2 64.2h0M380.9 64.9h0M419.4 82.2h0M400.4 69.0h0M402.0 66.0h0M408.1 60.0h0M412.0 64.7h0M409.8 73.9h0M411.7 84.8h0M411.0 83.0h0M402.5 77.8h0M406.2 89.2h0M401.8 81.3h0M414.7 67.4h0M411.0 74.1h0M391.4 64.0h0M409.6 60.1h0M394.2 74.5h0M410.1 77.3h0M407.9 63.5h0M411.0 66.9h0M415.6 86.7h0M397.4 70.8h0M402.7 83.9h0M385.0 73.8h0M410.7 73.3h0M399.6 80.6h0M415.5 72.0h0M415.9 76.8h0M398.7 53.5h0M405.7 72.7h0M424.2 61.0h0M399.7 72.6h0M405.1 82.3h0M397.5 88.3h0M406.3 54.6h0M417.5 71.1h0M409.0 81.5h0M420.4 82.4h0M416.7 72.8h0M404.2 90.3h0M392.4 71.5h0M402.3 65.2h0M387.8 81.5h0M406.5 96.6h0M435.1 63.4h0M409.7 75.2h0M394.0 65.9h0M393.6 65.5h0M415.9 79.7h0M413.8 73.0h0M408.0 73.5h0M411.7 76.2h0M401.9 69.0h0M404.0 69.7h0M424.5 74.2h0M396.3 65.8h0M407.2 74.6h0M410.3 71.9h0M69.8 278.5h0M81.6 244.9h0M95.1 253.7h0M83.2 236.0h0M78.8 237.8h0M83.0 257.1h0M99.6 246.4h0M72.9 254.0h0M93.2 241.9h0M77.5 250.0h0M95.3 237.4h0M96.8 230.7h0M86.1 240.7h0M69.8 244.3h0M74.7 243.1h0M70.7 237.6h0M77.0 250.2h0M78.9 246.0h0M85.8 261.4h0M56.7 245.2h0M116.9 241.3h0M93.2 230.5h0M70.5 227.6h0M96.3 253.0h0M76.5 238.6h0M91.6 252.9h0M74.4 265.1h0M95.3 249.0h0M81.3 265.4h0M78.9 243.8h0M88.5 234.7h0M67.5 240.2h0M68.6 257.9h0M55.1 274.9h0M59.0 233.8h0M75.5 248.5h0M60.1 247.1h0M68.7 253.0h0M87.0 248.6h0M64.0 252.8h0M84.0 247.4h0M95.9 226.4h0M66.0 244.1h0M77.7 253.3h0M70.2 262.0h0M105.8 250.0h0M74.5 243.0h0M61.2 279.3h0M69.8 271.8h0M58.0 245.5h0M98.1 243.8h0M68.8 249.4h0M89.8 263.8h0M66.8 246.7h0M55.1 264.5h0M95.0 235.3h0M66.2 268.4h0M78.3 259.0h0M74.5 233.5h0M82.2 253.8h0M72.9 245.4h0M99.4 241.8h0M251.7 279.1h0M232.9 273.8h0M203.4 285.1h0M214.1 295.5h0M212.1 275.1h0M246.4 293.1h0M246.9 295.0h0M239.6 270.1h0M217.6 289.8h0M237.0 265.5h0M216.9 280.6h0M234.6 276.0h0M214.8 294.6h0M229.5 277.6h0M239.5 269.6h0M217.0 304.1h0M229.8 272.4h0M227.2 282.7h0M222.9 281.1h0M261.3 292.4h0M215.4 290.0h0M226.4 293.9h0M233.5 296.9h0M229.9 282.5h0M232.2 278.6h0M209.0 292.4h0M238.2 293.1h0M239.4 283.0h0M237.1 304.8h0M249.9 298.6h0M236.1 287.4h0M230.6 253.5h0M222.0 296.9h0M216.7 287.0h0M239.4 268.9h0M227.5 296.6h0M240.6 305.2h0M226.0 274.8h0M237.0 290.3h0M229.5 282.4h0M236.6 291.7h0M218.5 293.5h0M245.1 294.6h0M238.8 279.3h0M244.1 285.2h0M244.3 293.3h0M243.8 277.4h0M242.9 284.2h0M235.1 296.8h0M228.2 284.5h0M235.7 285.9h0M209.6 297.6h0M233.1 280.2h0M235.3 273.2h0M230.9 290.5h0M227.3 274.1h0M235.5 284.8h0M243.5 273.9h0M218.0 283.7h0M240.8 280.5h0M234.3 285.0h0M230.4 278.7h0M213.9 287.6h0M234.6 267.4h0M222.7 285.6h0M227.6 287.3h0M218.7 291.8h0M238.1 299.4h0M230.2 284.6h0M236.8 271.1h0M226.4 281.6h0M235.7 296.4h0M226.0 282.6h0M239.6 295.9h0M240.6 282.3h0M235.0 271.0h0M240.5 280.1h0M255.5 273.2h0M222.1 273.0h0M222.6 276.8h0M239.0 297.5h0M218.7 276.6h0M230.6 277.6h0M223.8 276.1h0M222.6 296.8h0M227.5 293.1h0M235.4 264.5h0M209.7 284.9h0M205.0 275.2h0M225.5 293.4h0M203.7 286.2h0M232.6 286.2h0M230.1 277.8h0M220.8 284.8h0M248.3 291.2h0M225.6 295.9h0M243.7 278.1h0M224.8 291.8h0M235.3 285.6h0M238.3 286.3h0M227.4 280.4h0M219.5 281.6h0M227.7 294.4h0M214.4 292.0h0M227.5 305.4h0M233.0 274.8h0M221.9 293.6h0M230.2 286.3h0M238.1 276.8h0M226.2 272.6h0M233.0 272.4h0M244.9 272.2h0M208.9 278.1h0M236.9 263.7h0M241.4 274.7h0M244.2 294.5h0M246.0 294.7h0M249.4 273.3h0M244.5 270.7h0M234.4 290.2h0M217.7 276.9h0M244.5 283.8h0M221.7 284.5h0M228.5 282.2h0M232.9 275.7h0M240.4 302.3h0M234.8 278.5h0M225.6 293.8h0M251.9 289.6h0M228.0 273.2h0M229.3 270.9h0M242.1 270.3h0M207.6 259.0h0M223.8 281.4h0M228.8 297.2h0M234.4 285.7h0M228.4 295.1h0M237.2 286.4h0M224.9 281.1h0M225.5 277.8h0M224.9 294.0h0M260.2 270.8h0M260.5 269.8h0M246.9 293.7h0M235.6 263.3h0M231.4 271.6h0M235.3 273.2h0M236.7 264.2h0M234.6 278.3h0M236.6 279.0h0M229.0 289.0h0M243.9 273.6h0M222.8 264.4h0M221.8 287.2h0M207.4 272.8h0M236.5 302.6h0M230.2 286.2h0M240.0 275.6h0M218.8 255.8h0M225.3 272.6h0M224.7 281.8h0M237.0 297.9h0M435.2 279.3h0M444.5 295.0h0M439.9 308.7h0M445.1 283.7h0M428.8 298.8h0M446.5 297.2h0M444.7 298.4h0M449.2 301.3h0M434.8 283.7h0M439.5 269.3h0M437.9 294.0h0M433.5 273.8h0M440.9 300.5h0M434.6 292.6h0M437.7 266.8h0M441.5 293.6h0M435.6 285.7h0M447.8 285.7h0M434.1 273.1h0M447.6 301.6h0M430.3 282.9h0M436.7 290.6h0M440.2 277.3h0M435.5 294.6h0M436.7 292.0h0M444.6 288.1h0M450.3 277.8h0M448.9 305.1h0M452.7 290.8h0M439.4 286.7h0M437.3 287.6h0M439.5 300.2h0M436.1 292.9h0M441.0 274.5h0M447.2 293.2h0M447.3 277.5h0M448.7 289.3h0M436.3 283.5h0M439.9 298.3h0M441.5 289.3h0M444.4 286.5h0M437.1 290.5h0M442.6 304.0h0M448.6 278.3h0M438.0 288.9h0M438.3 281.6h0M445.3 282.4h0M435.8 312.6h0M435.5 286.0h0M444.2 294.2h0M445.8 274.5h0M438.8 305.4h0M449.6 313.9h0M439.0 287.8h0M442.7 291.8h0M433.4 293.9h0M448.1 295.4h0M443.8 295.9h0M443.7 291.8h0M435.6 274.2h0M440.9 295.2h0M439.3 282.4h0M436.7 284.8h0M442.4 298.4h0M440.6 291.3h0M433.1 288.1h0M439.3 303.5h0M440.6 299.1h0M450.4 303.1h0M438.0 283.9h0M435.1 290.1h0M437.8 288.9h0M434.1 295.0h0M440.5 303.2h0M446.1 295.9h0M433.5 278.0h0M439.9 285.8h0M439.3 263.5h0M445.9 305.0h0M436.1 299.3h0M451.6 268.9h0M434.1 296.2h0M436.6 283.5h0M435.7 278.1h0M438.8 296.5h0M444.2 284.8h0M442.0 283.3h0M437.6 298.7h0M454.0 295.0h0M433.9 269.7h0M435.7 300.1h0M426.1 305.7h0M444.4 308.8h0M440.3 300.8h0M444.0 298.8h0M434.8 310.2h0M425.4 289.2h0M435.8 293.4h0M441.1 310.6h0M444.0 300.9h0M443.8 287.5h0M450.0 298.0h0M441.0 288.7h0M438.1 310.8h0M429.2 286.3h0M443.9 293.0h0M426.8 285.5h0M441.7 288.9h0M439.3 296.4h0M429.5 258.1h0M436.0 292.5h0M447.7 304.2h0M437.5 281.8h0M435.9 297.9h0M451.0 284.3h0M428.6 286.4h0M438.6 291.9h0M447.5 297.8h0M439.7 285.9h0M445.2 302.8h0M440.0 274.3h0M452.6 309.5h0M435.3 289.0h0M433.4 293.0h0M439.1 299.4h0M441.5 290.6h0M445.5 298.0h0M448.0 297.5h0M444.4 300.1h0M437.7 285.1h0M441.8 297.4h0M434.9 288.2h0M438.7 292.1h0M442.5 291.6h0M443.8 280.0h0M445.3 291.1h0M440.7 299.2h0M446.5 280.6h0M438.0 302.5h0M444.5 299.5h0M435.7 291.6h0M442.1 297.4h0M447.6 293.5h0M436.1 299.5h0M439.1 293.0h0M438.7 289.4h0M440.0 289.9h0M437.8 296.8h0M442.2 300.3h0M441.6 300.0h0M437.5 290.5h0M437.1 287.6h0M446.5 295.0h0M440.1 283.9h0M421.5 296.7h0M439.3 296.7h0M437.7 291.5h0M440.2 292.3h0M426.1 270.9h0M431.0 275.0h0M432.3 294.3h0M432.8 301.4h0M435.6 276.9h0M449.4 245.3h0M440.6 303.4h0M436.7 293.4h0M447.5 283.1h0M443.8 296.9h0M447.6 272.1h0M434.5 283.0h0M447.0 275.2h0M442.9 312.4h0M441.8 282.0h0M436.9 301.3h0M432.1 282.5h0M437.3 299.9h0M446.1 291.5h0M437.2 283.1h0M447.9 269.2h0M447.1 290.8h0M432.8 300.7h0M439.6 295.9h0M453.0 304.6h0M447.9 291.4h0M432.1 279.7h0M429.8 303.7h0M441.7 274.8h0M446.1 295.1h0M432.1 306.1h0M436.7 313.3h0M434.9 291.9h0M439.4 309.8h0M437.9 286.9h0M446.9 300.3h0M440.6 286.1h0M441.0 289.4h0M445.4 290.6h0M447.9 285.9h0M439.8 290.8h0M449.7 304.9h0M443.7 298.3h0M443.1 289.1h0M443.2 304.0h0M439.2 289.6h0M453.7 277.3h0M439.7 291.9h0M440.0 284.2h0M440.6 306.4h0M445.7 290.9h0M435.9 291.5h0M441.8 290.3h0M447.2 278.7h0M442.5 282.4h0M440.3 262.8h0M441.1 288.9h0M446.6 296.7h0"/>
<path fill="none" stroke="#16168a" stroke-width="1.6" stroke-linecap="square" d="M64.5 97.2h0M80.6 91.0h0M69.1 89.2h0M82.8 101.4h0M74.1 97.2h0M91.5 102.1h0M55.7 91.6h0M62.7 88.6h0M69.4 97.3h0M88.8 99.0h0M87.8 100.3h0M52.5 95.0h0M93.7 100.9h0M58.4 102.8h0M78.6 94.7h0M76.6 87.3h0M83.6 106.7h0M79.5 92.1h0M78.0 100.7h0M65.5 86.6h0M80.2 99.0h0M79.8 101.6h0M52.8 97.8h0M76.9 94.6h0M83.2 92.7h0M79.3 96.9h0M59.9 94.4h0M237.6 33.4h0M250.8 42.5h0M232.6 41.5h0M222.2 54.5h0M233.0 35.8h0M244.9 43.6h0M238.4 55.3h0M247.0 52.6h0M243.8 50.7h0M245.4 25.3h0M250.2 49.9h0M233.1 40.9h0M253.0 30.2h0M231.8 55.2h0M247.2 49.5h0M229.2 36.6h0M214.5 43.5h0M223.9 40.0h0M228.3 60.5h0M218.4 41.8h0M232.4 50.9h0M220.8 48.6h0M228.7 45.2h0M226.9 48.3h0M230.0 33.0h0M238.3 37.6h0M210.0 136.0h0M282.1 137.1h0M248.7 111.4h0M465.0 127.7h0M462.2 114.1h0M458.6 113.5h0M468.7 107.8h0M457.0 114.8h0M472.2 111.3h0M461.1 115.8h0M463.4 108.3h0M463.9 112.8h0M453.7 116.5h0M462.8 108.3h0M461.5 114.7h0M467.4 57.1h0M469.9 106.9h0M479.2 71.5h0M109.7 227.2h0M98.5 234.9h0M99.7 227.8h0M79.6 231.7h0M95.3 229.7h0M88.6 221.4h0M106.4 222.4h0M97.1 228.7h0M92.5 231.2h0M91.1 230.5h0M100.5 234.1h0M105.8 220.2h0M94.0 234.2h0M94.8 217.3h0M92.7 226.1h0M84.3 210.9h0M86.2 218.0h0M83.6 218.5h0M84.6 219.1h0M95.9 203.1h0M88.2 210.3h0M104.0 219.6h0M96.8 209.3h0M88.5 214.7h0M101.0 202.7h0M95.1 227.8h0M85.1 226.8h0M96.7 212.5h0M88.4 217.3h0M80.5 210.8h0M101.6 209.4h0M86.5 231.9h0M77.8 219.4h0M66.7 231.1h0M92.9 225.7h0M85.9 228.2h0M91.3 221.6h0M293.2 303.7h0M304.1 287.6h0M292.0 308.7h0M291.9 282.0h0M282.4 293.2h0M283.4 305.9h0M293.2 285.5h0M293.2 306.5h0M285.3 291.8h0M285.7 288.1h0M294.3 295.3h0M291.1 295.0h0M300.3 297.3h0M277.9 290.8h0M293.6 301.7h0M290.4 272.4h0M287.0 293.6h0M286.9 305.3h0M297.3 289.1h0M295.6 293.8h0M294.3 306.2h0M297.2 307.6h0M291.9 297.2h0M287.5 305.0h0M296.3 288.6h0M285.2 282.9h0M286.6 286.1h0M300.6 303.4h0M288.9 307.1h0M291.9 293.2h0M291.7 309.0h0M289.5 301.9h0M294.0 275.7h0M287.4 283.7h0M294.8 261.2h0M289.6 292.7h0M295.3 270.4h0M288.3 284.6h0M289.1 272.6h0"/>
<path fill="none" stroke="#2222cc" stroke-width="1.6" stroke-linecap="square" d="M81.8 104.4h0M72.9 91.2h0M71.0 100.2h0M79.0 96.5h0M94.1 91.2h0M66.8 99.1h0M77.2 94.1h0M88.7 98.7h0M84.1 93.8h0M71.6 103.7h0M76.4 89.4h0M69.6 100.4h0M84.0 102.0h0M78.7 93.1h0M67.9 92.3h0M74.0 91.4h0M69.8 102.1h0M89.9 99.3h0M76.1 91.1h0M92.3 91.0h0M72.4 96.2h0M91.5 92.5h0M81.2 97.8h0M90.6 95.8h0M84.3 101.5h0M56.6 100.3h0M61.0 96.3h0M76.2 92.3h0M80.0 97.9h0M73.1 96.3h0M84.3 89.1h0M72.5 99.2h0M91.5 92.3h0M95.2 101.7h0M74.1 92.7h0M71.2 99.1h0M79.4 100.6h0M86.3 95.0h0M81.3 92.7h0M82.9 95.4h0M84.7 98.9h0M80.7 94.6h0M83.1 93.1h0M83.0 93.3h0M70.7 96.0h0M76.7 93.0h0M69.6 102.1h0M82.1 96.6h0M89.9 93.8h0M93.2 103.7h0M83.7 96.1h0M90.8 102.0h0M73.9 93.3h0M65.8 96.3h0M80.8 95.9h0M88.3 95.2h0M69.4 93.5h0M77.9 100.2h0M89.4 104.5h0M93.3 101.8h0M86.9 99.0h0M90.6 95.0h0M95.0 103.0h0M95.0 96.6h0M79.5 93.6h0M81.4 96.2h0M85.6 97.2h0M81.6 101.4h0M60.5 105.4h0M81.0 91.5h0M76.2 96.2h0M95.5 95.2h0M89.7 99.2h0M83.5 97.2h0M66.7 102.0h0M70.5 93.4h0M81.8 93.4h0M85.9 97.5h0M77.5 100.2h0M86.2 95.6h0M82.7 95.5h0M59.5 94.0h0M80.6 95.8h0M84.7 88.7h0M94.5 94.3h0M76.1 97.0h0M50.1 103.8h0M89.1 101.6h0M85.5 94.2h0M66.8 102.1h0M69.8 104.8h0M89.6 97.3h0M81.3 95.6h0M81.0 88.0h0M69.8 92.6h0M81.3 97.4h0M80.6 93.5h0M74.6 104.2h0M74.8 97.7h0M71.1 101.7h0M84.9 90.1h0M75.4 90.3h0M89.0 97.9h0M80.0 98.2h0M84.5 100.1h0M67.5 90.3h0M76.6 92.8h0M79.0 97.6h0M81.2 99.8h0M83.8 99.7h0M70.7 92.7h0M84.3 91.3h0M66.2 92.8h0M66.9 91.0h0M79.9 93.6h0M80.6 96.0h0M83.7 96.4h0M84.5 97.2h0M61.4 105.3h0M79.4 103.5h0M92.4 98.8h0M75.7 99.4h0M82.9 104.3h0M79.7 102.0h0M85.7 97.6h0M80.9 99.5h0M77.1 96.0h0M67.7 99.6h0M84.7 103.8h0M68.9 101.8h0M64.6 106.0h0M88.5 101.2h0M84.2 92.3h0M70.7 98.9h0M83.0 88.4h0M80.2 94.5h0M75.5 95.4h0M91.1 99.4h0M70.5 95.4h0M87.9 97.8h0M78.0 92.3h0M65.3 100.4h0M77.5 98.1h0M82.4 97.7h0M84.3 103.3h0M76.5 95.1h0M80.0 105.6h0M65.9 93.9h0M73.2 101.5h0M77.0 99.3h0M72.3 95.7h0M83.4 88.7h0M76.6 92.5h0M90.1 89.9h0M90.0 94.4h0M55.0 97.1h0M72.2 96.1h0M85.7 97.6h0M76.2 98.4h0M86.7 99.2h0M77.4 94.2h0M64.1 101.7h0M82.2 94.7h0M74.7 97.3h0M69.5 88.6h0M86.4 102.7h0M83.2 93.7h0M77.4 101.5h0M69.0 91.9h0M75.5 100.6h0M60.1 95.8h0M93.2 105.7h0M84.6 90.8h0M87.8 102.1h0M78.3 100.2h0M86.2 103.3h0M79.1 99.8h0M70.1 88.0h0M75.8 91.1h0M227.0 46.8h0M221.4 56.1h0M241.1 54.8h0M230.0 51.3h0M227.1 58.6h0M206.6 45.6h0M221.1 55.3h0M243.6 49.2h0M224.3 66.4h0M219.8 59.8h0M228.6 51.4h0M228.3 51.6h0M230.5 50.8h0M230.7 55.8h0M230.5 50.7h0M232.0 56.7h0M215.3 52.1h0M219.9 54.9h0M215.8 51.5h0M246.9 40.1h0M233.4 62.1h0M214.4 61.5h0M221.6 52.0h0M232.4 66.1h0M220.4 50.2h0M232.4 59.0h0M223.0 55.7h0M226.6 57.3h0M222.9 56.1h0M233.6 37.1h0M233.4 60.4h0M244.9 45.9h0M223.2 51.7h0M232.8 52.4h0M251.4 51.2h0M227.9 55.8h0M221.0 62.2h0M216.4 61.0h0M228.2 51.4h0M235.6 51.5h0M232.4 60.1h0M225.6 49.3h0M242.9 57.4h0M216.4 58.4h0M224.6 55.1h0M223.5 63.3h0M209.9 56.7h0M242.2 42.4h0M245.5 53.8h0M234.0 56.2h0M235.5 56.1h0M221.9 58.2h0M217.8 55.0h0M221.9 47.4h0M244.2 53.6h0M239.7 49.0h0M229.1 69.3h0M225.5 59.9h0M216.7 49.9h0M241.6 49.7h0M238.1 55.6h0M237.9 56.3h0M230.1 54.5h0M213.0 60.6h0M219.5 66.8h0M229.7 66.5h0M213.0 63.7h0M220.4 67.3h0M223.5 50.5h0M239.4 56.2h0M234.9 54.8h0M233.6 52.0h0M235.3 53.6h0M225.9 65.2h0M225.4 55.8h0M231.1 61.5h0M226.7 52.1h0M244.9 51.9h0M238.2 55.8h0M231.5 55.5h0M221.5 57.7h0M235.5 58.2h0M219.4 50.7h0M215.6 59.6h0M226.7 55.0h0M235.3 46.6h0M230.7 61.2h0M221.7 53.5h0M243.8 55.6h0M232.1 66.4h0M220.4 52.1h0M241.5 53.1h0M232.2 49.3h0M232.4 55.3h0M226.6 48.9h0M247.9 46.7h0M239.5 55.8h0M258.9 41.5h0M254.9 34.5h0M239.0 42.9h0M241.2 56.6h0M256.8 24.2h0M236.1 40.4h0M253.5 53.8h0M234.5 35.5h0M258.1 46.1h0M244.7 39.0h0M250.5 43.8h0M236.8 46.4h0M228.9 45.6h0M235.0 42.2h0M262.4 27.5h0M250.3 41.7h0M234.9 48.1h0M238.4 42.9h0M281.2 31.0h0M235.1 40.7h0M240.9 50.7h0M245.0 45.1h0M246.1 40.5h0M235.0 47.5h0M240.5 48.5h0M249.4 27.7h0M237.4 48.0h0M246.4 37.6h0M223.1 47.8h0M231.9 49.3h0M213.8 34.4h0M240.5 37.7h0M256.6 46.0h0M211.9 56.3h0M252.0 33.5h0M233.7 24.0h0M249.8 39.9h0M248.0 39.1h0M238.3 46.9h0M234.7 52.2h0M242.4 48.1h0M248.8 36.9h0M237.6 47.5h0M254.5 22.5h0M238.3 55.1h0M238.6 51.3h0M245.0 42.9h0M213.1 56.4h0M235.1 39.1h0M256.7 26.7h0M251.5 27.4h0M251.6 35.6h0M253.3 37.3h0M231.0 59.4h0M263.0 35.0h0M254.1 24.7h0M227.4 41.5h0M253.4 31.6h0M253.8 37.4h0M260.3 44.7h0M396.0 57.9h0M395.4 60.4h0M386.5 58.5h0M408.7 55.2h0M403.1 60.3h0M405.8 57.2h0M396.2 59.1h0M388.3 57.7h0M414.8 64.5h0M403.7 53.8h0M403.6 59.4h0M391.8 59.4h0M390.2 63.9h0M398.2 49.0h0M394.4 47.3h0M384.6 62.6h0M391.8 61.0h0M393.8 49.4h0M394.1 69.1h0M398.7 64.9h0M401.9 58.8h0M400.1 65.2h0M394.5 53.3h0M402.5 57.8h0M405.5 63.7h0M398.7 49.5h0M389.4 65.5h0M399.2 52.9h0M406.4 61.9h0M409.2 59.2h0M400.8 60.8h0M395.5 50.5h0M391.1 59.3h0M403.6 47.1h0M391.9 63.1h0M411.7 63.6h0M398.0 55.2h0M395.4 58.2h0M382.7 59.7h0M404.4 64.4h0M392.5 67.2h0M411.7 52.3h0M404.1 49.1h0M400.2 43.2h0M389.3 58.9h0M402.7 62.0h0M418.6 57.1h0M415.1 42.9h0M388.3 54.8h0M398.7 54.6h0M395.8 60.0h0M381.3 50.5h0M393.8 51.4h0M394.1 49.2h0M412.8 45.7h0M394.9 65.8h0M411.6 56.8h0M392.3 66.1h0M398.4 58.2h0M382.1 59.0h0M395.5 68.7h0M407.0 50.7h0M404.1 62.4h0M384.9 63.2h0M402.3 52.4h0M386.7 51.9h0M403.0 54.6h0M405.2 56.6h0M398.2 58.2h0M380.9 55.6h0M401.5 57.4h0M409.1 63.0h0M399.6 77.5h0M384.1 59.8h0M406.4 59.8h0M401.7 65.5h0M403.2 56.4h0M396.2 57.4h0M403.4 54.8h0M463.2 105.3h0M463.0 104.3h0M468.8 99.2h0M465.1 114.6h0M467.4 105.6h0M464.1 103.7h0M468.2 96.8h0M469.0 108.3h0M465.7 100.8h0M461.3 108.1h0M471.5 117.4h0M470.5 106.6h0M464.8 109.0h0M463.5 109.2h0M467.1 124.4h0M461.5 111.1h0M463.4 106.6h0M464.0 104.6h0M471.4 100.0h0M473.7 96.0h0M459.7 123.3h0M458.7 110.5h0M465.0 104.5h0M465.3 118.1h0M462.9 110.4h0M463.3 102.2h0M465.6 110.0h0M469.0 107.4h0M99.9 213.1h0M112.2 216.8h0M113.3 225.2h0M111.5 203.3h0M119.1 216.4h0M100.6 223.5h0M110.7 219.1h0M97.7 225.2h0M112.7 215.5h0M110.3 222.4h0M110.5 215.4h0M94.9 209.2h0M121.1 205.6h0M121.0 208.5h0M105.3 209.2h0M124.5 217.8h0M114.8 216.6h0M95.8 225.2h0M120.7 211.4h0M122.6 206.5h0M114.6 217.0h0M111.3 221.2h0M108.3 222.9h0M101.7 223.4h0M114.0 216.9h0M122.8 214.2h0M122.4 222.0h0M110.0 207.6h0M115.5 207.4h0M128.9 210.2h0M113.4 215.1h0M119.6 218.6h0M123.7 213.6h0M111.6 213.4h0M117.1 222.0h0M117.3 210.5h0M116.6 212.4h0M119.7 203.0h0M112.9 216.4h0M114.6 210.4h0M128.3 210.7h0M109.9 219.1h0M120.6 204.6h0M104.5 222.2h0M111.5 218.3h0M115.9 223.8h0M129.0 215.2h0M104.7 212.8h0M117.3 220.4h0M108.6 214.9h0M118.2 222.0h0M109.7 206.4h0M108.2 222.9h0M129.1 214.7h0M113.9 220.6h0M113.2 218.3h0M121.5 209.8h0M115.3 219.4h0M122.6 213.2h0M120.2 212.0h0M119.9 224.6h0M136.9 218.6h0M107.2 212.4h0M109.2 219.9h0M115.9 214.5h0M108.3 212.5h0M124.4 218.4h0M107.1 216.8h0M116.7 216.6h0M103.8 212.9h0M127.1 205.6h0M135.7 217.4h0M114.5 215.5h0M124.0 217.9h0M111.4 214.1h0M118.3 200.8h0M125.1 209.0h0M125.1 219.8h0M118.8 199.1h0M107.3 221.8h0M112.7 227.8h0M106.4 226.2h0M125.1 223.7h0M105.9 232.8h0M112.1 217.3h0M93.5 214.6h0M111.4 210.4h0M105.5 232.0h0M116.1 214.0h0M139.9 220.2h0M126.2 211.9h0M115.4 210.3h0M134.4 221.9h0M112.6 221.3h0M116.7 218.6h0M131.5 206.2h0M102.8 210.7h0M107.2 206.6h0M117.6 223.3h0M126.5 196.4h0M131.8 212.7h0M112.7 215.0h0M124.2 211.4h0M122.0 221.6h0M121.3 221.9h0M105.6 210.1h0M118.1 213.1h0M111.9 219.0h0M123.6 210.6h0M125.4 227.8h0M112.0 225.0h0M98.9 227.6h0M117.6 221.1h0M133.2 197.0h0M96.6 213.0h0M109.0 223.8h0M112.0 226.3h0M128.3 210.2h0M110.2 226.9h0M132.0 211.8h0M131.7 213.6h0M112.3 211.0h0M109.4 212.4h0M128.1 223.2h0M102.2 229.2h0M118.1 211.9h0M118.6 212.5h0M110.8 222.3h0M120.7 210.2h0M107.9 217.9h0M107.3 212.3h0M98.6 212.3h0M105.7 206.4h0M107.4 211.8h0M111.1 202.7h0M116.9 218.1h0M118.2 214.8h0M120.5 209.9h0M123.7 213.6h0M123.1 216.0h0M122.2 226.2h0M118.9 213.1h0M128.8 208.9h0M109.7 213.0h0M118.7 216.4h0M114.1 207.9h0M123.3 212.0h0M120.6 207.1h0M120.5 215.1h0M109.8 208.5h0M128.2 211.8h0M121.1 215.3h0M109.9 223.5h0M107.4 215.1h0M103.9 198.3h0M125.9 211.8h0M129.2 207.4h0M114.5 223.4h0M111.9 207.7h0M113.0 213.0h0M106.7 225.9h0M119.5 205.8h0M288.0 286.2h0M295.0 280.5h0M289.7 281.8h0M293.2 285.9h0M296.7 282.2h0M297.6 278.7h0M296.6 280.5h0M293.1 287.6h0M296.3 284.5h0M288.8 283.6h0M291.0 283.9h0M290.5 280.2h0M292.4 273.5h0M286.7 276.0h0M288.4 285.3h0M289.8 273.0h0M283.2 279.8h0M299.5 292.0h0M301.0 272.1h0M291.8 288.8h0M289.6 279.4h0M290.3 268.1h0M291.3 278.5h0M299.6 285.7h0M285.5 285.3h0M290.3 284.3h0M289.1 287.6h0M301.2 284.5h0M289.8 279.8h0M292.4 291.4h0M300.1 280.0h0M300.8 274.5h0M297.8 271.3h0M293.4 287.6h0M286.1 280.7h0M282.6 283.5h0M293.7 279.5h0M292.5 279.7h0M293.1 276.8h0M301.1 286.2h0M293.9 268.1h0M295.0 279.5h0M294.9 285.9h0M297.1 271.7h0M306.0 268.7h0M290.8 279.8h0M288.3 276.6h0M282.7 281.4h0M292.2 265.3h0M299.4 274.7h0M291.2 280.7h0M287.0 274.6h0M302.0 283.1h0M290.3 271.4h0M290.2 280.2h0M294.4 285.4h0M291.4 284.3h0M287.3 282.1h0M301.7 280.7h0M296.2 283.9h0M286.5 283.8h0M283.6 286.3h0M286.3 276.6h0M297.8 282.3h0M297.5 281.5h0M283.6 288.7h0M303.4 282.0h0M296.5 275.1h0M289.0 283.4h0M288.0 280.0h0M302.8 284.6h0M291.5 290.0h0M290.0 276.8h0M288.7 287.3h0M289.9 274.9h0M289.0 269.3h0M290.0 276.9h0M292.3 282.8h0M299.3 274.7h0M288.8 285.6h0M295.4 267.9h0M280.3 275.4h0M283.8 273.0h0M288.7 288.0h0M285.8 271.1h0M298.9 282.4h0M298.9 291.9h0M290.7 292.9h0M305.0 276.6h0M292.2 264.7h0M295.2 279.5h0M291.0 287.0h0M286.8 279.9h0M286.5 276.2h0M282.2 276.7h0M298.6 280.5h0M290.7 277.5h0M286.8 272.3h0M296.7 300.5h0M286.7 288.8h0M301.3 279.6h0M300.9 275.7h0M289.2 277.2h0M291.8 272.0h0M282.7 274.3h0M294.4 278.1h0M294.7 267.5h0M293.0 275.3h0M289.0 297.8h0M288.3 277.8h0M290.3 273.4h0M286.2 284.7h0M290.5 276.1h0M286.2 283.3h0M289.9 288.5h0M290.1 286.5h0M299.5 291.5h0M296.0 275.9h0M292.5 284.0h0M296.3 264.1h0M289.5 283.4h0M285.0 289.3h0M290.5 272.6h0M294.4 284.7h0M294.4 279.5h0M293.0 278.4h0M298.2 283.3h0M289.0 285.0h0M287.0 274.5h0M286.7 269.7h0M298.1 293.6h0M288.7 281.2h0M296.2 285.2h0M289.0 286.9h0M293.2 273.9h0M296.5 285.5h0M292.6 291.7h0M289.7 279.7h0M296.3 271.2h0M301.1 277.3h0M299.8 287.9h0M291.8 271.6h0M292.7 285.0h0M295.8 267.7h0M294.2 279.9h0M294.0 265.7h0M293.8 282.8h0M302.2 273.1h0M278.2 276.2h0M285.8 268.7h0M481.1 296.5h0M479.1 304.0h0M480.6 297.1h0M472.2 291.3h0M475.9 294.3h0M479.5 303.3h0M467.7 271.0h0M480.3 287.1h0M474.8 304.2h0M473.8 292.0h0M473.4 291.6h0M471.3 297.7h0M467.1 314.0h0M476.2 279.2h0M474.2 309.0h0M473.6 268.9h0M468.0 263.9h0M467.6 291.1h0M478.9 293.7h0M470.7 306.4h0M478.2 271.7h0M492.9 263.3h0M479.6 297.1h0M475.3 295.1h0M478.4 287.5h0M473.0 286.6h0M481.7 286.5h0M480.9 283.2h0M479.1 292.9h0M483.2 312.4h0M477.4 279.7h0M479.1 261.6h0M475.2 296.1h0M463.8 287.0h0M474.4 296.7h0M483.9 281.1h0M480.0 284.6h0M458.9 313.7h0M472.4 289.8h0M470.9 299.9h0M478.9 296.6h0M472.5 283.5h0M471.0 302.8h0M470.2 288.5h0M467.7 303.2h0M477.7 267.0h0M479.8 282.8h0M478.0 282.6h0M464.8 305.4h0M476.3 288.6h0M476.1 290.7h0M471.7 276.4h0M474.6 299.9h0M469.7 282.3h0M468.2 273.8h0M473.4 305.4h0M474.1 286.2h0M476.7 302.4h0M463.1 307.3h0M479.4 278.0h0M481.8 269.7h0M473.2 286.8h0M485.3 278.4h0M474.9 308.4h0M487.9 284.9h0M480.9 266.8h0M480.5 291.0h0M477.2 283.7h0M478.7 283.5h0M469.7 279.2h0M472.9 280.3h0M481.0 281.2h0M468.6 290.8h0M475.2 309.6h0M475.9 268.5h0M478.1 285.0h0M481.0 283.3h0M474.6 281.7h0M473.7 292.1h0M468.8 270.7h0M472.2 288.5h0M472.6 294.4h0M485.9 292.7h0M480.2 302.6h0M481.1 271.1h0M464.5 286.7h0M474.9 279.2h0M485.3 301.5h0M477.9 300.1h0M477.2 300.9h0M476.3 288.1h0M474.1 283.1h0M475.8 291.0h0M477.0 289.4h0M471.3 282.0h0M475.0 281.3h0M460.9 292.5h0M478.2 296.5h0M474.9 278.8h0M481.3 290.8h0M472.4 302.5h0M480.4 268.5h0M478.8 296.1h0M472.6 272.8h0M473.6 294.7h0M468.9 310.2h0M482.2 290.7h0M476.3 300.6h0M484.8 310.5h0M472.4 291.5h0M470.5 292.4h0M471.7 290.7h0M471.6 274.7h0M474.0 290.3h0M464.9 299.3h0M476.5 284.2h0M471.3 301.2h0M461.5 270.2h0M478.8 266.4h0M473.6 307.3h0M472.9 278.9h0M480.4 286.8h0M484.6 303.8h0M478.9 281.2h0M473.4 298.3h0M476.0 296.3h0M469.0 285.5h0M465.4 292.5h0M491.8 296.8h0M466.9 290.8h0M475.7 290.4h0M474.5 292.4h0M465.8 280.3h0M474.2 286.1h0M466.6 277.6h0M462.9 288.8h0M479.4 296.5h0M471.1 286.5h0M477.3 293.8h0M471.0 292.1h0M478.8 267.8h0M479.6 289.1h0M476.8 289.9h0M481.9 281.9h0M485.9 281.2h0M467.0 293.1h0M475.3 298.0h0M468.3 299.4h0M470.7 291.9h0M478.4 288.4h0M470.9 301.5h0M483.0 304.5h0M479.0 290.0h0M481.3 292.2h0M473.0 292.0h0M477.2 294.0h0M471.2 286.2h0M479.0 295.4h0M475.4 290.1h0M488.2 282.4h0M473.4 293.2h0M470.5 296.8h0M478.9 291.9h0M467.0 285.0h0M479.4 293.3h0M471.7 294.8h0M474.8 282.8h0M471.4 312.5h0M475.8 295.9h0M470.8 288.8h0M475.1 292.4h0M486.7 297.6h0M477.7 303.8h0M472.1 302.0h0M471.9 280.9h0M481.7 291.1h0M476.1 279.9h0M469.6 280.7h0M472.3 283.2h0M482.3 305.0h0M479.1 299.6h0M478.1 296.0h0M465.1 293.3h0M474.2 288.2h0M479.1 290.2h0M471.6 286.6h0M469.8 297.0h0M467.7 284.2h0M479.4 285.1h0M471.8 286.1h0M468.6 306.6h0M478.2 284.6h0M480.8 275.8h0M474.7 292.5h0M476.8 296.3h0"/>
<path fill="none" stroke="#1d4a35" stroke-width="1.6" stroke-linecap="square" d="M69.1 90.0h0M62.0 83.4h0M67.2 82.6h0M70.4 87.9h0M70.2 85.2h0M65.9 90.9h0M66.9 89.8h0M67.6 89.1h0M66.3 89.8h0M65.2 87.6h0M60.5 81.6h0M65.5 86.4h0M65.8 85.8h0M69.3 87.3h0M67.8 88.7h0M65.3 86.5h0M68.7 84.8h0M309.4 98.0h0M295.4 95.7h0M308.6 96.1h0M295.5 88.3h0M301.3 98.8h0M298.6 94.6h0M291.3 83.9h0M296.4 109.5h0M310.1 102.0h0M306.5 87.6h0M288.9 100.3h0M291.6 112.1h0M295.8 96.5h0M416.9 118.9h0M392.8 111.9h0M408.3 128.8h0M402.9 82.7h0M388.9 80.5h0M395.3 114.5h0M403.2 110.3h0M390.6 122.4h0M406.9 125.1h0M388.2 126.1h0M411.0 110.5h0M415.6 128.5h0M400.8 113.0h0M408.3 113.1h0M403.6 110.6h0M401.3 102.4h0M398.1 136.3h0M417.4 116.9h0M410.5 114.6h0M385.9 118.4h0M393.1 121.5h0M390.7 109.4h0M424.4 102.9h0M399.5 125.6h0M409.7 128.2h0M396.2 129.2h0M47.6 289.8h0M29.8 285.2h0M54.5 303.5h0M47.0 275.3h0M45.2 291.4h0M59.9 294.3h0M41.8 304.0h0M55.1 302.7h0M32.0 275.1h0M51.2 301.8h0M56.6 288.5h0M48.9 278.1h0M50.3 283.0h0M46.4 294.9h0M54.8 292.5h0M49.7 294.6h0M43.0 287.6h0M61.5 293.7h0M48.0 300.6h0M230.7 294.0h0M209.7 278.6h0M232.8 279.1h0M226.9 286.9h0M211.0 310.6h0M214.7 282.0h0M228.1 299.3h0M217.5 289.7h0M234.5 292.0h0M224.0 307.7h0M225.0 281.8h0M219.1 289.3h0M212.6 289.5h0M216.8 282.7h0M207.0 276.7h0M214.1 300.6h0M229.1 302.2h0M206.8 279.5h0M212.6 290.7h0M237.9 306.3h0M220.1 302.0h0M224.6 294.4h0M210.3 295.6h0M418.3 307.0h0M430.1 296.8h0M422.5 291.2h0M411.7 307.6h0M428.8 293.9h0M422.8 292.4h0M413.7 294.0h0M417.3 284.5h0M414.4 299.2h0M412.9 292.3h0M426.8 299.3h0M414.5 301.8h0M432.5 286.9h0M422.2 299.3h0M414.0 300.6h0M417.6 298.1h0M414.6 292.4h0M427.3 299.6h0M418.5 304.5h0M427.8 292.7h0M412.1 305.5h0M414.9 298.1h0M419.7 305.1h0M426.4 301.1h0M417.9 282.1h0M419.7 300.3h0M421.2 290.7h0M419.0 299.7h0M427.7 286.7h0M424.3 296.0h0M420.5 287.0h0M419.1 292.9h0M428.5 302.6h0M406.1 289.9h0M422.7 306.8h0M418.6 287.3h0M422.7 293.7h0M431.6 284.1h0M427.8 293.3h0"/>
<path fill="none" stroke="#1a1a1a" stroke-width="1.6" stroke-linecap="square" d="M73.8 103.0h0M58.6 97.3h0M66.7 93.1h0M66.6 95.7h0M58.3 94.3h0M72.9 91.8h0M65.5 89.9h0M62.5 94.9h0M49.7 92.2h0M75.9 102.5h0M51.5 84.7h0M75.2 83.6h0M51.1 82.9h0M78.0 84.5h0M59.4 87.9h0M65.3 90.0h0M69.5 83.6h0M57.6 88.1h0M64.3 82.2h0M66.7 86.2h0M64.8 85.5h0M45.6 84.1h0M46.4 86.2h0M58.2 83.6h0M54.7 87.0h0M309.1 87.9h0M289.1 90.7h0M310.5 105.0h0M302.1 94.0h0M296.6 99.5h0M303.3 101.0h0M300.4 113.3h0M308.0 103.6h0M297.9 94.7h0M294.0 109.9h0M314.5 105.5h0M299.2 93.7h0M280.6 89.0h0M301.6 92.0h0M303.1 95.5h0M310.6 79.8h0M303.0 81.6h0M309.7 100.4h0M291.6 95.0h0M302.4 104.3h0M298.5 101.7h0M288.8 99.1h0M283.4 86.9h0M295.3 95.8h0M314.4 91.4h0M286.6 96.9h0M295.7 102.9h0M294.0 83.2h0M297.7 82.6h0M290.1 107.7h0M297.8 99.9h0M298.8 93.2h0M291.5 102.7h0M293.9 100.8h0M303.1 98.5h0M286.3 85.6h0M312.7 89.7h0M295.5 101.5h0M280.4 100.1h0M297.6 92.6h0M290.8 94.0h0M284.0 92.8h0M301.8 99.5h0M308.2 121.8h0M304.1 124.2h0M309.0 119.8h0M305.1 109.6h0M296.1 98.6h0M310.2 112.4h0M273.3 129.2h0M293.6 98.4h0M307.4 111.3h0M285.4 114.2h0M294.7 96.0h0M291.7 118.2h0M280.5 117.7h0M297.1 118.2h0M298.6 118.1h0M306.3 128.1h0M306.1 116.2h0M297.7 103.0h0M308.7 118.2h0M300.0 101.7h0M296.7 109.9h0M288.0 117.2h0M294.6 107.9h0M290.9 109.4h0M291.6 124.8h0M412.9 111.4h0M407.5 112.3h0M406.3 114.6h0M411.7 110.9h0M391.5 130.1h0M402.1 109.4h0M391.0 114.4h0M404.9 117.4h0M404.9 114.9h0M411.4 115.7h0M408.7 122.3h0M406.0 119.7h0M408.4 120.8h0M406.4 110.0h0M409.5 115.8h0M400.8 97.5h0M381.7 130.1h0M417.9 103.5h0M396.5 113.0h0M398.5 98.9h0M403.4 114.8h0M401.9 98.8h0M409.8 104.9h0M415.8 107.7h0M411.7 95.7h0M409.7 120.3h0M396.2 105.6h0M403.7 108.4h0M414.5 103.4h0M412.1 131.3h0M413.5 105.2h0M403.5 104.1h0M408.8 113.0h0M417.6 105.6h0M385.2 106.1h0M423.7 111.4h0M434.1 132.5h0M403.8 113.8h0M398.4 103.3h0M409.2 135.1h0M417.5 130.6h0M400.4 113.8h0M411.3 129.0h0M413.4 114.6h0M399.0 112.7h0M402.9 111.9h0M402.2 100.6h0M398.6 120.4h0M394.4 108.7h0M416.9 99.6h0M403.7 110.1h0M413.9 117.7h0M412.8 100.5h0M407.2 136.1h0M410.8 128.4h0M425.5 124.9h0M415.7 113.2h0M407.8 125.2h0M396.1 109.7h0M396.5 116.2h0M414.0 92.5h0M413.4 134.0h0M401.3 116.5h0M414.6 101.4h0M404.6 122.7h0M420.0 131.9h0M400.6 104.7h0M411.8 110.7h0M424.6 130.7h0M391.5 102.8h0M415.7 120.0h0M406.2 117.1h0M385.3 130.2h0M426.6 127.1h0M415.1 94.5h0M395.1 116.7h0M388.5 112.2h0M401.9 106.7h0M399.2 108.6h0M398.3 125.5h0M406.5 94.2h0M400.5 100.7h0M404.9 129.4h0M406.0 104.8h0M389.4 109.3h0M393.1 99.8h0M399.6 126.7h0M386.2 120.3h0M411.5 111.5h0M398.5 121.9h0M396.0 134.3h0M408.0 115.2h0M386.1 112.9h0M391.8 137.0h0M417.7 127.8h0M406.8 114.6h0M395.3 113.9h0M406.0 117.2h0M399.4 126.5h0M408.8 119.2h0M386.0 111.2h0M418.2 135.9h0M381.0 103.3h0M389.7 99.2h0M420.9 121.4h0M405.0 100.9h0M389.7 121.5h0M412.6 114.3h0M411.8 130.0h0M393.0 107.8h0M395.2 116.3h0M403.1 101.2h0M385.2 129.9h0M402.9 109.2h0M384.2 100.8h0M416.3 118.1h0M409.2 101.1h0M410.0 114.3h0M414.3 106.8h0M407.8 122.4h0M413.7 99.1h0M400.8 121.2h0M415.4 107.9h0M412.1 119.2h0M392.1 98.4h0M384.0 105.6h0M412.3 120.1h0M419.0 119.4h0M384.1 130.8h0M408.3 102.2h0M387.4 123.4h0M419.4 102.2h0M414.5 130.5h0M389.3 131.0h0M406.4 103.8h0M392.9 106.3h0M396.1 122.5h0M397.9 134.4h0M437.7 74.5h0M477.8 52.0h0M444.0 82.9h0M52.6 300.5h0M65.2 307.0h0M37.2 298.0h0M52.1 306.2h0M41.6 307.9h0M35.9 292.0h0M48.5 281.9h0M51.6 305.8h0M33.0 314.2h0M54.4 306.0h0M61.2 300.8h0M42.1 293.7h0M61.3 292.8h0M29.7 292.1h0M62.2 307.4h0M51.0 282.6h0M46.8 291.0h0M41.6 279.0h0M50.6 285.4h0M36.5 292.3h0M51.1 304.2h0M35.7 292.7h0M42.3 294.5h0M29.7 303.0h0M52.4 291.1h0M49.1 293.5h0M45.1 297.2h0M28.5 296.8h0M42.4 290.0h0M37.0 301.6h0M35.9 291.7h0M42.7 292.9h0M36.2 304.4h0M38.4 302.8h0M40.7 285.0h0M32.3 298.9h0M78.0 288.2h0M54.6 292.4h0M47.0 305.9h0M46.2 268.3h0M243.0 298.1h0M220.9 291.2h0M210.2 294.9h0M240.6 301.3h0M207.9 298.0h0M223.2 304.0h0M217.2 311.3h0M233.7 282.4h0M218.1 309.8h0M216.2 286.5h0M206.2 296.9h0M214.4 282.1h0M221.5 309.7h0M218.3 282.7h0M215.7 281.4h0M212.3 268.4h0M220.9 306.1h0M210.9 292.7h0M215.5 306.4h0M220.4 283.9h0M219.2 303.3h0M231.2 292.2h0M205.2 281.5h0M211.4 292.0h0M231.6 293.9h0M228.0 309.0h0M208.3 309.6h0M212.8 294.1h0M227.3 291.9h0M227.3 305.9h0M219.9 301.2h0M216.9 288.6h0M218.0 283.5h0M217.9 293.0h0M229.4 299.7h0M219.1 279.1h0M232.0 293.1h0M228.1 295.2h0M224.9 300.1h0M209.2 301.3h0M226.0 300.6h0M227.1 276.8h0M221.7 296.6h0M220.8 274.5h0M218.1 292.2h0M210.7 279.5h0M234.6 284.4h0M237.1 303.9h0M210.9 307.1h0M217.7 314.2h0M209.5 279.3h0M212.3 298.5h0M220.1 274.8h0M227.5 282.9h0M225.6 289.3h0M206.2 277.6h0M214.8 286.0h0M216.8 307.8h0M209.8 283.1h0M232.0 295.9h0M219.6 295.0h0M217.4 298.5h0M233.2 283.2h0M205.2 269.1h0M213.9 312.3h0M233.2 306.7h0M244.5 281.3h0M215.0 298.8h0M241.6 312.7h0M224.8 273.5h0M235.4 272.6h0M220.8 299.4h0M215.7 275.1h0M238.3 306.6h0M218.6 291.8h0M220.2 278.0h0M235.7 313.7h0M215.7 268.2h0M226.6 309.1h0M212.0 273.1h0M213.7 309.2h0M211.5 297.1h0M235.1 276.0h0M243.6 297.9h0M224.3 286.7h0M226.0 290.1h0M238.3 313.6h0M225.2 292.5h0M231.7 303.5h0M420.8 296.9h0M405.1 308.9h0M415.9 294.1h0M429.1 276.4h0M422.8 292.2h0M429.5 293.8h0M404.0 305.8h0M414.7 302.3h0M417.1 301.0h0M422.6 297.9h0M422.8 303.5h0M410.7 290.5h0M402.5 302.1h0M419.3 288.7h0M429.0 295.2h0M417.8 295.8h0M407.6 278.6h0M425.9 289.2h0M419.7 305.2h0M422.9 298.2h0M417.3 296.9h0M421.9 308.8h0M414.4 301.0h0M413.7 281.8h0M425.2 290.3h0M412.3 288.5h0M425.1 298.5h0M437.7 287.5h0M410.0 281.5h0M419.6 283.5h0M425.3 283.3h0M416.1 306.8h0M412.7 307.1h0M414.8 288.3h0M418.2 296.8h0M426.1 300.0h0M412.2 289.8h0M423.4 293.8h0M410.3 298.8h0M413.1 289.1h0M415.9 302.3h0M417.5 301.5h0M415.0 290.9h0M411.4 302.4h0M428.9 310.4h0M408.8 292.2h0M412.8 273.1h0M425.2 299.6h0M412.0 294.5h0M410.2 288.3h0M407.3 293.5h0M419.1 294.9h0M416.8 300.8h0M420.3 282.0h0M431.3 288.9h0M416.0 311.0h0M394.3 301.3h0M420.7 294.2h0M421.7 292.7h0M421.4 284.7h0M426.0 282.0h0M414.5 279.6h0M412.3 299.6h0M430.4 300.2h0M414.8 314.5h0M420.5 288.7h0M409.1 303.1h0M420.8 291.7h0M412.2 309.6h0M422.8 313.8h0M425.7 307.2h0M421.0 301.7h0M411.1 285.9h0M420.5 296.4h0M417.8 292.8h0M429.2 304.2h0M395.1 296.6h0M409.0 285.8h0M410.7 296.9h0M388.9 296.4h0M420.1 297.1h0M389.5 285.5h0M387.0 293.9h0M411.4 309.9h0M392.5 314.3h0M407.8 273.7h0M422.1 302.0h0M396.2 304.8h0M400.0 299.8h0M410.9 291.2h0M386.6 299.3h0M411.3 296.2h0M391.9 309.8h0M413.6 302.9h0M415.2 298.8h0M407.6 299.9h0M421.6 298.6h0M424.3 308.2h0M417.0 291.2h0M408.6 293.7h0M386.2 309.5h0M402.3 303.3h0"/>
<path fill="none" stroke="#a2caca" stroke-width="1.6" stroke-linecap="square" d="M230.4 203.6h0M204.0 211.9h0M221.1 211.9h0M230.4 237.5h0M232.8 237.6h0M241.8 200.1h0M233.6 223.3h0M203.2 226.6h0M213.8 207.7h0M242.4 247.1h0M239.4 228.7h0M207.3 214.7h0M230.0 204.9h0M230.9 248.6h0M224.9 258.2h0M239.7 211.0h0M204.8 253.5h0M203.1 258.4h0M242.8 211.5h0M215.7 228.1h0M232.3 208.5h0M238.7 200.5h0M215.5 223.3h0M225.9 200.6h0M215.8 199.0h0M205.2 205.4h0M222.9 253.7h0M224.0 221.3h0M225.5 230.2h0M225.8 212.0h0M232.4 213.1h0M220.2 251.9h0M216.3 222.2h0M238.5 208.0h0M229.5 240.7h0M240.3 221.6h0M220.0 230.1h0M211.4 227.5h0M219.4 216.5h0M236.6 237.1h0"/>
<path fill="none" stroke="#9fb4b8" stroke-width="1.6" stroke-linecap="square" d="M61.5 53.5h0M90.5 78.2h0M130.8 66.5h0M109.8 77.2h0M154.7 60.9h0M82.5 50.7h0M138.4 57.2h0M116.4 267.3h0M121.5 276.4h0M120.2 277.8h0M131.3 279.7h0M116.4 287.5h0M129.9 294.7h0M135.3 261.7h0M128.7 279.6h0M130.6 277.7h0M129.6 314.8h0M128.7 261.1h0M119.3 279.7h0M114.9 279.4h0M126.7 278.7h0M125.7 252.9h0M122.0 276.3h0M131.8 282.4h0M107.5 289.9h0M134.7 270.0h0M140.2 289.7h0M131.3 290.1h0M128.1 267.0h0M135.2 267.1h0M119.4 311.3h0M120.1 276.8h0M126.3 289.3h0M103.0 283.9h0M126.3 287.7h0M132.2 295.5h0M116.1 287.9h0M128.2 273.6h0M115.0 279.9h0M128.2 286.4h0M123.0 259.1h0M135.6 264.0h0M115.8 284.1h0M129.3 292.2h0M117.4 283.0h0M122.0 286.2h0M126.8 263.4h0M122.0 276.8h0M121.9 274.3h0M118.4 285.5h0M124.3 260.4h0M131.1 266.5h0M111.6 250.3h0M121.9 300.4h0M50.0 237.1h0M32.4 229.4h0M120.8 235.8h0M49.9 210.2h0M137.7 234.0h0M101.6 293.4h0M98.8 248.5h0M297.6 223.8h0M470.2 213.5h0M464.8 254.0h0M486.3 221.3h0M470.9 225.1h0M455.4 267.8h0M459.6 247.4h0M472.1 235.3h0M493.6 220.3h0M474.5 226.6h0"/>
<path fill="none" stroke="#607c84" stroke-width="1.6" stroke-linecap="square" d="M217.1 227.8h0M217.9 205.1h0M238.9 202.7h0M211.4 199.3h0M211.4 204.0h0M222.6 239.7h0M211.6 217.4h0M223.9 225.6h0"/>
<path fill="none" stroke="#e0607a" stroke-width="1.6" stroke-linecap="square" d="M454.5 110.6h0M435.6 137.3h0M433.4 103.4h0M436.1 98.2h0M427.5 135.0h0M429.0 129.0h0M454.1 127.4h0M432.3 100.4h0M438.3 136.0h0M448.8 101.5h0M429.1 131.7h0M445.1 104.1h0M425.3 126.9h0M427.8 114.3h0M444.9 117.7h0M453.0 99.6h0M449.6 111.8h0"/>
<path fill="none" stroke="#b8405e" stroke-width="1.6" stroke-linecap="square" d="M320.3 71.4h0M301.9 113.5h0M325.8 81.1h0M269.9 132.8h0M298.2 73.9h0M215.2 68.2h0M298.4 124.5h0M282.3 110.0h0M250.0 87.4h0M322.2 102.8h0M329.9 68.8h0M471.3 96.3h0M472.8 75.5h0M436.2 57.3h0M438.4 75.6h0M433.4 125.6h0M428.3 98.5h0M457.5 106.8h0M427.9 49.7h0M455.5 102.5h0M465.4 128.9h0M64.5 186.8h0M86.5 297.0h0M66.0 231.3h0M110.5 251.1h0M61.1 301.8h0M63.1 254.2h0M140.5 256.4h0M114.5 249.0h0M120.3 255.2h0M43.7 289.3h0M109.1 241.6h0M75.3 292.7h0M98.2 237.9h0M65.3 219.8h0M156.2 310.2h0M207.5 257.2h0M206.6 260.2h0M236.5 252.0h0M230.2 199.1h0M242.6 251.3h0M220.3 242.5h0M230.2 199.8h0M215.4 235.2h0M224.9 232.7h0M297.5 250.7h0M292.6 204.8h0M266.6 252.8h0M266.9 213.0h0M246.9 242.0h0M253.5 210.4h0M270.8 223.4h0M268.0 243.6h0M459.3 264.8h0M476.9 240.7h0M472.6 256.2h0M462.3 239.4h0M462.1 242.7h0M464.2 250.3h0M455.2 249.9h0M458.7 255.1h0M473.3 241.7h0M461.4 264.4h0M450.3 259.0h0M449.3 260.4h0"/>
<path fill="none" stroke="#d81a3c" stroke-width="1.6" stroke-linecap="square" d="M274.2 69.2h0M306.9 69.1h0M300.9 72.3h0M303.3 77.4h0M285.4 24.0h0M291.0 66.2h0M295.0 47.8h0M296.1 82.7h0M309.8 52.2h0M270.3 45.7h0M262.1 60.2h0M321.6 41.6h0M263.0 50.0h0M290.3 46.2h0M306.2 85.9h0M292.3 93.0h0M310.7 40.5h0M324.3 113.8h0M290.4 79.3h0M296.1 39.9h0M312.0 82.1h0M282.6 82.4h0M314.8 87.5h0M307.4 77.1h0M270.6 62.6h0M334.9 97.0h0M303.8 64.8h0M263.0 56.3h0M273.7 53.5h0M273.8 43.5h0M305.0 77.4h0M280.9 78.1h0M304.9 84.5h0M277.1 45.6h0M279.4 64.0h0M306.5 51.1h0M314.1 76.9h0M317.8 76.3h0M309.5 62.9h0M256.4 63.1h0M315.6 75.0h0M306.5 67.8h0M323.8 66.5h0M298.9 69.8h0M306.0 75.3h0M281.6 53.0h0M291.8 57.0h0M242.0 59.0h0M315.5 39.5h0M272.9 84.5h0M255.3 60.2h0M324.6 47.5h0M273.4 64.7h0M303.4 67.9h0M296.1 60.1h0M270.5 74.6h0M314.4 98.6h0M304.9 48.8h0M298.3 42.3h0M291.2 79.0h0M294.2 79.8h0M284.8 75.7h0M267.1 60.5h0M303.2 79.5h0M301.2 90.3h0M285.7 67.5h0M301.4 78.5h0M307.1 102.8h0M290.4 83.2h0M263.2 76.6h0M317.5 93.8h0M311.2 81.7h0M301.5 84.2h0M272.2 87.5h0M301.0 75.6h0M280.7 93.6h0M299.1 68.3h0M297.6 77.7h0M295.1 84.8h0M315.3 74.2h0M310.2 81.2h0M296.0 85.8h0M291.4 71.7h0M403.3 37.1h0M389.2 72.3h0M411.6 86.9h0M401.8 56.4h0M418.2 45.3h0M420.8 61.5h0M416.7 74.5h0M419.3 73.3h0M412.7 87.4h0M414.4 58.6h0M424.6 67.9h0M399.2 60.8h0M432.1 59.7h0M414.1 55.8h0M427.2 75.7h0M437.7 68.4h0M414.3 57.3h0M433.2 69.0h0M405.1 65.2h0M402.1 85.4h0M400.5 76.2h0M399.5 46.0h0M410.7 84.0h0M420.4 46.6h0M403.4 40.8h0M400.4 58.8h0M404.3 95.6h0M410.3 108.5h0M398.8 97.8h0M406.1 119.0h0M415.0 124.9h0M415.2 111.0h0M406.5 119.8h0M389.1 105.4h0M402.9 95.9h0M392.3 117.8h0M418.4 103.7h0M387.3 108.2h0M420.7 108.9h0M407.7 106.1h0M418.6 107.4h0M394.9 112.5h0M427.7 113.2h0M407.6 104.9h0M423.1 93.5h0M397.3 117.0h0M416.1 107.0h0M399.1 95.5h0M408.9 118.8h0M433.4 92.1h0M389.8 124.7h0M403.6 107.0h0M417.9 90.0h0M428.1 99.9h0M80.4 245.3h0M83.2 247.9h0M90.5 251.9h0M92.3 230.1h0M69.2 253.1h0M60.0 239.2h0M54.5 248.9h0M86.2 234.5h0M72.0 231.8h0M72.2 252.0h0M89.7 273.0h0M65.4 265.2h0M79.3 243.6h0M77.8 251.3h0M82.4 253.5h0M83.7 246.3h0M91.5 247.2h0M90.7 276.8h0M81.7 256.9h0M73.6 231.5h0M72.7 246.7h0M61.4 259.2h0M94.1 230.9h0M88.0 254.3h0M111.0 245.0h0M91.6 246.6h0M79.5 251.1h0M67.7 242.1h0M69.6 278.4h0M53.9 238.8h0M40.4 238.8h0M60.5 234.8h0M85.3 247.1h0M84.4 233.9h0M66.1 234.8h0M87.6 230.6h0M89.9 253.8h0M87.9 268.0h0M77.7 270.0h0M93.6 251.2h0M83.9 256.8h0M88.2 240.2h0M92.3 239.6h0M88.0 231.8h0M87.5 231.0h0M67.2 234.0h0M71.0 257.1h0M93.6 233.1h0M75.4 242.2h0M99.1 234.6h0M57.9 243.9h0M60.1 249.9h0M68.9 253.9h0M87.7 275.7h0M65.8 270.0h0M37.9 254.0h0M96.4 235.2h0M99.5 238.7h0M80.4 264.5h0M69.0 248.0h0M75.6 263.4h0M62.5 247.2h0M46.2 251.2h0M57.0 225.2h0M74.0 218.8h0M56.4 240.5h0M59.4 251.9h0M70.2 240.7h0M71.8 262.7h0M53.5 211.9h0M76.5 225.8h0M45.3 222.1h0M52.1 259.6h0M73.9 273.7h0M56.7 243.1h0M57.2 225.1h0M65.1 223.3h0M54.8 226.2h0M67.6 257.6h0M57.9 224.6h0M67.2 235.6h0M65.7 240.4h0M60.2 220.2h0M71.1 230.5h0M73.6 238.3h0M75.0 235.6h0M69.8 219.4h0M57.5 214.0h0M90.5 227.9h0M57.2 208.1h0M56.4 242.1h0M53.2 251.5h0M61.7 231.5h0M63.0 275.3h0M41.6 226.4h0M66.3 238.9h0M52.4 243.0h0M28.0 222.2h0M77.5 231.7h0M68.2 263.6h0M30.7 257.0h0M64.2 223.9h0M68.6 269.8h0M89.2 207.7h0M68.5 218.7h0M64.8 237.5h0M75.7 274.8h0M73.5 252.0h0M67.9 288.5h0M77.5 245.9h0M69.5 212.4h0M68.5 223.9h0M73.9 218.0h0M47.2 216.9h0M84.1 227.4h0M54.0 237.4h0M80.8 256.8h0M62.3 243.8h0M85.1 257.0h0M65.4 278.3h0M75.4 246.0h0M67.7 261.3h0M76.9 256.1h0M49.3 279.4h0M54.9 301.9h0M84.2 245.2h0M40.8 220.5h0M87.0 250.6h0M48.3 212.5h0M53.7 224.5h0M56.0 239.2h0M52.0 220.1h0M69.5 230.1h0M64.2 231.6h0M38.1 240.4h0M59.7 221.7h0M49.3 260.4h0M61.2 267.4h0M79.1 213.7h0M62.1 217.5h0M61.2 252.8h0M60.1 251.3h0M59.3 220.4h0M69.9 220.1h0M66.1 257.4h0M52.2 253.7h0M41.8 257.7h0M62.3 253.1h0M51.9 266.9h0M74.5 267.7h0M65.4 242.7h0M68.4 232.3h0M71.4 257.6h0M66.3 262.7h0M55.4 229.7h0M63.2 274.0h0M58.8 200.5h0M83.6 215.8h0M91.5 253.8h0M66.3 200.1h0M69.2 204.9h0M50.2 261.0h0M71.5 236.1h0M87.4 220.1h0M50.0 233.2h0M69.7 246.3h0M86.9 299.7h0M71.7 282.4h0M93.1 271.8h0M71.1 289.7h0M96.9 290.5h0M121.6 263.4h0M85.2 288.6h0M111.9 278.2h0M73.4 267.2h0M81.5 286.6h0M98.7 306.7h0M81.2 283.2h0M72.6 272.9h0M78.5 299.7h0M81.2 277.6h0M85.3 283.9h0M96.3 281.3h0M110.8 262.3h0M79.2 284.5h0M80.4 288.5h0M76.6 288.6h0M76.9 277.8h0M82.6 276.6h0M97.6 274.5h0M72.2 289.1h0M72.6 285.0h0M100.4 270.5h0M105.5 289.3h0M61.8 285.8h0M83.2 283.8h0M73.8 276.2h0M79.5 280.1h0M95.1 276.2h0M93.2 290.2h0M101.2 291.9h0M98.4 288.6h0M94.6 291.0h0M84.7 290.2h0M95.2 278.3h0M93.3 285.6h0M98.5 280.2h0M98.9 274.5h0M94.2 286.4h0M115.4 262.4h0M89.1 283.8h0M101.9 283.7h0M88.8 278.1h0M76.6 290.9h0M87.5 278.8h0M104.4 292.2h0M108.0 287.3h0M78.4 303.3h0M65.9 297.8h0M89.8 271.6h0M80.5 278.6h0M83.2 280.8h0M78.9 279.6h0M74.5 283.1h0M86.9 277.0h0M97.6 279.0h0M93.5 281.9h0M86.9 272.5h0M84.5 283.2h0M84.1 217.1h0M83.5 209.0h0M81.2 236.2h0M101.1 210.1h0M101.3 225.1h0M73.1 235.4h0M97.5 222.5h0M87.6 229.6h0M97.6 234.8h0M99.5 233.4h0M103.6 228.6h0M93.0 224.1h0M112.9 221.4h0M81.2 197.8h0M95.3 228.4h0M100.1 209.6h0M116.7 234.9h0M72.4 231.4h0M107.3 228.4h0M104.3 207.6h0M91.7 216.7h0M109.3 231.2h0M89.1 227.9h0M82.5 230.7h0M83.0 238.1h0M94.0 234.7h0M97.9 219.9h0M112.2 222.5h0M92.9 218.1h0M89.5 245.7h0M83.0 252.8h0M99.0 263.0h0M90.1 269.9h0M115.1 250.0h0M68.8 242.5h0M84.8 272.2h0M105.7 242.3h0M80.9 234.7h0M115.7 233.5h0M141.6 251.7h0M104.9 237.6h0M132.1 249.8h0M76.4 248.9h0M100.7 263.1h0M98.9 259.7h0M111.7 255.1h0M102.7 268.0h0M73.8 258.5h0M86.5 258.0h0M93.0 243.1h0M94.0 236.2h0M104.2 240.9h0M107.9 243.9h0M94.7 246.3h0M117.6 245.0h0M107.0 246.9h0M98.6 264.1h0M84.9 241.1h0M116.0 247.2h0M113.6 250.5h0M85.2 271.4h0M71.0 248.6h0M71.5 253.6h0M66.2 250.3h0M110.2 250.7h0M86.5 256.6h0M104.3 245.3h0M86.8 238.0h0M122.1 266.6h0M94.8 260.7h0M87.7 259.7h0M77.6 260.8h0M89.1 265.3h0M103.5 255.6h0M109.2 236.6h0M98.8 241.7h0M107.1 265.7h0M67.9 246.2h0M70.9 258.5h0M67.1 253.3h0M94.3 242.1h0M100.3 254.5h0M85.4 267.4h0M102.8 268.5h0M114.7 238.2h0M103.5 247.6h0M94.3 259.8h0M52.7 252.0h0M118.2 254.9h0M100.3 266.0h0M120.1 255.5h0M94.8 247.0h0M61.4 281.6h0M51.8 291.8h0M68.5 286.3h0M57.5 286.1h0M60.8 290.2h0M67.3 292.7h0M68.6 299.5h0M66.5 289.6h0M49.7 274.9h0M56.3 289.9h0M61.8 293.5h0M64.2 283.2h0M50.5 298.6h0M63.1 281.8h0M58.4 288.0h0M47.7 272.7h0M49.1 284.8h0M67.9 291.7h0M53.3 288.2h0M66.4 293.3h0M59.1 289.6h0M59.6 285.4h0M54.7 286.0h0M59.5 284.5h0M64.2 279.3h0M70.1 298.0h0M44.9 301.7h0M60.5 285.9h0M262.2 265.3h0M255.9 268.1h0M252.7 271.4h0M254.8 267.0h0M252.2 255.7h0M242.4 280.6h0M234.3 280.0h0M242.9 266.3h0M255.3 248.0h0M249.8 262.7h0M237.8 277.0h0M265.3 267.7h0M243.2 255.6h0M246.1 261.1h0M252.6 265.1h0M248.6 267.8h0M263.6 266.0h0M245.2 264.7h0M243.0 251.0h0M254.2 267.1h0M255.9 267.1h0M233.5 276.2h0M255.5 257.9h0M252.7 254.9h0M264.1 263.6h0M224.5 276.9h0M235.6 273.5h0M242.7 285.7h0M261.8 252.0h0M242.4 273.7h0M222.4 267.8h0M254.9 276.3h0M253.1 266.8h0M249.4 268.3h0M247.5 267.7h0M246.1 266.3h0M258.3 265.0h0M250.4 271.5h0M251.7 263.7h0M258.7 265.9h0M251.1 253.5h0M261.7 273.4h0M242.6 271.9h0M249.4 263.9h0M248.3 259.6h0M273.3 260.1h0M249.9 261.3h0M250.3 261.1h0M252.5 270.2h0M253.9 263.4h0M242.0 274.4h0M249.0 273.2h0M263.4 255.0h0M243.0 271.3h0M256.4 264.5h0M232.0 285.0h0M238.7 261.8h0M213.0 304.0h0M210.1 294.4h0M217.9 301.0h0M221.5 302.0h0M209.8 297.8h0M209.9 300.1h0M204.9 303.4h0M210.6 307.1h0M222.4 295.6h0M210.7 303.0h0M207.4 300.8h0M214.0 300.3h0M211.6 295.2h0M229.8 300.8h0M218.6 303.2h0M218.7 288.5h0M214.6 309.1h0M220.4 306.5h0M232.8 289.7h0M216.6 295.7h0M219.8 306.3h0M203.5 294.1h0M226.7 298.3h0M222.1 292.6h0M219.2 302.4h0M208.0 297.3h0M229.6 304.4h0M222.7 302.3h0M215.1 298.2h0M228.6 299.1h0M211.8 297.9h0M204.4 304.5h0M215.8 291.9h0M209.7 308.6h0M238.1 311.4h0M213.5 276.8h0M208.6 297.5h0M225.3 302.9h0M220.1 290.3h0M206.8 293.2h0M219.7 292.8h0M206.0 312.3h0M206.3 301.5h0M212.7 295.4h0M441.9 264.2h0M439.6 254.7h0M434.3 272.6h0M433.4 267.4h0M419.7 267.8h0M459.7 267.0h0M432.2 260.7h0M434.0 268.0h0M433.5 270.3h0M445.3 268.7h0M434.4 266.2h0M427.9 267.5h0M437.8 264.4h0M444.7 256.6h0M443.2 266.6h0M436.1 264.9h0M446.6 268.4h0M442.9 272.0h0M433.4 265.9h0M453.0 279.6h0M442.3 262.6h0M443.4 278.4h0M449.0 275.8h0M452.4 279.5h0M442.4 261.5h0M444.1 260.3h0M436.8 262.6h0M428.1 267.9h0M445.0 278.2h0M441.9 271.2h0M476.8 283.9h0M477.0 268.0h0M469.5 270.7h0M479.7 263.4h0M479.6 280.0h0M475.9 272.0h0M472.0 277.3h0M473.3 269.8h0M464.4 269.7h0M466.8 277.1h0M477.8 281.1h0M472.8 275.0h0M480.6 276.4h0M474.7 266.0h0M467.3 290.6h0M467.8 276.1h0M472.4 269.6h0M473.4 273.9h0M473.0 269.9h0M477.5 275.9h0M473.2 271.2h0M470.5 278.8h0M479.1 266.1h0M473.9 276.0h0M486.5 267.1h0M475.7 269.0h0M471.4 294.1h0M478.9 255.6h0M490.5 289.0h0M475.5 272.2h0M485.6 276.9h0M475.2 276.8h0M475.9 277.8h0M468.9 291.6h0M481.4 276.5h0M468.9 293.8h0M477.1 274.1h0M470.7 299.6h0M477.6 289.2h0M480.9 298.6h0M475.2 307.8h0M468.9 291.3h0M477.5 280.2h0M474.4 285.5h0M473.2 284.6h0M474.0 311.9h0M472.7 275.4h0M469.7 289.8h0M479.7 281.5h0M476.4 293.5h0M465.8 284.0h0M473.8 282.3h0M467.2 276.1h0M477.2 283.7h0M468.7 295.9h0M481.4 310.6h0M474.5 292.9h0M479.1 285.7h0M467.5 297.8h0M472.7 309.4h0M470.2 310.2h0M467.9 298.5h0M484.6 306.8h0M473.1 282.7h0M468.4 296.1h0M484.6 286.7h0M476.4 274.6h0M467.2 300.8h0M480.0 307.6h0"/>
<path fill="none" stroke="#f0101e" stroke-width="1.6" stroke-linecap="square" d="M79.8 78.0h0M85.6 81.0h0M92.9 77.9h0M75.2 86.1h0M75.3 80.6h0M83.3 71.4h0M85.2 77.8h0M80.1 73.4h0M90.8 81.8h0M93.7 84.7h0M83.6 81.1h0M92.5 77.8h0M91.1 80.6h0M94.4 79.1h0M85.1 84.7h0M80.6 75.4h0M108.6 80.8h0M88.5 79.5h0M97.5 85.4h0M86.2 80.9h0M100.3 77.3h0M99.7 80.2h0M80.1 80.4h0M93.7 74.7h0M101.2 80.0h0M92.0 78.1h0M103.9 75.3h0M77.5 82.8h0M80.7 79.6h0M110.8 79.2h0M105.1 72.4h0M109.5 85.8h0M83.2 82.5h0M86.7 73.1h0M84.1 86.0h0M88.8 78.1h0M93.1 81.4h0M109.1 77.6h0M86.1 85.0h0M93.4 86.8h0M85.5 85.9h0M89.1 74.7h0M102.7 72.4h0M101.7 70.8h0M109.8 70.1h0M102.5 77.0h0M87.7 74.6h0M80.1 85.6h0M78.9 80.0h0M80.1 71.9h0M91.0 81.4h0M93.6 83.7h0M91.2 72.3h0M93.9 79.6h0M98.4 75.6h0M104.9 71.8h0M113.3 72.4h0M94.6 76.5h0M88.8 82.5h0M91.6 78.6h0M111.3 72.4h0M92.7 76.4h0M111.1 75.4h0M110.2 63.7h0M91.0 79.6h0M89.6 83.2h0M82.4 83.5h0M94.9 82.6h0M117.4 73.5h0M95.6 77.1h0M108.1 90.6h0M116.3 72.0h0M92.2 78.4h0M80.0 76.7h0M92.1 84.0h0M99.9 81.2h0M102.4 75.3h0M87.6 83.5h0M95.4 83.5h0M90.1 82.9h0M106.5 82.9h0M89.3 75.1h0M102.3 79.3h0M94.8 83.4h0M93.8 74.8h0M109.4 78.0h0M88.2 80.8h0M83.6 81.4h0M75.6 81.0h0M85.0 78.4h0M82.1 86.3h0M103.3 78.6h0M103.3 80.6h0M95.3 70.1h0M88.6 72.9h0M89.7 75.2h0M69.4 81.0h0M76.2 72.3h0M80.9 78.2h0M97.6 80.1h0M88.2 82.8h0M92.9 81.7h0M74.5 81.1h0M73.8 81.2h0M105.9 81.3h0M103.0 81.5h0M89.8 70.4h0M90.9 79.4h0M89.5 76.4h0M82.0 79.5h0M89.8 75.7h0M87.7 74.1h0M74.3 82.0h0M88.6 83.5h0M85.4 75.0h0M85.4 84.4h0M94.2 82.3h0M98.2 81.1h0M83.7 82.6h0M99.0 79.7h0M71.0 77.8h0M72.8 83.4h0M85.3 70.1h0M89.1 72.0h0M96.7 75.2h0M91.1 79.3h0M96.5 76.3h0M90.6 76.5h0M85.1 86.5h0M97.5 83.4h0M100.1 75.3h0M95.5 78.0h0M104.6 83.9h0M95.3 84.3h0M78.8 78.2h0M106.2 83.0h0M82.5 75.7h0M96.4 68.5h0M106.6 81.2h0M100.9 80.1h0M103.1 74.9h0M117.9 77.5h0M80.1 86.2h0M73.1 80.8h0M95.2 82.7h0M80.4 81.2h0M91.5 79.7h0M101.3 80.6h0M125.3 79.7h0M119.2 80.7h0M99.3 85.0h0M114.2 78.5h0M97.5 79.0h0M98.4 89.3h0M87.4 79.8h0M117.6 77.7h0M85.8 83.1h0M91.0 83.3h0M115.2 73.9h0M83.3 81.6h0M88.1 80.4h0M77.7 80.6h0M88.4 78.2h0M89.3 80.7h0M112.1 78.4h0M84.0 85.3h0M109.8 77.1h0M97.7 72.7h0M83.4 80.1h0M87.8 71.8h0M75.6 78.8h0M90.4 80.0h0M93.0 83.2h0M98.3 85.3h0M74.0 80.1h0M68.8 76.9h0M93.9 84.6h0M92.2 84.4h0M81.8 85.5h0M92.0 82.8h0M94.0 80.9h0M89.9 74.7h0M76.9 82.4h0M106.4 75.5h0M88.6 73.2h0M91.1 81.8h0M87.0 72.8h0M96.3 81.2h0M118.8 75.8h0M116.0 82.7h0M101.0 75.7h0M93.1 78.0h0M78.8 77.8h0M94.0 78.0h0M89.6 83.3h0M74.9 82.3h0M82.8 78.9h0M97.3 73.8h0M93.3 77.1h0M107.7 80.7h0M90.5 79.3h0M87.0 84.0h0M94.7 69.3h0M92.4 80.4h0M103.8 81.0h0M80.7 78.0h0M114.6 81.2h0M102.0 82.3h0M91.2 81.8h0M105.2 83.8h0M79.1 75.7h0M90.5 82.5h0M100.7 86.6h0M90.5 84.2h0M86.8 81.2h0M97.5 82.5h0M115.2 78.8h0M93.9 86.4h0M96.2 76.4h0M73.5 82.6h0M112.4 76.9h0M95.1 75.6h0M93.1 72.4h0M88.2 77.4h0M87.6 77.9h0M87.7 76.3h0M107.1 80.1h0M80.6 77.1h0M76.1 74.0h0M84.7 86.1h0M75.6 73.5h0M71.4 83.6h0M92.5 71.1h0M81.8 76.4h0M95.9 76.3h0M97.0 86.5h0M84.2 76.8h0M87.0 81.9h0M79.8 78.1h0M96.1 77.3h0M100.9 74.1h0M82.7 84.0h0M106.7 78.5h0M106.6 84.2h0M114.9 77.3h0M123.5 75.8h0M99.4 76.4h0M112.3 76.3h0M119.0 88.6h0M115.9 77.3h0M115.4 63.0h0M108.1 73.7h0M115.5 81.9h0M112.5 74.5h0M107.6 78.7h0M111.3 75.3h0M110.0 74.8h0M97.8 70.1h0M114.2 88.4h0M98.2 75.0h0M107.3 72.0h0M114.4 85.8h0M116.4 72.6h0M111.1 85.0h0M124.1 82.0h0M116.5 81.5h0M124.5 78.0h0M111.9 88.2h0M112.3 87.5h0M121.9 74.2h0M110.4 84.5h0M113.2 83.1h0M106.8 78.9h0M110.0 78.8h0M112.4 79.4h0M119.8 84.1h0M128.7 67.8h0M117.2 79.9h0M110.8 68.2h0M118.3 79.3h0M125.8 70.6h0M118.0 75.7h0M91.1 71.1h0M121.2 69.5h0M134.6 70.5h0M119.5 77.1h0M104.5 70.6h0M103.3 78.1h0M103.7 63.3h0M125.1 76.1h0M122.8 77.2h0M117.4 81.9h0M124.5 71.9h0M130.3 85.7h0M115.3 73.0h0M137.9 75.1h0M108.2 64.4h0M114.2 69.1h0M133.2 75.3h0M140.9 76.3h0M121.6 82.2h0M94.9 77.4h0M119.1 80.1h0M109.3 78.5h0M119.8 73.9h0M107.0 92.1h0M101.3 85.2h0M114.5 82.6h0M109.4 83.6h0M116.3 77.6h0M132.4 79.6h0M114.6 78.2h0M141.4 74.8h0M111.3 83.4h0M123.5 74.5h0M117.3 93.9h0M126.2 74.4h0M113.4 80.5h0M98.4 83.1h0M118.5 83.5h0M109.9 69.6h0M104.2 90.4h0M109.5 85.5h0M100.4 74.1h0M119.6 90.2h0M98.8 76.2h0M127.3 79.8h0M119.8 76.6h0M125.6 87.1h0M123.5 80.8h0M131.1 92.5h0M129.3 65.9h0M109.6 91.1h0M126.8 78.6h0M121.2 81.0h0M125.2 79.3h0M120.3 76.5h0M111.9 79.3h0M105.5 80.8h0M101.8 72.2h0M100.9 88.2h0M125.1 70.3h0M100.1 84.9h0M100.8 70.9h0M117.2 85.6h0M117.6 74.6h0M102.6 70.6h0M102.7 77.5h0M118.1 85.7h0M105.7 75.7h0M94.0 72.7h0M103.8 79.5h0M110.1 71.5h0M112.9 87.2h0M114.7 73.5h0M109.3 76.4h0M117.8 79.9h0M111.1 89.0h0M100.7 75.9h0M105.9 67.9h0M115.2 76.7h0M129.8 74.6h0M117.4 84.2h0M114.4 71.5h0M102.9 75.4h0M101.4 68.8h0M102.7 87.2h0M127.1 75.2h0M126.1 78.6h0M126.9 80.2h0M132.0 75.7h0M113.9 80.3h0M116.2 75.1h0M123.4 73.9h0M97.7 83.9h0M109.2 72.4h0M114.4 79.0h0M125.4 70.1h0M101.1 80.9h0M121.6 67.0h0M96.7 85.7h0M95.0 86.7h0M135.8 81.2h0M122.9 59.7h0M109.7 80.0h0M114.6 79.2h0M110.0 71.9h0M133.3 64.3h0M135.1 61.4h0M140.7 66.5h0M123.7 93.6h0M114.5 68.7h0M118.2 75.1h0M127.0 77.5h0M111.8 62.5h0M98.8 80.6h0M133.5 80.0h0M124.1 62.8h0M107.7 82.2h0M134.6 77.0h0M129.3 73.4h0M119.0 62.5h0M116.7 84.7h0M87.3 74.3h0M113.7 69.3h0M119.4 65.0h0M123.5 95.7h0M104.8 70.8h0M128.5 60.7h0M107.8 77.5h0M106.1 84.1h0M115.4 69.6h0M119.9 76.7h0M104.0 69.3h0M122.4 70.0h0M110.2 67.2h0M118.6 66.1h0M128.6 82.1h0M119.0 90.2h0M115.1 74.8h0M118.6 78.7h0M113.7 83.5h0M121.9 71.8h0M116.1 75.9h0M119.9 75.4h0M107.1 96.8h0M82.7 80.0h0M288.6 43.0h0M270.6 41.1h0M283.0 35.0h0M285.5 45.4h0M297.5 37.0h0M286.1 37.4h0M279.5 35.9h0M284.0 40.9h0M273.9 38.1h0M284.2 38.7h0M295.3 45.2h0M297.6 41.7h0M285.4 46.0h0M296.0 32.1h0M291.4 44.4h0M284.4 40.0h0M277.3 40.9h0M277.2 41.8h0M295.5 40.7h0M292.6 29.5h0M281.7 35.0h0M285.4 43.9h0M282.3 41.6h0M291.6 28.0h0M279.2 40.9h0M283.1 39.1h0M277.7 36.5h0M278.1 45.3h0M299.6 25.4h0M271.8 26.6h0M281.5 35.7h0M278.3 39.2h0M292.0 50.7h0M268.3 40.8h0M276.3 44.7h0M279.1 53.1h0M303.2 40.3h0M291.3 40.1h0M279.7 35.5h0M280.2 40.8h0M281.9 41.1h0M280.4 42.0h0M275.7 42.6h0M289.6 39.1h0M289.7 34.5h0M283.7 40.6h0M287.7 43.7h0M272.7 39.5h0M281.2 45.0h0M295.7 32.2h0M285.7 47.4h0M284.8 39.4h0M281.7 36.1h0M284.3 43.3h0M283.6 48.1h0M281.6 36.8h0M280.3 33.3h0M294.9 47.6h0M306.7 32.8h0M273.2 42.2h0M297.7 31.2h0M293.1 27.6h0M286.5 42.7h0M278.6 42.4h0M279.9 35.6h0M288.6 31.9h0M291.7 36.0h0M293.0 25.6h0M270.7 41.4h0M281.8 28.5h0M276.3 43.5h0M290.4 32.9h0M288.0 38.7h0M293.0 43.4h0M277.9 35.9h0M277.9 39.3h0M275.1 39.7h0M282.4 33.8h0M281.0 37.9h0M287.8 33.7h0M276.4 36.1h0M295.0 39.3h0M291.6 35.1h0M283.3 37.1h0M287.5 19.9h0M283.0 40.5h0M265.4 34.7h0M276.6 34.8h0M294.6 30.6h0M273.2 25.0h0M291.2 35.3h0M295.5 37.8h0M292.0 29.6h0M292.1 41.2h0M274.0 22.1h0M299.3 36.6h0M290.0 25.9h0M290.8 40.9h0M290.3 30.6h0M286.3 43.9h0M295.2 52.2h0M274.4 22.5h0M268.4 37.1h0M283.9 37.0h0M279.3 42.6h0M296.0 35.5h0M272.1 41.5h0M271.8 27.4h0M272.2 34.5h0M284.0 31.7h0M280.9 35.9h0M279.1 26.4h0M280.8 37.3h0M277.9 40.1h0M282.8 57.2h0M283.8 37.2h0M270.0 27.9h0M281.4 39.9h0M272.8 35.1h0M281.6 36.4h0M288.8 42.4h0M304.6 42.9h0M277.3 37.0h0M290.7 38.0h0M285.1 42.2h0M277.8 38.4h0M282.6 49.9h0M282.9 34.1h0M296.8 42.8h0M287.1 45.1h0M293.0 32.8h0M304.0 28.8h0M289.9 24.9h0M278.8 26.8h0M296.4 47.6h0M284.5 42.4h0M279.0 46.4h0M292.4 34.7h0M288.8 44.1h0M279.1 47.2h0M281.9 48.9h0M293.4 34.3h0M283.9 33.0h0M273.9 40.4h0M285.7 39.7h0M292.7 36.1h0M280.6 41.8h0M284.5 36.0h0M272.6 42.0h0M291.0 32.3h0M307.5 58.6h0M293.9 29.2h0M277.8 66.5h0M274.1 5.2h0M303.7 35.0h0M279.9 32.8h0M278.1 45.2h0M290.9 37.5h0M307.9 58.2h0M296.6 41.6h0M285.7 60.9h0M274.2 49.0h0M295.4 54.3h0M250.0 45.8h0M285.1 33.6h0M310.4 54.2h0M310.0 62.2h0M292.3 49.6h0M268.4 27.0h0M311.6 19.2h0M319.6 48.9h0M276.3 30.8h0M259.9 38.1h0M285.7 48.7h0M286.5 43.0h0M307.6 30.1h0M271.9 59.2h0M287.7 38.8h0M304.9 50.4h0M306.1 52.6h0M294.6 16.3h0M280.7 55.8h0M312.8 59.8h0M258.9 44.0h0M299.6 29.4h0M282.4 28.8h0M287.8 82.0h0M253.5 49.5h0M289.5 14.7h0M286.8 53.9h0M229.0 25.3h0M288.8 62.8h0M317.5 79.2h0M285.3 58.5h0M267.2 40.2h0M311.7 49.4h0M282.4 42.4h0M268.0 32.1h0M321.6 42.8h0M285.2 35.0h0M285.1 51.8h0M289.4 43.0h0M284.5 51.9h0M297.5 22.0h0M291.5 30.4h0M302.1 34.4h0M243.7 30.7h0M291.0 57.4h0M264.5 32.9h0M321.3 55.7h0M275.2 49.0h0M289.1 30.7h0M300.3 47.5h0M292.0 47.6h0M297.9 67.7h0M288.4 56.2h0M274.0 41.8h0M297.1 37.8h0M264.8 39.7h0M262.5 43.3h0M272.4 45.7h0M293.2 57.0h0M280.8 46.1h0M272.6 13.9h0M302.3 66.8h0M298.7 43.6h0M287.7 51.4h0M285.0 43.8h0M272.2 19.3h0M295.0 43.7h0M258.9 62.2h0M303.3 43.8h0M287.2 31.8h0M310.4 46.9h0M278.1 28.6h0M294.5 73.1h0M284.3 39.9h0M275.6 38.9h0M294.6 52.0h0M336.9 55.4h0M272.7 42.9h0M315.1 36.3h0M298.7 38.1h0M313.8 29.9h0M281.1 21.2h0M296.5 62.3h0M299.3 40.3h0M286.7 38.2h0M289.7 27.4h0M306.4 33.4h0M280.9 25.3h0M298.6 30.7h0M302.2 39.7h0M304.9 65.4h0M312.5 66.4h0M282.5 32.6h0M269.3 47.1h0M300.5 59.7h0M282.9 54.2h0M327.7 52.4h0M285.7 29.3h0M387.2 31.3h0M409.6 57.6h0M396.9 70.9h0M396.6 71.4h0M388.7 49.3h0M400.9 45.0h0M409.9 51.3h0M413.9 50.8h0M401.2 49.4h0M399.3 41.5h0M405.3 56.6h0M409.0 48.2h0M389.6 34.5h0M402.3 74.5h0M403.4 57.3h0M397.0 50.0h0M392.2 56.5h0M392.6 56.9h0M416.8 50.1h0M407.2 39.2h0M406.1 59.6h0M395.7 48.2h0M405.2 46.2h0M396.9 41.7h0M404.4 53.7h0M405.7 46.5h0M410.9 36.2h0M403.7 58.3h0M414.5 55.9h0M402.3 55.1h0M399.6 62.2h0M402.2 55.5h0M415.3 62.3h0M400.2 60.8h0M398.2 43.2h0M406.5 58.9h0M397.9 76.5h0M401.6 54.8h0M399.9 57.8h0M400.6 49.6h0M426.2 59.6h0M390.9 55.2h0M418.1 55.3h0M404.3 72.0h0M400.2 66.1h0M386.9 36.9h0M414.0 38.2h0M422.8 53.4h0M393.4 65.0h0M398.1 41.7h0M406.4 44.3h0M396.1 53.6h0M408.9 56.7h0M390.7 49.1h0M414.6 49.8h0M394.4 66.5h0M415.3 44.1h0M394.7 37.8h0M406.8 49.6h0M417.9 59.6h0M402.4 55.1h0M405.6 51.1h0M406.7 56.8h0M420.4 55.4h0M406.4 59.7h0M413.7 50.6h0M404.3 61.4h0M399.0 53.8h0M404.6 43.4h0M394.2 51.4h0M409.9 55.6h0M389.3 36.1h0M418.0 59.5h0M398.9 51.0h0M403.3 69.7h0M405.4 67.5h0M400.2 61.1h0M381.1 66.3h0M404.3 53.5h0M404.3 47.3h0M398.9 72.3h0M387.8 51.1h0M415.6 52.7h0M404.9 49.1h0M392.7 67.8h0M401.4 66.9h0M406.5 57.6h0M412.3 45.7h0M417.4 54.1h0M415.1 55.1h0M402.8 63.5h0M407.8 44.2h0M403.5 53.8h0M385.0 47.6h0M393.3 64.8h0M403.2 54.1h0M405.2 47.4h0M401.5 48.1h0M410.8 57.1h0M419.3 50.2h0M414.6 55.0h0M413.4 70.6h0M386.3 30.0h0M394.3 40.3h0M421.6 64.8h0M407.6 46.2h0M394.6 44.5h0M409.7 49.3h0M405.4 48.7h0M407.7 44.9h0M395.9 63.1h0M403.7 51.4h0M407.9 43.0h0M403.8 64.0h0M430.6 65.0h0M399.0 45.2h0M390.1 55.9h0M390.5 51.9h0M386.9 56.2h0M389.7 53.0h0M403.4 47.2h0M410.0 73.8h0M397.8 57.9h0M410.4 50.2h0M412.8 50.2h0M396.0 47.0h0M412.3 56.6h0M399.0 52.5h0M392.0 63.2h0M400.6 66.2h0M404.4 55.5h0M385.8 63.4h0M414.8 54.2h0M401.6 45.4h0M407.6 44.9h0M402.1 60.9h0M406.2 38.8h0M393.9 66.7h0M402.6 42.7h0M410.8 53.4h0M406.6 57.5h0M401.2 50.2h0M397.9 40.6h0M397.3 58.2h0M405.3 60.0h0M414.0 55.4h0M401.2 54.1h0M405.0 54.4h0M421.3 38.4h0M416.4 70.1h0M410.0 54.9h0M408.7 51.7h0M402.7 64.6h0M415.5 54.3h0M406.3 49.7h0M406.2 63.4h0M422.1 65.2h0M394.8 44.6h0M394.6 44.3h0M391.9 45.6h0M405.1 46.5h0M405.3 66.8h0M408.6 83.7h0M405.6 72.1h0M406.5 74.5h0M408.3 74.5h0M404.3 68.5h0M402.8 83.2h0M410.5 87.8h0M399.5 77.3h0M401.1 93.0h0M392.2 62.1h0M402.2 77.6h0M406.3 94.4h0M404.9 85.3h0M381.6 72.2h0M402.7 68.1h0M405.5 92.1h0M411.8 62.2h0M414.1 68.3h0M395.9 74.9h0M394.8 67.8h0M411.4 60.9h0M407.9 62.7h0M401.8 67.1h0M401.0 49.9h0M426.8 80.2h0M398.0 72.0h0M407.5 80.1h0M390.8 57.5h0M409.9 67.3h0M407.9 64.4h0M405.7 61.2h0M395.0 90.2h0M398.6 79.0h0M394.7 62.7h0M391.6 81.6h0M405.7 73.4h0M394.8 66.0h0M414.3 76.3h0M412.8 77.2h0M396.1 82.0h0M408.1 68.1h0M400.4 68.9h0M402.7 76.3h0M413.6 71.2h0M425.4 69.5h0M407.4 83.7h0M404.0 72.3h0M395.0 55.2h0M402.9 73.7h0M400.8 65.7h0M407.2 73.3h0M409.4 56.7h0M408.8 65.2h0M406.1 77.1h0M406.8 88.1h0M402.6 83.3h0M415.0 90.2h0M69.5 256.5h0M71.9 237.1h0M88.4 256.5h0M75.0 230.0h0M95.5 250.4h0M58.5 237.3h0M87.3 244.4h0M80.0 266.3h0M117.5 232.9h0M91.9 257.1h0M79.8 237.0h0M73.8 243.9h0M89.6 243.8h0M106.2 247.8h0M57.1 253.3h0M54.2 240.5h0M91.9 242.8h0M94.9 216.7h0M66.5 234.3h0M74.7 255.3h0M85.1 240.2h0M70.1 258.2h0M65.8 274.3h0M81.5 229.8h0M67.6 245.6h0M64.3 252.6h0M87.5 231.8h0M82.9 252.0h0M79.1 246.3h0M69.1 246.1h0M67.5 228.5h0M59.8 240.1h0M86.1 249.3h0M83.8 243.6h0M108.2 246.2h0M84.0 263.0h0M75.6 253.7h0M75.2 259.7h0M63.5 228.4h0M76.3 238.1h0M74.7 254.3h0M70.5 243.4h0M71.6 256.9h0M75.3 244.9h0M73.1 264.7h0M82.0 248.1h0M63.8 228.3h0M84.0 241.4h0M86.4 241.1h0M95.8 223.8h0M45.6 268.7h0M55.9 263.4h0M84.1 264.4h0M79.4 232.6h0M74.7 263.8h0M44.9 252.9h0M75.7 258.1h0M83.4 245.4h0M95.7 245.4h0M90.2 235.9h0M78.6 262.4h0M78.9 248.9h0M217.8 296.9h0M226.3 270.3h0M254.0 272.9h0M240.7 288.6h0M226.2 280.7h0M219.2 269.2h0M239.0 280.9h0M217.4 287.8h0M223.2 291.4h0M234.8 293.2h0M234.2 270.0h0M224.9 297.9h0M217.3 280.5h0M225.2 276.1h0M228.5 268.2h0M237.8 292.9h0M241.3 280.4h0M206.7 254.0h0M235.0 285.2h0M236.4 258.4h0M267.2 268.7h0M227.7 279.7h0M230.4 287.2h0M248.8 288.3h0M228.3 278.8h0M247.9 282.9h0M212.1 284.0h0M255.6 279.0h0M235.3 281.1h0M232.7 282.3h0M224.2 290.4h0M232.9 288.2h0M224.0 287.7h0M220.9 281.7h0M255.1 276.3h0M256.5 276.7h0M225.6 288.5h0M226.4 313.0h0M222.1 289.1h0M232.8 300.2h0M240.4 274.8h0M235.5 283.6h0M215.9 269.2h0M236.1 283.7h0M230.4 269.9h0M240.4 283.2h0M239.8 268.1h0M262.5 284.4h0M233.1 279.3h0M227.4 271.7h0M247.9 299.0h0M221.9 278.5h0M221.5 288.8h0M227.4 289.0h0M242.1 272.1h0M224.1 297.4h0M208.6 284.5h0M252.8 269.7h0M227.1 282.0h0M237.0 277.4h0M224.0 301.9h0M233.6 287.4h0M224.5 280.4h0M226.4 277.9h0M243.4 282.3h0M234.3 281.0h0M236.3 285.9h0M238.2 283.1h0M222.4 292.6h0M233.7 284.6h0M224.9 263.4h0M225.4 273.1h0M240.7 285.7h0M242.8 273.7h0M244.3 289.7h0M206.1 285.8h0M247.4 276.4h0M206.5 281.3h0M211.3 282.3h0M234.3 281.9h0M218.5 286.0h0M232.1 274.5h0M209.4 280.5h0M221.4 262.6h0M222.5 273.5h0M208.6 282.6h0M234.3 291.8h0M231.4 274.4h0M246.5 295.9h0M249.0 275.7h0M243.0 290.1h0M228.2 269.4h0M234.6 270.5h0M230.0 267.4h0M228.5 300.6h0M213.2 297.3h0M235.6 282.4h0M267.8 284.7h0M237.7 289.4h0M249.8 281.3h0M227.6 290.6h0M229.6 283.9h0M252.8 287.3h0M233.3 273.4h0M240.3 294.5h0M237.0 283.4h0M229.6 275.0h0M216.9 292.4h0M227.4 282.7h0M209.3 287.4h0M252.5 275.2h0M227.5 272.1h0M243.1 286.3h0M237.5 283.1h0M224.5 283.3h0M249.1 282.0h0M213.8 279.5h0M232.2 284.0h0M213.5 295.2h0M220.3 283.3h0M222.6 267.6h0M232.0 286.9h0M233.2 268.2h0M224.6 303.1h0M214.4 265.2h0M236.2 285.5h0M226.7 283.6h0M224.1 274.4h0M224.5 275.2h0M234.8 264.9h0M224.3 275.2h0M234.4 296.1h0M222.2 268.5h0M206.7 275.6h0M237.6 293.1h0M244.3 298.6h0M242.5 273.3h0M226.7 289.1h0M232.9 287.6h0M237.5 286.1h0M233.3 295.9h0M230.2 276.4h0M209.2 296.7h0M232.7 292.3h0M228.3 280.1h0M213.3 287.4h0M234.7 279.8h0M224.3 298.6h0M245.8 283.6h0M229.9 276.8h0M248.3 267.9h0M253.6 289.1h0M233.8 288.2h0M214.6 289.3h0M229.4 283.5h0M244.0 280.5h0M240.1 290.8h0M236.3 283.5h0M235.1 291.0h0M211.0 281.1h0M228.1 270.7h0M210.1 259.9h0M447.4 302.1h0M439.8 303.8h0M445.6 277.7h0M442.2 286.7h0M442.2 277.1h0M452.9 277.2h0M445.3 298.8h0M437.2 283.3h0M435.1 275.5h0M438.1 305.0h0M441.2 292.6h0M431.8 296.9h0M433.9 301.8h0M448.5 283.5h0M440.9 293.3h0M437.3 310.8h0M442.4 294.9h0M434.6 304.0h0M449.7 272.9h0M450.9 286.7h0M451.6 283.0h0M426.2 303.1h0M444.0 276.5h0M436.8 274.9h0M438.8 306.2h0M433.3 291.3h0M443.7 288.7h0M444.4 294.5h0M440.5 310.6h0M439.9 290.9h0M447.2 298.1h0M440.9 288.3h0M449.6 283.3h0M432.9 311.9h0M448.7 285.1h0M443.6 287.9h0M437.9 284.0h0M429.7 292.2h0M427.2 290.2h0M435.6 301.1h0M438.6 274.0h0M445.7 271.9h0M436.8 272.9h0M437.6 280.8h0M435.8 289.8h0M441.3 291.0h0M452.7 299.8h0M438.5 282.6h0M438.2 300.0h0M445.5 262.1h0M432.9 300.1h0M447.5 309.9h0M440.4 279.7h0M430.8 312.2h0M457.7 283.1h0M438.4 290.3h0M449.1 311.3h0M451.4 299.3h0M438.7 289.9h0M450.8 277.8h0M444.2 304.3h0M435.7 269.2h0M438.7 275.7h0M448.2 304.7h0M449.8 286.3h0M441.5 291.8h0M436.9 301.4h0M452.8 311.4h0M438.3 289.2h0M443.8 291.3h0M451.5 301.6h0M436.0 293.5h0M439.1 279.0h0M446.6 298.2h0M439.4 312.5h0M444.3 307.1h0M432.6 279.5h0M450.4 299.8h0M443.2 269.0h0M453.2 277.9h0M436.1 290.9h0M440.6 306.3h0M459.4 294.4h0M442.0 262.7h0M429.6 278.9h0M445.2 295.7h0M449.4 297.5h0M437.9 302.3h0M441.3 285.9h0M438.1 291.6h0M436.7 270.7h0M443.5 294.6h0M439.5 310.6h0M441.1 287.7h0M441.8 299.0h0M437.4 282.4h0M432.3 289.7h0M437.6 298.9h0M435.6 304.6h0M436.0 295.9h0M451.1 313.2h0M441.5 299.6h0M448.6 302.2h0M448.0 290.2h0M447.4 304.1h0M436.8 286.8h0M425.5 289.3h0M447.4 288.4h0M440.4 267.0h0M446.8 299.5h0M438.8 297.4h0M444.2 292.6h0M449.5 284.0h0M434.7 305.6h0M449.7 297.5h0M444.8 283.2h0M437.5 285.3h0M433.4 294.9h0M439.1 307.2h0M445.0 277.2h0M440.7 295.7h0M453.6 296.3h0M444.9 305.6h0M441.5 296.9h0M428.5 277.9h0M439.9 305.4h0M451.2 293.1h0M439.2 302.5h0M432.7 279.0h0M430.4 288.9h0M450.0 302.0h0M431.4 273.5h0M452.9 285.3h0M441.3 292.7h0M439.1 287.3h0M437.6 273.3h0M449.0 284.5h0M444.4 282.3h0M441.7 299.4h0M444.8 270.8h0M442.0 294.8h0M452.8 305.8h0M443.9 267.9h0M431.8 306.0h0M439.4 294.3h0M436.1 262.3h0M447.6 306.7h0M434.6 298.4h0M438.4 295.0h0M445.5 289.6h0M435.1 293.6h0M438.5 274.7h0M455.2 302.4h0M446.5 294.8h0M442.7 306.4h0M426.9 279.8h0M435.0 296.6h0M443.0 307.3h0M448.0 275.0h0M443.1 306.1h0M440.3 306.7h0M431.6 280.0h0M437.8 296.5h0M436.3 308.9h0M434.2 299.5h0M436.2 300.5h0M451.9 287.2h0M426.5 303.1h0M437.4 307.9h0M447.5 293.9h0M439.9 296.0h0M445.2 293.1h0M440.9 289.9h0M437.0 296.8h0M442.4 308.1h0M439.9 283.4h0M451.6 296.2h0M439.3 290.9h0M437.4 308.0h0M444.9 291.5h0M434.0 277.0h0M440.6 294.2h0M434.6 304.2h0M446.3 282.1h0M443.3 285.7h0M442.1 302.2h0M440.6 297.6h0M445.7 293.3h0M441.5 291.7h0M454.0 294.4h0M445.3 272.1h0M448.6 285.7h0M437.1 309.4h0M436.6 305.2h0M440.3 304.3h0M438.9 290.0h0M433.0 310.7h0M449.1 296.5h0M437.2 311.9h0M456.3 305.4h0M426.7 300.1h0M444.0 312.7h0M431.7 292.0h0M442.2 297.6h0M434.7 283.5h0M445.6 299.3h0M429.4 296.0h0M454.3 273.4h0M450.5 256.0h0M451.0 303.1h0M444.6 291.2h0M441.7 278.0h0M435.2 284.7h0M444.8 295.1h0M438.2 274.8h0M438.9 296.8h0"/>
<path fill="none" stroke="#16168a" stroke-width="1.6" stroke-linecap="square" d="M69.2 90.7h0M82.2 94.0h0M66.7 92.7h0M83.1 101.6h0M67.7 102.2h0M46.4 99.5h0M82.8 94.7h0M68.6 95.3h0M74.1 95.8h0M95.3 91.4h0M73.9 95.0h0M67.5 94.9h0M53.1 104.0h0M73.6 99.4h0M70.3 96.9h0M70.3 98.7h0M76.9 99.1h0M68.4 97.4h0M92.7 97.0h0M56.7 98.3h0M73.5 91.1h0M84.0 97.3h0M64.6 98.4h0M72.9 99.8h0M55.9 88.7h0M60.7 104.6h0M66.2 98.2h0M225.4 41.7h0M247.6 55.7h0M245.2 62.4h0M225.5 49.1h0M203.0 62.2h0M223.1 44.0h0M224.1 51.4h0M218.8 48.9h0M254.4 26.2h0M258.3 36.7h0M232.1 40.1h0M223.9 43.5h0M257.9 55.0h0M255.2 40.3h0M224.8 42.7h0M241.0 45.1h0M244.9 45.1h0M281.1 36.8h0M252.3 29.1h0M246.5 63.1h0M220.8 44.4h0M246.6 42.7h0M221.6 48.7h0M232.3 45.0h0M223.0 45.7h0M282.9 87.9h0M286.4 23.6h0M310.7 59.3h0M461.7 114.7h0M468.6 112.0h0M468.5 100.5h0M457.5 99.1h0M468.0 105.2h0M465.2 111.4h0M464.4 115.7h0M472.2 115.5h0M456.5 116.6h0M458.8 119.8h0M458.9 117.6h0M463.8 127.0h0M478.0 114.4h0M460.8 73.7h0M443.4 110.8h0M99.7 232.8h0M92.6 228.2h0M99.8 226.3h0M94.5 227.5h0M103.2 215.5h0M90.9 220.5h0M93.9 225.7h0M104.5 226.3h0M105.1 216.5h0M102.9 234.2h0M116.3 211.9h0M100.4 225.6h0M109.8 210.5h0M71.9 237.0h0M119.2 226.5h0M72.5 218.6h0M89.3 216.7h0M93.7 221.0h0M79.7 211.0h0M74.9 221.6h0M93.9 214.8h0M89.4 215.6h0M80.1 221.7h0M81.3 224.3h0M70.6 226.9h0M91.3 212.4h0M77.7 209.3h0M90.0 209.0h0M103.2 221.7h0M88.6 211.7h0M82.1 232.7h0M93.4 211.3h0M99.2 211.7h0M92.0 233.8h0M95.0 225.8h0M92.4 220.4h0M75.4 203.5h0M81.0 221.7h0M285.5 303.1h0M291.6 268.2h0M290.8 283.5h0M284.1 292.2h0M290.5 270.1h0M286.3 298.3h0M289.9 287.9h0M294.1 280.7h0M295.3 279.3h0M292.7 286.6h0M287.0 295.6h0M284.7 294.0h0M300.3 294.2h0M288.2 301.1h0M293.7 277.1h0M288.0 292.1h0M294.3 300.5h0M287.4 300.0h0M292.6 307.9h0M288.6 309.0h0M288.5 286.7h0M289.0 297.9h0M291.1 294.7h0M297.5 297.7h0M293.5 303.7h0M287.1 289.5h0M302.7 281.6h0M293.8 299.8h0M294.9 297.2h0M288.9 274.3h0M296.9 284.5h0M294.2 304.0h0M291.8 312.6h0M290.4 302.9h0M285.6 297.4h0M283.5 306.5h0M283.9 290.9h0M293.7 293.6h0M293.4 290.2h0"/>
<path fill="none" stroke="#2222cc" stroke-width="1.6" stroke-linecap="square" d="M75.1 101.2h0M90.5 101.5h0M64.3 96.0h0M83.4 102.1h0M85.0 101.9h0M72.9 91.0h0M79.6 94.0h0M93.8 99.5h0M78.0 98.7h0M85.8 94.3h0M76.0 94.8h0M78.7 99.0h0M64.6 100.8h0M82.7 90.2h0M90.9 99.1h0M76.1 101.0h0M76.6 95.8h0M74.0 93.2h0M79.0 101.1h0M66.4 94.5h0M81.7 98.9h0M60.1 101.5h0M87.9 102.1h0M82.9 96.4h0M81.3 88.8h0M88.2 98.9h0M69.5 96.0h0M83.1 95.0h0M91.8 101.6h0M86.7 94.1h0M84.1 103.3h0M78.0 103.1h0M79.5 100.2h0M81.3 90.5h0M83.0 103.9h0M93.7 97.6h0M66.4 98.1h0M77.9 98.3h0M72.8 104.6h0M64.3 91.4h0M89.9 94.8h0M71.5 96.1h0M81.2 100.1h0M84.1 100.2h0M85.8 92.5h0M73.5 100.9h0M82.3 100.8h0M79.2 90.0h0M84.5 102.5h0M94.4 98.8h0M71.1 95.4h0M94.7 100.4h0M66.9 96.7h0M91.4 93.7h0M69.3 99.5h0M88.4 101.0h0M77.2 96.0h0M89.0 105.5h0M70.4 99.1h0M72.8 99.6h0M72.4 97.8h0M79.5 94.8h0M85.3 95.7h0M66.2 97.8h0M81.3 102.2h0M73.7 93.9h0M87.6 94.5h0M66.7 93.2h0M62.5 97.2h0M80.4 103.8h0M68.7 101.7h0M86.0 102.6h0M93.0 93.6h0M92.1 99.7h0M84.9 95.7h0M90.0 94.6h0M71.9 105.0h0M76.6 102.4h0M91.5 98.8h0M77.5 97.5h0M90.8 97.0h0M72.1 93.4h0M82.2 92.7h0M82.4 97.1h0M77.0 95.2h0M92.5 104.4h0M75.1 92.4h0M87.9 92.5h0M88.4 99.7h0M70.1 103.1h0M71.3 91.3h0M74.1 104.6h0M71.8 102.6h0M94.6 100.5h0M84.7 93.1h0M93.6 97.3h0M81.7 93.8h0M76.5 105.3h0M85.2 92.6h0M70.0 95.2h0M69.7 104.9h0M86.5 99.9h0M82.3 91.5h0M77.9 104.0h0M91.4 90.7h0M80.2 103.8h0M78.5 97.5h0M86.6 91.3h0M82.6 92.5h0M95.1 106.4h0M64.8 100.5h0M74.3 91.5h0M66.2 90.4h0M92.8 93.9h0M74.5 101.3h0M90.8 106.7h0M80.1 103.0h0M82.4 93.5h0M72.8 103.5h0M83.8 102.0h0M86.2 94.2h0M74.5 102.5h0M87.9 94.9h0M68.6 95.5h0M72.5 103.1h0M86.0 100.5h0M85.5 96.5h0M85.5 93.1h0M87.4 98.5h0M66.4 99.0h0M71.9 96.5h0M62.6 97.0h0M84.7 99.4h0M74.9 98.0h0M77.0 98.1h0M91.5 93.0h0M80.8 95.1h0M72.5 94.9h0M69.8 101.6h0M80.1 93.9h0M80.8 98.0h0M86.4 102.0h0M82.8 91.4h0M80.8 100.3h0M71.0 96.2h0M86.2 96.7h0M89.3 103.1h0M69.2 97.1h0M77.8 98.5h0M96.5 94.1h0M57.8 91.9h0M82.2 94.3h0M79.1 105.0h0M74.4 99.1h0M81.6 99.8h0M72.1 88.8h0M83.9 95.2h0M87.5 99.4h0M87.8 95.3h0M81.0 101.4h0M88.4 92.7h0M93.1 93.0h0M81.0 89.7h0M73.6 97.9h0M76.0 98.4h0M86.8 96.9h0M70.6 89.7h0M76.3 106.9h0M62.4 102.6h0M69.6 100.2h0M92.1 94.5h0M78.4 91.3h0M77.9 93.5h0M89.9 99.0h0M76.5 103.3h0M68.5 96.7h0M75.5 90.5h0M81.2 98.5h0M240.4 62.1h0M250.7 57.0h0M223.0 54.2h0M233.3 54.2h0M233.6 47.9h0M216.1 63.8h0M226.8 52.3h0M247.5 47.3h0M243.4 49.3h0M228.5 50.3h0M231.8 56.2h0M246.9 58.2h0M232.1 43.5h0M223.8 52.8h0M220.3 54.2h0M232.5 49.1h0M219.3 61.5h0M223.1 60.0h0M234.3 56.2h0M235.4 51.8h0M233.6 52.2h0M229.2 63.4h0M233.4 52.5h0M229.7 56.6h0M229.3 69.3h0M235.1 52.6h0M234.0 58.6h0M232.7 54.4h0M230.8 46.8h0M223.6 47.2h0M223.2 53.8h0M228.3 57.7h0M216.5 56.9h0M244.4 54.6h0M236.2 54.6h0M225.3 47.4h0M228.4 57.8h0M225.8 56.8h0M250.2 52.7h0M224.7 51.8h0M223.9 55.6h0M215.0 60.6h0M226.3 54.1h0M207.2 52.2h0M217.5 49.4h0M236.0 52.4h0M232.8 50.4h0M238.3 65.0h0M213.9 54.6h0M231.4 63.8h0M236.8 62.3h0M236.2 44.9h0M236.8 48.1h0M242.6 56.1h0M213.2 50.6h0M251.2 47.4h0M224.9 50.0h0M228.6 42.6h0M237.2 51.0h0M230.9 53.6h0M252.8 55.5h0M209.1 54.9h0M217.1 52.4h0M224.3 50.4h0M238.2 54.0h0M232.6 52.4h0M241.0 55.2h0M219.1 47.8h0M220.5 53.7h0M232.0 59.2h0M246.2 55.2h0M240.5 49.8h0M238.5 45.4h0M233.8 53.0h0M227.4 61.6h0M225.9 54.2h0M225.4 57.6h0M238.6 56.0h0M236.9 50.9h0M230.7 46.0h0M237.3 55.8h0M236.7 50.3h0M242.7 46.5h0M241.6 52.4h0M227.9 47.1h0M236.9 55.3h0M224.1 60.8h0M227.4 46.7h0M224.4 55.0h0M223.4 59.5h0M236.0 59.1h0M236.4 54.4h0M238.6 54.9h0M217.7 57.2h0M234.0 54.6h0M242.6 39.1h0M239.5 43.3h0M241.1 42.4h0M260.7 46.3h0M231.3 51.5h0M232.9 41.5h0M241.9 47.6h0M239.7 47.3h0M239.3 41.9h0M265.5 35.6h0M275.0 25.1h0M233.8 43.0h0M240.0 57.7h0M213.1 45.5h0M245.4 37.0h0M230.1 51.5h0M226.6 45.6h0M228.1 48.4h0M242.1 28.1h0M237.4 33.4h0M230.8 46.4h0M243.1 44.4h0M238.8 50.7h0M237.8 31.9h0M249.8 51.2h0M242.7 39.3h0M260.1 37.5h0M225.8 53.3h0M244.7 47.3h0M258.2 36.5h0M232.2 35.9h0M245.6 32.4h0M240.1 43.1h0M251.9 42.7h0M253.3 39.0h0M269.2 26.6h0M266.2 39.8h0M260.8 41.3h0M231.4 39.8h0M232.2 33.8h0M273.1 28.6h0M222.9 40.5h0M230.1 45.9h0M233.8 33.2h0M256.9 37.4h0M254.3 30.7h0M222.1 35.3h0M231.4 50.0h0M246.3 29.5h0M231.9 71.7h0M239.3 49.9h0M258.2 25.2h0M250.9 43.5h0M247.7 40.9h0M255.7 51.6h0M242.9 42.3h0M240.5 43.4h0M221.0 54.3h0M264.9 30.7h0M253.5 35.0h0M246.9 32.7h0M226.2 49.5h0M248.8 41.6h0M392.6 64.9h0M392.5 70.3h0M391.2 57.8h0M385.5 60.2h0M390.0 56.4h0M395.0 66.0h0M398.6 65.8h0M386.9 59.6h0M402.0 55.7h0M401.0 53.8h0M395.9 58.9h0M409.1 62.3h0M393.9 61.7h0M407.9 38.6h0M409.2 55.9h0M409.5 73.5h0M404.3 52.1h0M396.2 72.1h0M398.0 70.0h0M393.0 56.3h0M387.9 53.4h0M387.5 63.5h0M401.6 58.2h0M397.0 47.0h0M399.2 59.5h0M396.7 52.9h0M397.2 77.3h0M393.0 56.7h0M400.6 67.2h0M390.8 51.4h0M395.5 66.5h0M399.5 41.4h0M399.3 53.9h0M390.0 46.5h0M399.3 52.1h0M397.6 66.6h0M406.1 52.9h0M382.0 61.0h0M390.1 61.6h0M401.5 55.8h0M391.2 67.6h0M401.5 55.2h0M395.7 57.1h0M396.1 45.5h0M403.9 59.3h0M386.7 54.5h0M394.0 62.3h0M397.1 63.6h0M387.0 77.1h0M394.7 61.4h0M395.7 54.9h0M398.2 58.4h0M397.6 56.2h0M400.6 68.3h0M399.9 49.3h0M394.2 55.1h0M403.4 63.2h0M402.3 59.3h0M390.5 62.5h0M390.6 56.8h0M383.9 49.5h0M398.9 60.1h0M391.6 67.3h0M392.6 50.6h0M386.2 46.1h0M403.7 52.4h0M404.3 53.7h0M391.6 48.2h0M401.9 64.3h0M406.6 60.1h0M399.3 57.2h0M388.8 54.5h0M392.7 50.4h0M406.4 62.6h0M397.2 64.3h0M391.5 63.5h0M399.6 59.3h0M384.1 64.6h0M388.4 54.3h0M463.4 112.6h0M466.4 107.6h0M474.6 89.5h0M466.1 109.3h0M466.0 99.9h0M466.4 116.6h0M463.7 105.7h0M464.2 108.5h0M465.7 104.9h0M467.5 103.2h0M472.0 99.5h0M469.2 104.9h0M463.5 104.8h0M467.5 106.2h0M463.3 104.0h0M465.7 110.1h0M465.4 102.8h0M468.2 94.7h0M461.6 114.2h0M466.9 103.4h0M462.7 126.8h0M468.7 105.9h0M463.9 108.8h0M461.2 105.3h0M465.4 113.2h0M470.0 98.2h0M462.8 113.1h0M465.2 110.4h0M108.3 222.1h0M90.4 213.7h0M113.0 208.5h0M106.3 233.4h0M97.6 210.2h0M120.3 207.9h0M113.6 220.3h0M123.1 215.7h0M120.9 200.9h0M95.9 217.1h0M127.7 215.5h0M127.1 220.2h0M120.1 220.1h0M121.6 215.6h0M108.6 214.3h0M101.9 221.5h0M111.9 219.2h0M133.8 224.3h0M112.7 205.2h0M105.8 216.3h0M120.5 211.4h0M108.3 217.6h0M121.7 209.7h0M102.1 217.9h0M122.6 222.0h0M107.5 214.6h0M105.8 221.9h0M102.4 220.9h0M107.2 213.8h0M102.7 218.4h0M107.9 205.6h0M110.1 215.9h0M114.6 221.7h0M108.6 215.0h0M112.7 218.4h0M115.3 217.2h0M140.6 207.1h0M110.6 217.4h0M107.5 224.6h0M98.5 222.1h0M121.5 226.6h0M112.0 206.3h0M105.5 214.3h0M118.8 216.4h0M126.1 222.5h0M119.1 223.1h0M129.0 219.2h0M113.4 228.3h0M106.3 218.7h0M114.8 224.0h0M122.9 218.6h0M116.0 224.7h0M115.4 209.0h0M115.7 226.0h0M113.1 210.9h0M102.3 211.0h0M108.1 226.4h0M127.9 212.5h0M121.7 211.1h0M104.5 224.2h0M123.7 214.0h0M124.3 222.8h0M123.3 208.2h0M115.2 221.8h0M135.0 215.1h0M113.9 206.1h0M116.7 209.6h0M99.6 209.5h0M112.8 212.2h0M113.8 218.7h0M115.2 214.5h0M136.3 204.5h0M121.7 215.6h0M110.2 217.5h0M121.9 208.6h0M122.3 225.2h0M121.9 218.0h0M116.3 215.4h0M102.8 213.9h0M104.7 223.9h0M103.6 217.3h0M127.1 213.2h0M128.8 216.1h0M122.3 204.1h0M116.2 206.5h0M123.0 209.2h0M113.6 209.7h0M114.6 212.9h0M117.0 222.1h0M108.9 210.4h0M129.8 218.6h0M121.7 221.9h0M133.6 210.7h0M100.0 220.6h0M107.1 220.5h0M95.8 221.7h0M103.4 223.4h0M131.5 209.3h0M113.8 219.2h0M130.0 218.6h0M120.8 207.0h0M118.8 219.8h0M133.1 225.2h0M114.3 206.8h0M110.1 226.5h0M90.8 219.2h0M113.8 203.9h0M115.7 225.7h0M111.7 220.3h0M122.6 204.5h0M121.8 212.2h0M133.6 215.3h0M113.7 225.0h0M123.4 203.1h0M114.3 215.9h0M120.5 217.4h0M120.4 213.7h0M137.2 205.3h0M113.8 223.3h0M119.3 211.6h0M134.3 209.6h0M107.2 214.1h0M123.9 204.1h0M130.8 204.0h0M124.7 217.5h0M124.3 211.3h0M125.0 215.0h0M125.0 212.0h0M127.8 209.1h0M119.0 209.7h0M116.2 208.8h0M112.1 201.8h0M126.9 218.3h0M122.5 217.1h0M124.5 217.5h0M101.8 217.2h0M93.3 215.3h0M107.5 210.9h0M111.9 221.5h0M112.0 208.7h0M110.2 213.9h0M121.5 218.1h0M117.1 210.6h0M112.2 219.6h0M118.5 214.1h0M122.7 222.9h0M131.1 214.4h0M98.3 227.0h0M104.3 225.2h0M122.1 211.5h0M119.1 222.4h0M119.9 209.6h0M115.2 212.7h0M107.3 212.1h0M126.5 210.9h0M102.6 209.4h0M119.4 213.8h0M104.9 224.0h0M123.0 221.8h0M121.5 207.8h0M117.5 213.7h0M126.5 206.9h0M299.1 270.6h0M295.4 272.0h0M293.7 274.2h0M277.5 268.1h0M300.0 285.0h0M289.0 282.4h0M280.9 273.0h0M281.0 277.3h0M291.8 280.6h0M293.8 295.3h0M282.6 273.9h0M281.4 274.3h0M282.1 277.1h0M287.9 282.7h0M288.1 277.5h0M304.1 272.1h0M299.3 285.8h0M279.8 277.0h0M291.5 281.2h0M293.0 285.8h0M296.1 271.5h0M299.9 289.9h0M289.4 275.1h0M286.4 286.1h0M289.8 281.2h0M309.1 268.2h0M294.4 265.7h0M299.2 282.7h0M281.9 274.6h0M295.0 287.4h0M306.1 279.8h0M294.3 283.0h0M281.8 271.3h0M284.6 272.5h0M290.0 284.3h0M295.4 276.0h0M301.9 276.0h0M295.0 285.3h0M293.7 288.9h0M294.3 270.1h0M304.9 299.2h0M292.4 270.8h0M296.3 273.0h0M286.4 275.7h0M294.5 263.4h0M287.2 276.3h0M289.5 275.6h0M284.6 298.1h0M290.0 275.6h0M297.7 276.3h0M289.5 282.8h0M302.5 286.5h0M284.1 278.3h0M289.4 288.9h0M294.9 283.6h0M303.0 281.5h0M300.2 282.8h0M289.3 281.6h0M291.2 288.0h0M287.6 298.9h0M287.5 279.5h0M281.9 275.0h0M291.5 280.7h0M289.4 289.2h0M303.9 280.8h0M284.3 281.7h0M301.3 289.9h0M295.0 279.4h0M291.6 278.0h0M292.6 269.2h0M303.1 289.4h0M286.1 277.9h0M281.1 280.4h0M288.6 276.6h0M302.9 277.7h0M290.8 283.2h0M302.2 273.0h0M283.3 275.5h0M294.5 278.9h0M289.4 283.4h0M287.5 281.6h0M293.9 276.6h0M285.2 278.2h0M286.3 275.5h0M293.5 286.4h0M293.4 281.3h0M302.2 285.0h0M283.8 277.1h0M286.8 264.9h0M281.2 274.8h0M297.9 276.0h0M283.8 289.2h0M284.8 293.5h0M294.0 276.1h0M298.6 280.6h0M291.2 286.4h0M287.8 279.2h0M294.4 273.6h0M293.0 286.2h0M286.7 270.3h0M293.3 285.6h0M305.1 283.5h0M290.6 288.6h0M293.9 268.6h0M283.7 282.7h0M303.9 283.3h0M303.5 285.6h0M294.1 281.7h0M301.8 278.4h0M288.1 285.6h0M287.4 283.2h0M289.6 276.2h0M300.7 267.1h0M305.2 280.2h0M295.7 261.4h0M286.3 261.0h0M286.2 272.1h0M284.0 274.8h0M291.2 274.4h0M298.3 272.4h0M285.9 286.2h0M285.4 288.5h0M294.9 274.7h0M287.6 281.6h0M287.5 276.1h0M292.1 273.9h0M294.7 276.8h0M290.7 280.2h0M287.9 284.5h0M293.2 267.1h0M294.8 267.6h0M286.5 276.7h0M294.9 282.7h0M290.4 284.9h0M294.8 282.7h0M296.1 277.8h0M292.9 278.9h0M283.2 272.1h0M293.9 269.0h0M288.9 273.9h0M288.3 293.2h0M293.0 267.8h0M294.4 278.3h0M287.4 286.3h0M290.3 272.0h0M280.6 280.7h0M281.4 278.5h0M288.8 277.0h0M289.3 289.7h0M293.2 262.7h0M478.1 270.0h0M469.1 293.6h0M474.6 288.2h0M471.3 299.1h0M465.8 291.2h0M469.2 296.0h0M467.1 308.4h0M470.3 285.7h0M471.1 301.6h0M474.1 312.7h0M472.3 281.9h0M468.0 294.9h0M468.0 299.5h0M472.8 290.3h0M469.9 275.5h0M472.8 290.2h0M471.5 273.4h0M488.9 293.8h0M473.8 308.8h0M470.8 277.0h0M479.8 271.8h0M475.8 313.4h0M480.1 283.0h0M472.8 285.2h0M468.2 298.9h0M481.5 305.4h0M474.2 287.2h0M469.8 284.4h0M482.7 299.7h0M478.1 291.6h0M472.2 286.8h0M469.0 306.8h0M474.7 290.3h0M470.4 301.2h0M477.0 292.3h0M474.5 292.5h0M468.0 297.0h0M472.1 288.5h0M477.5 291.4h0M485.3 282.7h0M476.3 294.0h0M478.2 297.0h0M477.6 298.1h0M483.0 285.6h0M482.1 291.0h0M479.9 299.4h0M477.7 285.2h0M473.3 287.1h0M471.4 273.2h0M470.8 301.3h0M474.4 283.1h0M471.6 306.9h0M472.4 279.4h0M477.3 303.7h0M479.2 291.0h0M468.4 293.6h0M476.5 311.7h0M478.8 278.7h0M479.4 297.8h0M475.3 278.9h0M475.9 279.9h0M471.5 280.7h0M481.5 286.2h0M472.6 267.0h0M475.0 277.2h0M471.0 304.0h0M471.4 304.9h0M472.7 312.6h0M474.3 302.6h0M481.0 282.6h0M470.7 291.5h0M478.8 301.1h0M481.9 284.0h0M483.5 306.6h0M465.6 298.2h0M473.1 290.8h0M467.5 283.6h0M480.1 302.0h0M467.6 307.0h0M474.9 296.2h0M477.6 259.1h0M478.8 282.4h0M459.0 305.4h0M470.6 284.7h0M470.7 278.0h0M478.9 290.6h0M473.9 289.7h0M468.2 263.5h0M483.3 282.2h0M471.1 294.3h0M478.8 292.4h0M469.5 300.4h0M474.5 270.5h0M481.8 294.4h0M474.9 291.5h0M484.0 282.1h0M487.6 271.0h0M465.2 288.8h0M476.1 299.0h0M476.6 304.9h0M479.5 281.4h0M464.5 280.9h0M478.4 288.0h0M479.2 270.1h0M485.4 289.2h0M459.3 292.8h0M478.1 276.7h0M483.1 304.4h0M472.0 288.0h0M470.6 289.0h0M472.9 286.2h0M475.9 298.3h0M480.0 276.6h0M471.0 295.6h0M484.0 295.7h0M472.3 284.6h0M478.6 273.4h0M469.0 291.3h0M473.5 305.6h0M466.3 284.0h0M468.5 272.7h0M478.5 298.8h0M478.2 291.9h0M467.3 276.9h0M477.1 309.4h0M477.1 310.4h0M466.4 301.0h0M467.1 302.5h0M472.9 300.0h0M480.2 284.7h0M471.7 294.5h0M474.5 284.0h0M480.2 263.6h0M472.6 296.0h0M477.1 300.3h0M469.1 297.2h0M476.9 280.1h0M474.9 290.4h0M474.6 297.2h0M480.0 284.6h0M472.0 313.2h0M471.9 289.6h0M469.7 281.2h0M484.0 287.1h0M477.3 267.7h0M474.4 304.1h0M480.1 265.0h0M466.4 306.9h0M490.6 275.2h0M467.7 275.9h0M480.5 291.3h0M481.0 294.5h0M472.7 298.3h0M473.7 266.4h0M476.4 296.4h0M467.9 282.1h0M464.5 284.5h0M472.3 291.0h0M470.8 292.4h0M485.7 271.7h0M480.4 287.8h0M477.1 293.7h0M473.0 293.1h0M471.7 288.6h0M476.6 305.2h0M480.9 286.1h0M471.3 289.2h0M468.1 268.1h0M475.0 295.4h0M474.3 280.7h0M471.1 293.6h0M479.3 302.3h0M465.7 308.2h0M470.1 273.2h0M477.6 284.6h0M479.6 285.5h0M467.7 272.1h0M483.9 308.7h0M475.5 296.9h0M477.6 284.8h0M474.4 304.8h0M470.1 272.5h0M469.1 300.2h0M479.9 286.1h0M480.5 292.1h0M467.7 303.4h0M460.5 286.5h0M477.7 294.6h0M476.7 308.8h0M464.1 312.4h0M480.5 295.3h0M470.4 293.4h0M483.2 284.3h0M480.2 300.6h0M471.4 312.2h0"/>
<path fill="none" stroke="#1d4a35" stroke-width="1.6" stroke-linecap="square" d="M67.7 82.9h0M70.9 86.6h0M70.5 86.5h0M67.7 86.2h0M69.6 89.3h0M67.5 82.3h0M70.7 87.3h0M62.7 87.2h0M63.7 87.6h0M64.0 81.8h0M65.8 90.5h0M68.2 87.5h0M69.1 89.4h0M57.3 85.6h0M62.3 85.0h0M67.7 89.4h0M65.8 85.0h0M297.4 97.7h0M298.9 92.4h0M305.0 115.0h0M295.4 93.4h0M305.0 120.9h0M300.2 117.0h0M301.3 104.0h0M290.0 92.8h0M293.0 97.0h0M300.3 110.3h0M298.7 87.4h0M285.8 85.5h0M297.2 91.7h0M399.7 123.6h0M398.2 104.7h0M398.8 124.7h0M409.4 110.0h0M383.5 88.6h0M390.2 111.4h0M391.6 128.2h0M399.8 120.4h0M400.7 115.5h0M418.7 105.9h0M402.9 112.9h0M412.5 132.9h0M404.0 111.2h0M400.6 108.6h0M404.9 117.3h0M397.0 120.6h0M394.2 124.5h0M408.8 130.3h0M393.4 117.2h0M400.6 128.7h0M404.2 108.2h0M411.4 104.3h0M405.4 109.0h0M415.9 128.7h0M392.0 116.3h0M53.6 304.7h0M53.6 290.6h0M34.7 302.2h0M51.5 301.1h0M50.5 304.7h0M48.4 285.8h0M55.1 276.9h0M67.4 294.3h0M52.2 297.6h0M50.4 299.7h0M36.5 285.3h0M56.9 306.3h0M57.3 300.0h0M50.2 295.3h0M29.7 284.1h0M54.2 299.5h0M41.5 304.1h0M32.7 288.7h0M49.9 282.6h0M49.5 289.3h0M212.2 306.1h0M228.4 307.1h0M233.1 296.2h0M217.1 288.7h0M217.7 268.9h0M204.5 296.6h0M213.7 280.5h0M234.5 294.8h0M213.7 307.0h0M229.2 298.9h0M239.0 283.3h0M206.0 282.6h0M210.4 306.1h0M216.2 302.4h0M226.3 294.3h0M225.9 300.9h0M215.0 297.7h0M204.6 302.4h0M211.6 288.8h0M221.8 282.3h0M220.1 307.2h0M220.2 292.1h0M216.8 298.0h0M416.3 292.5h0M417.7 283.1h0M416.6 298.2h0M424.7 306.8h0M418.8 310.4h0M404.3 305.2h0M413.7 286.9h0M425.2 302.1h0M415.0 310.7h0M416.1 295.9h0M424.1 301.9h0M438.0 289.2h0M416.5 276.6h0M421.3 297.0h0M408.9 306.3h0M414.0 305.6h0M422.8 297.5h0M408.2 297.3h0M424.3 305.8h0M415.8 290.0h0M423.3 302.1h0M429.4 313.8h0M421.1 279.9h0M419.9 291.7h0M415.5 283.3h0M414.5 305.5h0M413.4 313.7h0M415.3 282.6h0M417.8 301.4h0M407.0 287.7h0M413.3 296.2h0M427.0 293.7h0M425.6 291.8h0M417.9 294.4h0M413.3 301.7h0M422.7 286.9h0M420.0 309.0h0M422.5 301.2h0M419.7 296.8h0"/>
<path fill="none" stroke="#1a1a1a" stroke-width="1.6" stroke-linecap="square" d="M63.1 104.3h0M63.4 94.1h0M58.6 86.4h0M53.3 97.4h0M65.7 105.8h0M54.1 106.4h0M48.2 98.7h0M50.0 90.4h0M52.7 86.6h0M76.7 84.3h0M62.1 90.4h0M64.8 83.4h0M58.3 89.2h0M56.3 84.5h0M52.2 77.3h0M52.5 85.2h0M54.1 80.6h0M53.7 86.9h0M64.4 84.9h0M62.4 87.3h0M60.2 80.4h0M61.2 85.1h0M68.1 85.2h0M48.9 85.3h0M296.2 100.9h0M284.4 93.1h0M290.6 104.9h0M287.0 97.7h0M309.8 103.2h0M279.8 72.8h0M309.8 110.2h0M307.8 92.7h0M301.8 105.8h0M282.1 97.5h0M303.2 88.0h0M292.6 97.7h0M295.1 97.5h0M299.1 99.2h0M294.6 81.3h0M291.8 92.2h0M288.6 94.7h0M296.7 98.6h0M304.2 81.8h0M310.0 97.3h0M296.1 93.5h0M300.2 81.6h0M311.0 103.5h0M299.7 91.7h0M287.0 93.4h0M291.5 100.0h0M293.9 79.8h0M309.5 106.7h0M304.9 76.6h0M302.9 95.8h0M301.3 101.6h0M295.9 86.5h0M297.5 89.8h0M308.4 109.7h0M304.4 87.6h0M299.1 99.6h0M305.7 103.6h0M305.8 115.5h0M293.2 100.8h0M298.2 96.4h0M286.3 100.1h0M298.4 86.7h0M319.4 93.0h0M292.4 117.0h0M301.0 128.4h0M291.2 113.0h0M291.3 91.5h0M293.6 122.1h0M297.6 89.4h0M293.0 119.6h0M291.2 112.0h0M281.2 103.1h0M309.8 107.4h0M287.7 114.3h0M297.4 124.2h0M306.0 97.1h0M303.9 129.7h0M305.6 124.3h0M296.6 120.3h0M290.5 115.4h0M292.1 129.1h0M294.9 104.7h0M301.1 120.4h0M308.5 106.9h0M279.4 109.4h0M294.6 110.6h0M294.1 104.4h0M288.5 122.6h0M287.8 94.1h0M408.8 118.4h0M399.9 105.5h0M398.4 113.4h0M411.3 119.7h0M397.2 115.1h0M400.4 92.8h0M400.3 91.0h0M401.1 95.3h0M412.9 83.5h0M402.9 118.1h0M396.5 93.9h0M404.1 123.6h0M393.4 100.9h0M391.6 105.6h0M418.9 125.6h0M400.6 114.0h0M397.8 103.4h0M392.9 128.4h0M404.5 126.6h0M415.0 110.9h0M415.2 126.0h0M414.1 104.3h0M399.7 124.7h0M415.1 110.5h0M415.6 108.4h0M394.8 101.6h0M409.9 134.2h0M408.8 117.5h0M414.3 112.3h0M407.4 121.8h0M391.9 104.0h0M409.4 113.7h0M406.3 102.4h0M412.3 120.6h0M391.9 132.4h0M423.6 123.9h0M398.5 111.3h0M403.5 108.1h0M411.1 109.8h0M398.6 97.2h0M388.5 118.8h0M416.7 119.2h0M410.7 102.7h0M399.2 101.4h0M389.5 123.8h0M420.7 105.8h0M397.3 127.0h0M393.5 118.3h0M410.2 111.6h0M405.8 116.1h0M404.7 125.3h0M403.7 98.5h0M415.4 101.7h0M426.4 120.7h0M407.6 134.6h0M398.4 111.8h0M408.0 106.8h0M401.2 122.0h0M417.1 113.1h0M387.1 112.6h0M416.6 119.3h0M407.3 100.2h0M398.4 125.5h0M399.2 99.7h0M398.8 112.7h0M392.3 104.7h0M401.6 101.9h0M406.2 114.1h0M396.4 110.2h0M413.5 109.2h0M392.6 115.2h0M405.4 114.9h0M410.2 123.9h0M407.0 117.0h0M409.6 92.1h0M411.8 103.5h0M405.3 96.9h0M423.7 134.4h0M400.4 92.7h0M407.9 116.6h0M394.3 114.8h0M403.5 111.8h0M413.7 131.7h0M395.3 113.3h0M410.4 101.8h0M387.5 112.2h0M398.7 106.2h0M405.4 131.2h0M414.6 136.1h0M421.6 97.1h0M417.3 123.5h0M411.2 105.6h0M416.7 103.1h0M406.8 113.8h0M419.2 124.8h0M407.7 128.0h0M413.0 106.0h0M419.5 110.0h0M389.4 105.4h0M415.8 129.5h0M402.7 120.9h0M402.2 108.8h0M411.3 126.4h0M390.2 129.2h0M388.8 127.9h0M400.8 136.1h0M410.5 130.6h0M399.9 131.3h0M392.6 135.2h0M386.4 134.7h0M392.0 100.3h0M397.0 128.5h0M396.7 134.4h0M418.3 136.0h0M381.5 132.0h0M421.5 136.5h0M395.5 134.7h0M390.5 102.4h0M407.4 100.7h0M385.8 136.4h0M385.5 132.6h0M421.3 127.4h0M383.5 126.7h0M391.4 113.7h0M401.7 128.5h0M389.4 122.7h0M393.6 127.5h0M409.8 100.1h0M405.4 119.6h0M396.5 123.5h0M396.6 120.0h0M417.4 113.8h0M410.1 100.7h0M413.9 116.1h0M381.2 98.0h0M404.5 103.9h0M418.5 111.5h0M396.8 129.8h0M460.4 42.3h0M476.7 83.6h0M465.5 132.3h0M32.9 308.1h0M45.1 297.2h0M41.7 286.3h0M58.4 300.4h0M30.6 272.6h0M48.9 302.0h0M35.7 293.7h0M44.5 293.6h0M48.7 297.2h0M49.5 302.6h0M50.5 301.6h0M59.1 300.4h0M57.7 291.3h0M44.8 313.8h0M40.4 292.5h0M48.3 295.4h0M33.9 291.3h0M53.0 303.8h0M48.3 307.0h0M49.0 272.7h0M42.5 290.1h0M59.4 306.0h0M32.3 289.2h0M50.1 306.2h0M50.2 295.9h0M54.0 289.6h0M52.0 286.2h0M40.0 277.9h0M59.5 289.9h0M42.4 293.3h0M31.3 294.4h0M49.0 294.6h0M40.8 286.1h0M40.2 302.4h0M48.0 281.7h0M39.4 279.7h0M56.0 280.9h0M58.0 292.5h0M30.9 308.9h0M50.7 293.9h0M211.3 291.8h0M222.6 297.5h0M219.4 294.4h0M224.1 310.7h0M206.5 281.3h0M209.3 275.1h0M230.8 304.3h0M226.1 297.6h0M229.5 277.9h0M220.1 295.4h0M208.3 275.5h0M244.4 293.7h0M212.4 305.6h0M224.2 282.5h0M225.1 288.2h0M215.4 290.2h0M226.5 285.8h0M205.0 282.8h0M211.3 313.3h0M238.2 285.7h0M232.4 282.7h0M216.8 281.3h0M216.6 292.2h0M209.9 286.2h0M231.4 297.9h0M223.2 274.7h0M229.0 297.0h0M216.4 313.8h0M212.7 297.5h0M241.9 302.3h0M224.0 287.7h0M219.1 276.0h0M223.0 307.4h0M223.4 305.8h0M216.9 314.2h0M230.2 279.9h0M222.2 291.5h0M211.3 307.8h0M213.1 296.7h0M229.5 292.6h0M212.2 285.9h0M206.5 297.0h0M215.8 312.9h0M203.4 272.3h0M232.7 285.5h0M218.3 303.4h0M219.3 308.0h0M227.7 286.5h0M231.5 295.6h0M225.6 266.3h0M233.5 294.7h0M228.4 271.9h0M217.4 285.5h0M210.0 299.3h0M218.8 307.3h0M228.0 287.7h0M232.1 295.1h0M211.1 282.3h0M221.6 291.3h0M225.6 303.1h0M240.7 283.6h0M226.0 308.8h0M227.7 298.0h0M211.4 292.8h0M213.3 292.8h0M211.4 309.2h0M225.2 276.1h0M244.4 281.2h0M218.8 311.9h0M217.8 301.2h0M229.3 285.9h0M241.2 301.1h0M233.5 276.9h0M244.5 309.1h0M218.9 293.6h0M213.9 298.9h0M207.7 283.3h0M232.4 275.0h0M213.8 286.4h0M226.4 294.7h0M226.1 299.2h0M238.0 271.2h0M210.6 304.2h0M245.3 272.8h0M240.2 271.8h0M245.5 302.1h0M234.2 285.7h0M226.8 297.4h0M418.4 292.9h0M423.3 283.1h0M424.7 279.8h0M421.0 296.6h0M413.6 290.9h0M416.9 291.6h0M408.9 303.2h0M416.9 288.0h0M420.8 281.5h0M422.9 297.2h0M415.2 303.8h0M408.3 283.9h0M414.6 295.8h0M407.2 289.0h0M419.1 284.0h0M416.5 304.9h0M418.6 306.4h0M426.8 314.6h0M407.3 309.8h0M415.3 310.9h0M426.1 285.9h0M415.4 295.7h0M416.3 287.3h0M416.7 310.9h0M421.5 293.6h0M424.8 301.5h0M420.3 295.3h0M416.8 290.4h0M415.5 297.3h0M414.4 312.6h0M419.7 295.9h0M419.8 291.1h0M424.9 293.7h0M417.9 295.1h0M415.7 280.3h0M423.7 288.8h0M422.6 283.2h0M423.8 285.7h0M421.5 291.9h0M424.2 297.1h0M418.9 297.4h0M419.2 309.2h0M411.4 289.2h0M413.4 299.9h0M415.3 295.5h0M418.6 307.6h0M413.2 312.6h0M422.5 312.7h0M421.5 308.2h0M430.0 295.7h0M435.0 283.5h0M410.5 283.4h0M418.9 296.6h0M420.5 294.2h0M424.6 304.9h0M426.2 305.3h0M413.5 306.3h0M418.7 287.5h0M416.7 289.8h0M418.5 309.5h0M417.7 310.2h0M418.5 304.4h0M419.7 278.7h0M424.0 305.3h0M416.7 277.2h0M421.1 299.8h0M417.9 298.9h0M413.2 310.3h0M415.2 303.2h0M421.5 293.8h0M420.4 295.9h0M415.7 301.7h0M405.5 310.6h0M422.6 308.2h0M428.8 302.3h0M419.0 289.9h0M411.7 288.2h0M405.1 304.8h0M392.6 295.7h0M381.6 306.2h0M384.3 303.7h0M405.1 306.5h0M390.0 311.0h0M390.4 301.7h0M391.0 286.2h0M408.2 286.1h0M416.8 287.2h0M400.8 305.2h0M381.0 297.9h0M386.6 297.0h0M413.7 281.0h0M410.8 310.8h0M424.2 311.7h0M424.5 308.3h0M400.0 301.9h0M384.0 303.8h0M410.7 305.8h0M410.3 292.4h0M388.3 300.3h0M392.5 287.2h0M409.2 306.7h0M415.1 303.0h0M385.6 274.7h0"/>
<rect x="25.3" y="1.4" width="137.7" height="136.7" fill="none" stroke="#151515" stroke-width="1.4"/>
<rect x="201.8" y="1.6" width="138.2" height="136.6" fill="none" stroke="#151515" stroke-width="1.4"/>
<path d="M244.0 1.6V138.2M201.8 96.2H340.0" stroke="#151515" stroke-width="1.4"/>
<rect x="379.6" y="1.6" width="137.6" height="136.7" fill="none" stroke="#151515" stroke-width="1.4"/>
<path d="M422.3 1.6V138.3M379.6 96.5H517.2" stroke="#151515" stroke-width="1.4"/>
<rect x="25.7" y="179.2" width="137.8" height="137.1" fill="none" stroke="#151515" stroke-width="1.4"/>
<path d="M68.5 179.2V316.3M25.7 274.7H163.5" stroke="#151515" stroke-width="1.4"/>
<rect x="201.6" y="178.7" width="137.6" height="136.9" fill="none" stroke="#151515" stroke-width="1.4"/>
<path d="M243.8 178.7V315.6M201.6 273.2H339.2" stroke="#151515" stroke-width="1.4"/>
<rect x="379.5" y="178.7" width="137.4" height="137.1" fill="none" stroke="#151515" stroke-width="1.4"/>
<path d="M430.8 178.7V315.8M379.5 273.2H516.9" stroke="#151515" stroke-width="1.4"/>
<text x="29.1" y="17.8" font-size="17" font-family="Liberation Sans, sans-serif" font-weight="bold" stroke="#000" stroke-width="0.25">A</text>
<path d="M19.5 103.9H25.3" stroke="#151515" stroke-width="1.1"/>
<text transform="translate(20.3 115.7) rotate(-90)" font-size="8.5" stroke="#000" stroke-width="0.2" font-family="Liberation Sans, sans-serif" font-weight="bold">10<tspan font-size="5.5" dy="-2.6" dx="3.6">1</tspan></text>
<path d="M19.5 69.7H25.3" stroke="#151515" stroke-width="1.1"/>
<text transform="translate(20.3 81.5) rotate(-90)" font-size="8.5" stroke="#000" stroke-width="0.2" font-family="Liberation Sans, sans-serif" font-weight="bold">10<tspan font-size="5.5" dy="-2.6" dx="3.6">2</tspan></text>
<path d="M19.5 35.5H25.3" stroke="#151515" stroke-width="1.1"/>
<text transform="translate(20.3 47.3) rotate(-90)" font-size="8.5" stroke="#000" stroke-width="0.2" font-family="Liberation Sans, sans-serif" font-weight="bold">10<tspan font-size="5.5" dy="-2.6" dx="3.6">3</tspan></text>
<text transform="translate(9.5 70.0) rotate(-90)" font-size="12.3" text-anchor="middle" font-family="Liberation Sans, sans-serif" font-weight="bold" stroke="#000" stroke-width="0.18">Side Scatter</text>
<path d="M46.0 138.1V144.6" stroke="#151515" stroke-width="1.1"/>
<path d="M67.5 138.1V144.6" stroke="#151515" stroke-width="1.1"/>
<text x="67.5" y="151.6" font-size="7" text-anchor="middle" font-family="Liberation Sans, sans-serif" font-weight="bold">20</text>
<path d="M89.0 138.1V144.6" stroke="#151515" stroke-width="1.1"/>
<path d="M110.5 138.1V144.6" stroke="#151515" stroke-width="1.1"/>
<text x="110.5" y="151.6" font-size="7" text-anchor="middle" font-family="Liberation Sans, sans-serif" font-weight="bold">40</text>
<path d="M132.0 138.1V144.6" stroke="#151515" stroke-width="1.1"/>
<path d="M153.5 138.1V144.6" stroke="#151515" stroke-width="1.1"/>
<text x="153.5" y="151.6" font-size="7" text-anchor="middle" font-family="Liberation Sans, sans-serif" font-weight="bold">60</text>
<text x="94.9" y="166.7" font-size="12.3" text-anchor="middle" font-family="Liberation Sans, sans-serif" font-weight="bold" stroke="#000" stroke-width="0.18">Forward Light Scatter</text>
<text x="205.6" y="18.0" font-size="17" font-family="Liberation Sans, sans-serif" font-weight="bold" stroke="#000" stroke-width="0.25">B</text>
<path d="M195.9 104.0H201.8" stroke="#151515" stroke-width="1.1"/>
<text transform="translate(196.8 115.8) rotate(-90)" font-size="8.5" stroke="#000" stroke-width="0.2" font-family="Liberation Sans, sans-serif" font-weight="bold">10<tspan font-size="5.5" dy="-2.6" dx="3.6">1</tspan></text>
<path d="M195.9 69.8H201.8" stroke="#151515" stroke-width="1.1"/>
<text transform="translate(196.8 81.6) rotate(-90)" font-size="8.5" stroke="#000" stroke-width="0.2" font-family="Liberation Sans, sans-serif" font-weight="bold">10<tspan font-size="5.5" dy="-2.6" dx="3.6">2</tspan></text>
<path d="M195.9 35.6H201.8" stroke="#151515" stroke-width="1.1"/>
<text transform="translate(196.8 47.4) rotate(-90)" font-size="8.5" stroke="#000" stroke-width="0.2" font-family="Liberation Sans, sans-serif" font-weight="bold">10<tspan font-size="5.5" dy="-2.6" dx="3.6">3</tspan></text>
<text transform="translate(185.0 71.8) rotate(-90)" font-size="12.3" text-anchor="middle" font-family="Liberation Sans, sans-serif" font-weight="bold" stroke="#000" stroke-width="0.18">CD2 PE</text>
<path d="M236.8 138.2V144.2" stroke="#151515" stroke-width="1.1"/>
<text x="234.9" y="148.8" font-size="9" text-anchor="end" stroke="#000" stroke-width="0.2" font-family="Liberation Sans, sans-serif" font-weight="bold">10</text>
<text x="238.6" y="145.8" font-size="5.5" font-family="Liberation Sans, sans-serif" font-weight="bold">1</text>
<path d="M271.1 138.2V144.2" stroke="#151515" stroke-width="1.1"/>
<text x="269.2" y="148.8" font-size="9" text-anchor="end" stroke="#000" stroke-width="0.2" font-family="Liberation Sans, sans-serif" font-weight="bold">10</text>
<text x="272.9" y="145.8" font-size="5.5" font-family="Liberation Sans, sans-serif" font-weight="bold">2</text>
<path d="M305.4 138.2V144.2" stroke="#151515" stroke-width="1.1"/>
<text x="303.6" y="148.8" font-size="9" text-anchor="end" stroke="#000" stroke-width="0.2" font-family="Liberation Sans, sans-serif" font-weight="bold">10</text>
<text x="307.2" y="145.8" font-size="5.5" font-family="Liberation Sans, sans-serif" font-weight="bold">3</text>
<text x="275.0" y="166.8" font-size="12.3" text-anchor="middle" font-family="Liberation Sans, sans-serif" font-weight="bold" stroke="#000" stroke-width="0.18">HLA-DR  FITC</text>
<text x="383.4" y="18.0" font-size="17" font-family="Liberation Sans, sans-serif" font-weight="bold" stroke="#000" stroke-width="0.25">C</text>
<path d="M373.8 104.1H379.6" stroke="#151515" stroke-width="1.1"/>
<text transform="translate(374.6 115.9) rotate(-90)" font-size="8.5" stroke="#000" stroke-width="0.2" font-family="Liberation Sans, sans-serif" font-weight="bold">10<tspan font-size="5.5" dy="-2.6" dx="3.6">1</tspan></text>
<path d="M373.8 69.9H379.6" stroke="#151515" stroke-width="1.1"/>
<text transform="translate(374.6 81.7) rotate(-90)" font-size="8.5" stroke="#000" stroke-width="0.2" font-family="Liberation Sans, sans-serif" font-weight="bold">10<tspan font-size="5.5" dy="-2.6" dx="3.6">2</tspan></text>
<path d="M373.8 35.7H379.6" stroke="#151515" stroke-width="1.1"/>
<text transform="translate(374.6 47.5) rotate(-90)" font-size="8.5" stroke="#000" stroke-width="0.2" font-family="Liberation Sans, sans-serif" font-weight="bold">10<tspan font-size="5.5" dy="-2.6" dx="3.6">3</tspan></text>
<text transform="translate(363.0 72.1) rotate(-90)" font-size="12.3" text-anchor="middle" font-family="Liberation Sans, sans-serif" font-weight="bold" stroke="#000" stroke-width="0.18">CD4 PE</text>
<path d="M414.6 138.3V144.3" stroke="#151515" stroke-width="1.1"/>
<text x="412.8" y="148.9" font-size="9" text-anchor="end" stroke="#000" stroke-width="0.2" font-family="Liberation Sans, sans-serif" font-weight="bold">10</text>
<text x="416.4" y="145.9" font-size="5.5" font-family="Liberation Sans, sans-serif" font-weight="bold">1</text>
<path d="M448.9 138.3V144.3" stroke="#151515" stroke-width="1.1"/>
<text x="447.1" y="148.9" font-size="9" text-anchor="end" stroke="#000" stroke-width="0.2" font-family="Liberation Sans, sans-serif" font-weight="bold">10</text>
<text x="450.7" y="145.9" font-size="5.5" font-family="Liberation Sans, sans-serif" font-weight="bold">2</text>
<path d="M483.2 138.3V144.3" stroke="#151515" stroke-width="1.1"/>
<text x="481.4" y="148.9" font-size="9" text-anchor="end" stroke="#000" stroke-width="0.2" font-family="Liberation Sans, sans-serif" font-weight="bold">10</text>
<text x="485.0" y="145.9" font-size="5.5" font-family="Liberation Sans, sans-serif" font-weight="bold">3</text>
<text x="448.0" y="166.9" font-size="12.3" text-anchor="middle" font-family="Liberation Sans, sans-serif" font-weight="bold" stroke="#000" stroke-width="0.18">CD8 FITC</text>
<text x="29.5" y="195.6" font-size="17" font-family="Liberation Sans, sans-serif" font-weight="bold" stroke="#000" stroke-width="0.25">D</text>
<path d="M19.9 282.1H25.7" stroke="#151515" stroke-width="1.1"/>
<text transform="translate(20.7 293.9) rotate(-90)" font-size="8.5" stroke="#000" stroke-width="0.2" font-family="Liberation Sans, sans-serif" font-weight="bold">10<tspan font-size="5.5" dy="-2.6" dx="3.6">1</tspan></text>
<path d="M19.9 247.9H25.7" stroke="#151515" stroke-width="1.1"/>
<text transform="translate(20.7 259.7) rotate(-90)" font-size="8.5" stroke="#000" stroke-width="0.2" font-family="Liberation Sans, sans-serif" font-weight="bold">10<tspan font-size="5.5" dy="-2.6" dx="3.6">2</tspan></text>
<path d="M19.9 213.7H25.7" stroke="#151515" stroke-width="1.1"/>
<text transform="translate(20.7 225.5) rotate(-90)" font-size="8.5" stroke="#000" stroke-width="0.2" font-family="Liberation Sans, sans-serif" font-weight="bold">10<tspan font-size="5.5" dy="-2.6" dx="3.6">3</tspan></text>
<text transform="translate(10.4 247.1) rotate(-90)" font-size="12.3" text-anchor="middle" font-family="Liberation Sans, sans-serif" font-weight="bold" stroke="#000" stroke-width="0.18">CD5 PE</text>
<path d="M60.7 316.3V322.3" stroke="#151515" stroke-width="1.1"/>
<text x="58.9" y="326.9" font-size="9" text-anchor="end" stroke="#000" stroke-width="0.2" font-family="Liberation Sans, sans-serif" font-weight="bold">10</text>
<text x="62.5" y="323.9" font-size="5.5" font-family="Liberation Sans, sans-serif" font-weight="bold">1</text>
<path d="M95.0 316.3V322.3" stroke="#151515" stroke-width="1.1"/>
<text x="93.2" y="326.9" font-size="9" text-anchor="end" stroke="#000" stroke-width="0.2" font-family="Liberation Sans, sans-serif" font-weight="bold">10</text>
<text x="96.8" y="323.9" font-size="5.5" font-family="Liberation Sans, sans-serif" font-weight="bold">2</text>
<path d="M129.3 316.3V322.3" stroke="#151515" stroke-width="1.1"/>
<text x="127.5" y="326.9" font-size="9" text-anchor="end" stroke="#000" stroke-width="0.2" font-family="Liberation Sans, sans-serif" font-weight="bold">10</text>
<text x="131.1" y="323.9" font-size="5.5" font-family="Liberation Sans, sans-serif" font-weight="bold">3</text>
<text x="94.0" y="344.9" font-size="12.3" text-anchor="middle" font-family="Liberation Sans, sans-serif" font-weight="bold" stroke="#000" stroke-width="0.18">CD7 FITC</text>
<text x="205.4" y="195.1" font-size="17" font-family="Liberation Sans, sans-serif" font-weight="bold" stroke="#000" stroke-width="0.25">E</text>
<path d="M195.8 281.4H201.6" stroke="#151515" stroke-width="1.1"/>
<text transform="translate(196.6 293.2) rotate(-90)" font-size="8.5" stroke="#000" stroke-width="0.2" font-family="Liberation Sans, sans-serif" font-weight="bold">10<tspan font-size="5.5" dy="-2.6" dx="3.6">1</tspan></text>
<path d="M195.8 247.2H201.6" stroke="#151515" stroke-width="1.1"/>
<text transform="translate(196.6 259.0) rotate(-90)" font-size="8.5" stroke="#000" stroke-width="0.2" font-family="Liberation Sans, sans-serif" font-weight="bold">10<tspan font-size="5.5" dy="-2.6" dx="3.6">2</tspan></text>
<path d="M195.8 213.0H201.6" stroke="#151515" stroke-width="1.1"/>
<text transform="translate(196.6 224.8) rotate(-90)" font-size="8.5" stroke="#000" stroke-width="0.2" font-family="Liberation Sans, sans-serif" font-weight="bold">10<tspan font-size="5.5" dy="-2.6" dx="3.6">3</tspan></text>
<text transform="translate(184.6 249.4) rotate(-90)" font-size="12.3" text-anchor="middle" font-family="Liberation Sans, sans-serif" font-weight="bold" stroke="#000" stroke-width="0.18">CD56 PE</text>
<path d="M236.6 315.6V321.6" stroke="#151515" stroke-width="1.1"/>
<text x="234.8" y="326.2" font-size="9" text-anchor="end" stroke="#000" stroke-width="0.2" font-family="Liberation Sans, sans-serif" font-weight="bold">10</text>
<text x="238.4" y="323.2" font-size="5.5" font-family="Liberation Sans, sans-serif" font-weight="bold">1</text>
<path d="M270.9 315.6V321.6" stroke="#151515" stroke-width="1.1"/>
<text x="269.1" y="326.2" font-size="9" text-anchor="end" stroke="#000" stroke-width="0.2" font-family="Liberation Sans, sans-serif" font-weight="bold">10</text>
<text x="272.7" y="323.2" font-size="5.5" font-family="Liberation Sans, sans-serif" font-weight="bold">2</text>
<path d="M305.2 315.6V321.6" stroke="#151515" stroke-width="1.1"/>
<text x="303.4" y="326.2" font-size="9" text-anchor="end" stroke="#000" stroke-width="0.2" font-family="Liberation Sans, sans-serif" font-weight="bold">10</text>
<text x="307.0" y="323.2" font-size="5.5" font-family="Liberation Sans, sans-serif" font-weight="bold">3</text>
<text x="269.6" y="344.2" font-size="12.3" text-anchor="middle" font-family="Liberation Sans, sans-serif" font-weight="bold" stroke="#000" stroke-width="0.18">CD3 FITC</text>
<text x="383.3" y="195.1" font-size="17" font-family="Liberation Sans, sans-serif" font-weight="bold" stroke="#000" stroke-width="0.25">F</text>
<path d="M373.7 281.6H379.5" stroke="#151515" stroke-width="1.1"/>
<text transform="translate(374.5 293.4) rotate(-90)" font-size="8.5" stroke="#000" stroke-width="0.2" font-family="Liberation Sans, sans-serif" font-weight="bold">10<tspan font-size="5.5" dy="-2.6" dx="3.6">1</tspan></text>
<path d="M373.7 247.4H379.5" stroke="#151515" stroke-width="1.1"/>
<text transform="translate(374.5 259.2) rotate(-90)" font-size="8.5" stroke="#000" stroke-width="0.2" font-family="Liberation Sans, sans-serif" font-weight="bold">10<tspan font-size="5.5" dy="-2.6" dx="3.6">2</tspan></text>
<path d="M373.7 213.2H379.5" stroke="#151515" stroke-width="1.1"/>
<text transform="translate(374.5 225.0) rotate(-90)" font-size="8.5" stroke="#000" stroke-width="0.2" font-family="Liberation Sans, sans-serif" font-weight="bold">10<tspan font-size="5.5" dy="-2.6" dx="3.6">3</tspan></text>
<text transform="translate(363.0 250.0) rotate(-90)" font-size="12.3" text-anchor="middle" font-family="Liberation Sans, sans-serif" font-weight="bold" stroke="#000" stroke-width="0.18">None</text>
<path d="M414.5 315.8V321.8" stroke="#151515" stroke-width="1.1"/>
<text x="412.7" y="326.4" font-size="9" text-anchor="end" stroke="#000" stroke-width="0.2" font-family="Liberation Sans, sans-serif" font-weight="bold">10</text>
<text x="416.3" y="323.4" font-size="5.5" font-family="Liberation Sans, sans-serif" font-weight="bold">1</text>
<path d="M448.8 315.8V321.8" stroke="#151515" stroke-width="1.1"/>
<text x="447.0" y="326.4" font-size="9" text-anchor="end" stroke="#000" stroke-width="0.2" font-family="Liberation Sans, sans-serif" font-weight="bold">10</text>
<text x="450.6" y="323.4" font-size="5.5" font-family="Liberation Sans, sans-serif" font-weight="bold">2</text>
<path d="M483.1 315.8V321.8" stroke="#151515" stroke-width="1.1"/>
<text x="481.3" y="326.4" font-size="9" text-anchor="end" stroke="#000" stroke-width="0.2" font-family="Liberation Sans, sans-serif" font-weight="bold">10</text>
<text x="484.9" y="323.4" font-size="5.5" font-family="Liberation Sans, sans-serif" font-weight="bold">3</text>
<text x="441.8" y="344.4" font-size="12.3" text-anchor="middle" font-family="Liberation Sans, sans-serif" font-weight="bold" stroke="#000" stroke-width="0.18">Cyto-CD3 FITC</text>
<path d="M67.8 77.5L76.0 68.0L86.0 60.2L136.1 56.4L137.5 57.5L139.6 61.9L142.2 68.8L142.7 75.8L141.3 81.0L137.9 87.0L132.7 92.2L127.5 95.7L120.6 99.1L111.9 100.8L105.8 99.6L102.4 96.5L100.7 93.9L98.5 90.0" fill="none" stroke="#555" stroke-width="1.1"/>
<path d="M70.0 86.3L45.4 86.3L44.2 87.5L43.6 88.5L43.6 101.2L44.8 103.6L47.2 105.4L49.5 107.2L85.3 107.2L86.5 108.2L91.3 107.8L95.4 107.2L95.4 96.0L97.5 94.0" fill="none" stroke="#555" stroke-width="1.1"/>
<text x="82.6" y="46.8" font-size="15.2" fill="#dd1530" stroke="#dd1530" stroke-width="0.3" font-family="Liberation Sans, sans-serif" font-weight="bold">Large</text>
<text x="94.6" y="125.4" font-size="15.3" fill="#2222a0" stroke="#2222a0" stroke-width="0.3" font-family="Liberation Sans, sans-serif" font-weight="bold">Small</text>
<path d="M143.8 198.9H152" stroke="#111" stroke-width="1.6"/>
</svg>
</body></html>
